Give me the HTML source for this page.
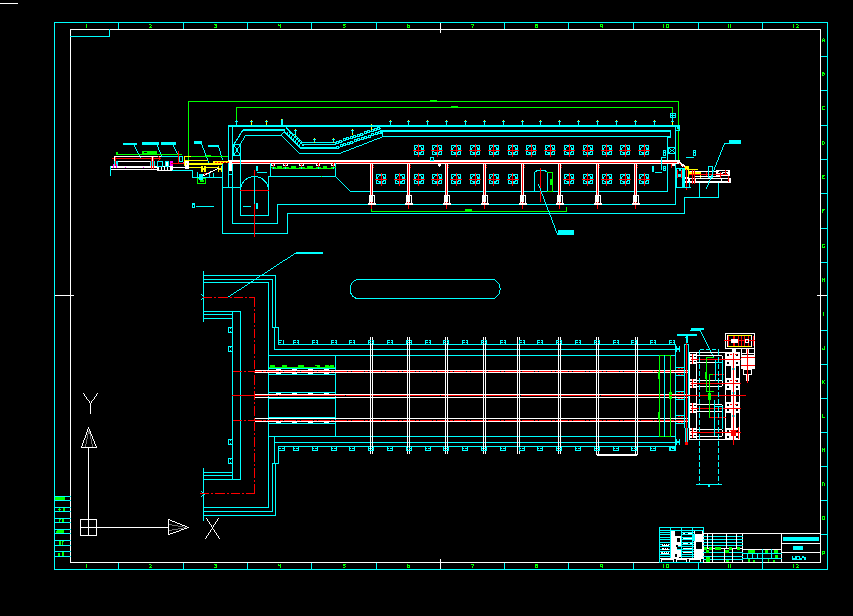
<!DOCTYPE html>
<html><head><meta charset="utf-8"><title>CAD</title>
<style>
html,body{margin:0;padding:0;background:#000;overflow:hidden}
svg{display:block;font-family:"Liberation Sans",sans-serif}
</style></head><body>
<svg width="853" height="616" viewBox="0 0 853 616" shape-rendering="crispEdges">
<rect width="853" height="616" fill="#000"/>
<rect x="0" y="3" width="18" height="1" fill="#ffffff"/>
<rect x="54" y="22" width="774" height="1" fill="#00ffff"/>
<rect x="54" y="569" width="774" height="1" fill="#00ffff"/>
<rect x="54" y="22" width="1" height="548" fill="#00ffff"/>
<rect x="827" y="22" width="1" height="548" fill="#00ffff"/>
<rect x="70" y="29" width="751" height="1" fill="#ffffff"/>
<rect x="70" y="562" width="751" height="1" fill="#ffffff"/>
<rect x="70" y="29" width="1" height="534" fill="#ffffff"/>
<rect x="820" y="29" width="1" height="534" fill="#ffffff"/>
<rect x="118" y="22" width="1" height="7" fill="#00ffff"/>
<rect x="118" y="563" width="1" height="7" fill="#00ffff"/>
<rect x="183" y="22" width="1" height="7" fill="#00ffff"/>
<rect x="183" y="563" width="1" height="7" fill="#00ffff"/>
<rect x="247" y="22" width="1" height="7" fill="#00ffff"/>
<rect x="247" y="563" width="1" height="7" fill="#00ffff"/>
<rect x="311" y="22" width="1" height="7" fill="#00ffff"/>
<rect x="311" y="563" width="1" height="7" fill="#00ffff"/>
<rect x="376" y="22" width="1" height="7" fill="#00ffff"/>
<rect x="376" y="563" width="1" height="7" fill="#00ffff"/>
<rect x="504" y="22" width="1" height="7" fill="#00ffff"/>
<rect x="504" y="563" width="1" height="7" fill="#00ffff"/>
<rect x="568" y="22" width="1" height="7" fill="#00ffff"/>
<rect x="568" y="563" width="1" height="7" fill="#00ffff"/>
<rect x="633" y="22" width="1" height="7" fill="#00ffff"/>
<rect x="633" y="563" width="1" height="7" fill="#00ffff"/>
<rect x="698" y="22" width="1" height="7" fill="#00ffff"/>
<rect x="698" y="563" width="1" height="7" fill="#00ffff"/>
<rect x="762" y="22" width="1" height="7" fill="#00ffff"/>
<rect x="762" y="563" width="1" height="7" fill="#00ffff"/>
<rect x="440" y="23" width="1" height="10" fill="#ffffff"/>
<rect x="440" y="559" width="1" height="10" fill="#ffffff"/>
<rect x="55" y="295" width="19" height="1" fill="#ffffff"/>
<rect x="817" y="295" width="10" height="1" fill="#ffffff"/>
<rect x="821" y="56" width="7" height="1" fill="#00ffff"/>
<rect x="821" y="90" width="7" height="1" fill="#00ffff"/>
<rect x="821" y="125" width="7" height="1" fill="#00ffff"/>
<rect x="821" y="159" width="7" height="1" fill="#00ffff"/>
<rect x="821" y="193" width="7" height="1" fill="#00ffff"/>
<rect x="821" y="228" width="7" height="1" fill="#00ffff"/>
<rect x="821" y="262" width="7" height="1" fill="#00ffff"/>
<rect x="821" y="330" width="7" height="1" fill="#00ffff"/>
<rect x="821" y="364" width="7" height="1" fill="#00ffff"/>
<rect x="821" y="398" width="7" height="1" fill="#00ffff"/>
<rect x="821" y="432" width="7" height="1" fill="#00ffff"/>
<rect x="821" y="466" width="7" height="1" fill="#00ffff"/>
<rect x="821" y="500" width="7" height="1" fill="#00ffff"/>
<rect x="821" y="534" width="7" height="1" fill="#00ffff"/>
<rect x="70" y="36" width="40" height="1" fill="#00ffff"/>
<rect x="109" y="29" width="1" height="8" fill="#00ffff"/>
<rect x="86" y="24" width="1" height="1" fill="#00ff00"/>
<rect x="86" y="25" width="1" height="1" fill="#00ff00"/>
<rect x="86" y="26" width="1" height="1" fill="#00ff00"/>
<rect x="86" y="27" width="1" height="1" fill="#00ff00"/>
<rect x="86" y="564" width="1" height="1" fill="#00ff00"/>
<rect x="86" y="565" width="1" height="1" fill="#00ff00"/>
<rect x="86" y="566" width="1" height="1" fill="#00ff00"/>
<rect x="86" y="567" width="1" height="1" fill="#00ff00"/>
<rect x="149" y="24" width="1" height="1" fill="#00ff00"/>
<rect x="150" y="24" width="1" height="1" fill="#00ff00"/>
<rect x="151" y="25" width="1" height="1" fill="#00ff00"/>
<rect x="150" y="26" width="1" height="1" fill="#00ff00"/>
<rect x="149" y="27" width="1" height="1" fill="#00ff00"/>
<rect x="150" y="27" width="1" height="1" fill="#00ff00"/>
<rect x="151" y="27" width="1" height="1" fill="#00ff00"/>
<rect x="149" y="564" width="1" height="1" fill="#00ff00"/>
<rect x="150" y="564" width="1" height="1" fill="#00ff00"/>
<rect x="151" y="565" width="1" height="1" fill="#00ff00"/>
<rect x="150" y="566" width="1" height="1" fill="#00ff00"/>
<rect x="149" y="567" width="1" height="1" fill="#00ff00"/>
<rect x="150" y="567" width="1" height="1" fill="#00ff00"/>
<rect x="151" y="567" width="1" height="1" fill="#00ff00"/>
<rect x="214" y="24" width="1" height="1" fill="#00ff00"/>
<rect x="215" y="24" width="1" height="1" fill="#00ff00"/>
<rect x="216" y="24" width="1" height="1" fill="#00ff00"/>
<rect x="215" y="25" width="1" height="1" fill="#00ff00"/>
<rect x="216" y="25" width="1" height="1" fill="#00ff00"/>
<rect x="216" y="26" width="1" height="1" fill="#00ff00"/>
<rect x="214" y="27" width="1" height="1" fill="#00ff00"/>
<rect x="215" y="27" width="1" height="1" fill="#00ff00"/>
<rect x="216" y="27" width="1" height="1" fill="#00ff00"/>
<rect x="214" y="564" width="1" height="1" fill="#00ff00"/>
<rect x="215" y="564" width="1" height="1" fill="#00ff00"/>
<rect x="216" y="564" width="1" height="1" fill="#00ff00"/>
<rect x="215" y="565" width="1" height="1" fill="#00ff00"/>
<rect x="216" y="565" width="1" height="1" fill="#00ff00"/>
<rect x="216" y="566" width="1" height="1" fill="#00ff00"/>
<rect x="214" y="567" width="1" height="1" fill="#00ff00"/>
<rect x="215" y="567" width="1" height="1" fill="#00ff00"/>
<rect x="216" y="567" width="1" height="1" fill="#00ff00"/>
<rect x="278" y="24" width="1" height="1" fill="#00ff00"/>
<rect x="280" y="24" width="1" height="1" fill="#00ff00"/>
<rect x="278" y="25" width="1" height="1" fill="#00ff00"/>
<rect x="279" y="25" width="1" height="1" fill="#00ff00"/>
<rect x="280" y="25" width="1" height="1" fill="#00ff00"/>
<rect x="280" y="26" width="1" height="1" fill="#00ff00"/>
<rect x="280" y="27" width="1" height="1" fill="#00ff00"/>
<rect x="278" y="564" width="1" height="1" fill="#00ff00"/>
<rect x="280" y="564" width="1" height="1" fill="#00ff00"/>
<rect x="278" y="565" width="1" height="1" fill="#00ff00"/>
<rect x="279" y="565" width="1" height="1" fill="#00ff00"/>
<rect x="280" y="565" width="1" height="1" fill="#00ff00"/>
<rect x="280" y="566" width="1" height="1" fill="#00ff00"/>
<rect x="280" y="567" width="1" height="1" fill="#00ff00"/>
<rect x="343" y="24" width="1" height="1" fill="#00ff00"/>
<rect x="344" y="24" width="1" height="1" fill="#00ff00"/>
<rect x="345" y="24" width="1" height="1" fill="#00ff00"/>
<rect x="343" y="25" width="1" height="1" fill="#00ff00"/>
<rect x="344" y="25" width="1" height="1" fill="#00ff00"/>
<rect x="345" y="26" width="1" height="1" fill="#00ff00"/>
<rect x="343" y="27" width="1" height="1" fill="#00ff00"/>
<rect x="344" y="27" width="1" height="1" fill="#00ff00"/>
<rect x="343" y="564" width="1" height="1" fill="#00ff00"/>
<rect x="344" y="564" width="1" height="1" fill="#00ff00"/>
<rect x="345" y="564" width="1" height="1" fill="#00ff00"/>
<rect x="343" y="565" width="1" height="1" fill="#00ff00"/>
<rect x="344" y="565" width="1" height="1" fill="#00ff00"/>
<rect x="345" y="566" width="1" height="1" fill="#00ff00"/>
<rect x="343" y="567" width="1" height="1" fill="#00ff00"/>
<rect x="344" y="567" width="1" height="1" fill="#00ff00"/>
<rect x="407" y="24" width="1" height="1" fill="#00ff00"/>
<rect x="407" y="25" width="1" height="1" fill="#00ff00"/>
<rect x="408" y="25" width="1" height="1" fill="#00ff00"/>
<rect x="409" y="25" width="1" height="1" fill="#00ff00"/>
<rect x="407" y="26" width="1" height="1" fill="#00ff00"/>
<rect x="409" y="26" width="1" height="1" fill="#00ff00"/>
<rect x="407" y="27" width="1" height="1" fill="#00ff00"/>
<rect x="408" y="27" width="1" height="1" fill="#00ff00"/>
<rect x="409" y="27" width="1" height="1" fill="#00ff00"/>
<rect x="407" y="564" width="1" height="1" fill="#00ff00"/>
<rect x="407" y="565" width="1" height="1" fill="#00ff00"/>
<rect x="408" y="565" width="1" height="1" fill="#00ff00"/>
<rect x="409" y="565" width="1" height="1" fill="#00ff00"/>
<rect x="407" y="566" width="1" height="1" fill="#00ff00"/>
<rect x="409" y="566" width="1" height="1" fill="#00ff00"/>
<rect x="407" y="567" width="1" height="1" fill="#00ff00"/>
<rect x="408" y="567" width="1" height="1" fill="#00ff00"/>
<rect x="409" y="567" width="1" height="1" fill="#00ff00"/>
<rect x="471" y="24" width="1" height="1" fill="#00ff00"/>
<rect x="472" y="24" width="1" height="1" fill="#00ff00"/>
<rect x="473" y="24" width="1" height="1" fill="#00ff00"/>
<rect x="473" y="25" width="1" height="1" fill="#00ff00"/>
<rect x="472" y="26" width="1" height="1" fill="#00ff00"/>
<rect x="472" y="27" width="1" height="1" fill="#00ff00"/>
<rect x="471" y="564" width="1" height="1" fill="#00ff00"/>
<rect x="472" y="564" width="1" height="1" fill="#00ff00"/>
<rect x="473" y="564" width="1" height="1" fill="#00ff00"/>
<rect x="473" y="565" width="1" height="1" fill="#00ff00"/>
<rect x="472" y="566" width="1" height="1" fill="#00ff00"/>
<rect x="472" y="567" width="1" height="1" fill="#00ff00"/>
<rect x="535" y="24" width="1" height="1" fill="#00ff00"/>
<rect x="536" y="24" width="1" height="1" fill="#00ff00"/>
<rect x="537" y="24" width="1" height="1" fill="#00ff00"/>
<rect x="535" y="25" width="1" height="1" fill="#00ff00"/>
<rect x="536" y="25" width="1" height="1" fill="#00ff00"/>
<rect x="537" y="25" width="1" height="1" fill="#00ff00"/>
<rect x="535" y="26" width="1" height="1" fill="#00ff00"/>
<rect x="537" y="26" width="1" height="1" fill="#00ff00"/>
<rect x="535" y="27" width="1" height="1" fill="#00ff00"/>
<rect x="536" y="27" width="1" height="1" fill="#00ff00"/>
<rect x="537" y="27" width="1" height="1" fill="#00ff00"/>
<rect x="535" y="564" width="1" height="1" fill="#00ff00"/>
<rect x="536" y="564" width="1" height="1" fill="#00ff00"/>
<rect x="537" y="564" width="1" height="1" fill="#00ff00"/>
<rect x="535" y="565" width="1" height="1" fill="#00ff00"/>
<rect x="536" y="565" width="1" height="1" fill="#00ff00"/>
<rect x="537" y="565" width="1" height="1" fill="#00ff00"/>
<rect x="535" y="566" width="1" height="1" fill="#00ff00"/>
<rect x="537" y="566" width="1" height="1" fill="#00ff00"/>
<rect x="535" y="567" width="1" height="1" fill="#00ff00"/>
<rect x="536" y="567" width="1" height="1" fill="#00ff00"/>
<rect x="537" y="567" width="1" height="1" fill="#00ff00"/>
<rect x="600" y="24" width="1" height="1" fill="#00ff00"/>
<rect x="601" y="24" width="1" height="1" fill="#00ff00"/>
<rect x="602" y="24" width="1" height="1" fill="#00ff00"/>
<rect x="600" y="25" width="1" height="1" fill="#00ff00"/>
<rect x="602" y="25" width="1" height="1" fill="#00ff00"/>
<rect x="600" y="26" width="1" height="1" fill="#00ff00"/>
<rect x="601" y="26" width="1" height="1" fill="#00ff00"/>
<rect x="602" y="26" width="1" height="1" fill="#00ff00"/>
<rect x="602" y="27" width="1" height="1" fill="#00ff00"/>
<rect x="600" y="564" width="1" height="1" fill="#00ff00"/>
<rect x="601" y="564" width="1" height="1" fill="#00ff00"/>
<rect x="602" y="564" width="1" height="1" fill="#00ff00"/>
<rect x="600" y="565" width="1" height="1" fill="#00ff00"/>
<rect x="602" y="565" width="1" height="1" fill="#00ff00"/>
<rect x="600" y="566" width="1" height="1" fill="#00ff00"/>
<rect x="601" y="566" width="1" height="1" fill="#00ff00"/>
<rect x="602" y="566" width="1" height="1" fill="#00ff00"/>
<rect x="602" y="567" width="1" height="1" fill="#00ff00"/>
<rect x="663" y="24" width="1" height="4" fill="#00ff00"/>
<rect x="666" y="24" width="1" height="1" fill="#00ff00"/>
<rect x="667" y="24" width="1" height="1" fill="#00ff00"/>
<rect x="668" y="24" width="1" height="1" fill="#00ff00"/>
<rect x="666" y="25" width="1" height="1" fill="#00ff00"/>
<rect x="668" y="25" width="1" height="1" fill="#00ff00"/>
<rect x="666" y="26" width="1" height="1" fill="#00ff00"/>
<rect x="668" y="26" width="1" height="1" fill="#00ff00"/>
<rect x="666" y="27" width="1" height="1" fill="#00ff00"/>
<rect x="667" y="27" width="1" height="1" fill="#00ff00"/>
<rect x="668" y="27" width="1" height="1" fill="#00ff00"/>
<rect x="663" y="564" width="1" height="4" fill="#00ff00"/>
<rect x="666" y="564" width="1" height="1" fill="#00ff00"/>
<rect x="667" y="564" width="1" height="1" fill="#00ff00"/>
<rect x="668" y="564" width="1" height="1" fill="#00ff00"/>
<rect x="666" y="565" width="1" height="1" fill="#00ff00"/>
<rect x="668" y="565" width="1" height="1" fill="#00ff00"/>
<rect x="666" y="566" width="1" height="1" fill="#00ff00"/>
<rect x="668" y="566" width="1" height="1" fill="#00ff00"/>
<rect x="666" y="567" width="1" height="1" fill="#00ff00"/>
<rect x="667" y="567" width="1" height="1" fill="#00ff00"/>
<rect x="668" y="567" width="1" height="1" fill="#00ff00"/>
<rect x="728" y="24" width="1" height="4" fill="#00ff00"/>
<rect x="730" y="24" width="1" height="4" fill="#00ff00"/>
<rect x="728" y="564" width="1" height="4" fill="#00ff00"/>
<rect x="730" y="564" width="1" height="4" fill="#00ff00"/>
<rect x="793" y="24" width="1" height="4" fill="#00ff00"/>
<rect x="796" y="24" width="1" height="1" fill="#00ff00"/>
<rect x="797" y="24" width="1" height="1" fill="#00ff00"/>
<rect x="798" y="25" width="1" height="1" fill="#00ff00"/>
<rect x="797" y="26" width="1" height="1" fill="#00ff00"/>
<rect x="796" y="27" width="1" height="1" fill="#00ff00"/>
<rect x="797" y="27" width="1" height="1" fill="#00ff00"/>
<rect x="798" y="27" width="1" height="1" fill="#00ff00"/>
<rect x="793" y="564" width="1" height="4" fill="#00ff00"/>
<rect x="796" y="564" width="1" height="1" fill="#00ff00"/>
<rect x="797" y="564" width="1" height="1" fill="#00ff00"/>
<rect x="798" y="565" width="1" height="1" fill="#00ff00"/>
<rect x="797" y="566" width="1" height="1" fill="#00ff00"/>
<rect x="796" y="567" width="1" height="1" fill="#00ff00"/>
<rect x="797" y="567" width="1" height="1" fill="#00ff00"/>
<rect x="798" y="567" width="1" height="1" fill="#00ff00"/>
<rect x="823" y="38" width="1" height="1" fill="#00ff00"/>
<rect x="822" y="39" width="1" height="1" fill="#00ff00"/>
<rect x="824" y="39" width="1" height="1" fill="#00ff00"/>
<rect x="822" y="40" width="1" height="1" fill="#00ff00"/>
<rect x="823" y="40" width="1" height="1" fill="#00ff00"/>
<rect x="824" y="40" width="1" height="1" fill="#00ff00"/>
<rect x="822" y="41" width="1" height="1" fill="#00ff00"/>
<rect x="824" y="41" width="1" height="1" fill="#00ff00"/>
<rect x="822" y="72" width="1" height="1" fill="#00ff00"/>
<rect x="823" y="72" width="1" height="1" fill="#00ff00"/>
<rect x="822" y="73" width="1" height="1" fill="#00ff00"/>
<rect x="823" y="73" width="1" height="1" fill="#00ff00"/>
<rect x="824" y="73" width="1" height="1" fill="#00ff00"/>
<rect x="822" y="74" width="1" height="1" fill="#00ff00"/>
<rect x="824" y="74" width="1" height="1" fill="#00ff00"/>
<rect x="822" y="75" width="1" height="1" fill="#00ff00"/>
<rect x="823" y="75" width="1" height="1" fill="#00ff00"/>
<rect x="822" y="106" width="1" height="1" fill="#00ff00"/>
<rect x="823" y="106" width="1" height="1" fill="#00ff00"/>
<rect x="824" y="106" width="1" height="1" fill="#00ff00"/>
<rect x="822" y="107" width="1" height="1" fill="#00ff00"/>
<rect x="822" y="108" width="1" height="1" fill="#00ff00"/>
<rect x="822" y="109" width="1" height="1" fill="#00ff00"/>
<rect x="823" y="109" width="1" height="1" fill="#00ff00"/>
<rect x="824" y="109" width="1" height="1" fill="#00ff00"/>
<rect x="822" y="141" width="1" height="1" fill="#00ff00"/>
<rect x="823" y="141" width="1" height="1" fill="#00ff00"/>
<rect x="822" y="142" width="1" height="1" fill="#00ff00"/>
<rect x="824" y="142" width="1" height="1" fill="#00ff00"/>
<rect x="822" y="143" width="1" height="1" fill="#00ff00"/>
<rect x="824" y="143" width="1" height="1" fill="#00ff00"/>
<rect x="822" y="144" width="1" height="1" fill="#00ff00"/>
<rect x="823" y="144" width="1" height="1" fill="#00ff00"/>
<rect x="822" y="175" width="1" height="1" fill="#00ff00"/>
<rect x="823" y="175" width="1" height="1" fill="#00ff00"/>
<rect x="824" y="175" width="1" height="1" fill="#00ff00"/>
<rect x="822" y="176" width="1" height="1" fill="#00ff00"/>
<rect x="823" y="176" width="1" height="1" fill="#00ff00"/>
<rect x="822" y="177" width="1" height="1" fill="#00ff00"/>
<rect x="822" y="178" width="1" height="1" fill="#00ff00"/>
<rect x="823" y="178" width="1" height="1" fill="#00ff00"/>
<rect x="824" y="178" width="1" height="1" fill="#00ff00"/>
<rect x="822" y="209" width="1" height="1" fill="#00ff00"/>
<rect x="823" y="209" width="1" height="1" fill="#00ff00"/>
<rect x="824" y="209" width="1" height="1" fill="#00ff00"/>
<rect x="822" y="210" width="1" height="1" fill="#00ff00"/>
<rect x="823" y="210" width="1" height="1" fill="#00ff00"/>
<rect x="822" y="211" width="1" height="1" fill="#00ff00"/>
<rect x="822" y="212" width="1" height="1" fill="#00ff00"/>
<rect x="822" y="244" width="1" height="1" fill="#00ff00"/>
<rect x="823" y="244" width="1" height="1" fill="#00ff00"/>
<rect x="824" y="244" width="1" height="1" fill="#00ff00"/>
<rect x="822" y="245" width="1" height="1" fill="#00ff00"/>
<rect x="822" y="246" width="1" height="1" fill="#00ff00"/>
<rect x="824" y="246" width="1" height="1" fill="#00ff00"/>
<rect x="822" y="247" width="1" height="1" fill="#00ff00"/>
<rect x="823" y="247" width="1" height="1" fill="#00ff00"/>
<rect x="824" y="247" width="1" height="1" fill="#00ff00"/>
<rect x="822" y="278" width="1" height="1" fill="#00ff00"/>
<rect x="824" y="278" width="1" height="1" fill="#00ff00"/>
<rect x="822" y="279" width="1" height="1" fill="#00ff00"/>
<rect x="823" y="279" width="1" height="1" fill="#00ff00"/>
<rect x="824" y="279" width="1" height="1" fill="#00ff00"/>
<rect x="822" y="280" width="1" height="1" fill="#00ff00"/>
<rect x="824" y="280" width="1" height="1" fill="#00ff00"/>
<rect x="822" y="281" width="1" height="1" fill="#00ff00"/>
<rect x="824" y="281" width="1" height="1" fill="#00ff00"/>
<rect x="823" y="312" width="1" height="1" fill="#00ff00"/>
<rect x="823" y="313" width="1" height="1" fill="#00ff00"/>
<rect x="823" y="314" width="1" height="1" fill="#00ff00"/>
<rect x="823" y="315" width="1" height="1" fill="#00ff00"/>
<rect x="824" y="346" width="1" height="1" fill="#00ff00"/>
<rect x="824" y="347" width="1" height="1" fill="#00ff00"/>
<rect x="822" y="348" width="1" height="1" fill="#00ff00"/>
<rect x="824" y="348" width="1" height="1" fill="#00ff00"/>
<rect x="822" y="349" width="1" height="1" fill="#00ff00"/>
<rect x="823" y="349" width="1" height="1" fill="#00ff00"/>
<rect x="824" y="349" width="1" height="1" fill="#00ff00"/>
<rect x="822" y="380" width="1" height="1" fill="#00ff00"/>
<rect x="824" y="380" width="1" height="1" fill="#00ff00"/>
<rect x="822" y="381" width="1" height="1" fill="#00ff00"/>
<rect x="823" y="381" width="1" height="1" fill="#00ff00"/>
<rect x="822" y="382" width="1" height="1" fill="#00ff00"/>
<rect x="823" y="382" width="1" height="1" fill="#00ff00"/>
<rect x="822" y="383" width="1" height="1" fill="#00ff00"/>
<rect x="824" y="383" width="1" height="1" fill="#00ff00"/>
<rect x="822" y="414" width="1" height="1" fill="#00ff00"/>
<rect x="822" y="415" width="1" height="1" fill="#00ff00"/>
<rect x="822" y="416" width="1" height="1" fill="#00ff00"/>
<rect x="822" y="417" width="1" height="1" fill="#00ff00"/>
<rect x="823" y="417" width="1" height="1" fill="#00ff00"/>
<rect x="824" y="417" width="1" height="1" fill="#00ff00"/>
<rect x="822" y="448" width="1" height="1" fill="#00ff00"/>
<rect x="824" y="448" width="1" height="1" fill="#00ff00"/>
<rect x="822" y="449" width="1" height="1" fill="#00ff00"/>
<rect x="823" y="449" width="1" height="1" fill="#00ff00"/>
<rect x="824" y="449" width="1" height="1" fill="#00ff00"/>
<rect x="822" y="450" width="1" height="1" fill="#00ff00"/>
<rect x="824" y="450" width="1" height="1" fill="#00ff00"/>
<rect x="822" y="451" width="1" height="1" fill="#00ff00"/>
<rect x="824" y="451" width="1" height="1" fill="#00ff00"/>
<rect x="822" y="482" width="1" height="1" fill="#00ff00"/>
<rect x="823" y="482" width="1" height="1" fill="#00ff00"/>
<rect x="822" y="483" width="1" height="1" fill="#00ff00"/>
<rect x="824" y="483" width="1" height="1" fill="#00ff00"/>
<rect x="822" y="484" width="1" height="1" fill="#00ff00"/>
<rect x="824" y="484" width="1" height="1" fill="#00ff00"/>
<rect x="822" y="485" width="1" height="1" fill="#00ff00"/>
<rect x="824" y="485" width="1" height="1" fill="#00ff00"/>
<rect x="822" y="516" width="1" height="1" fill="#00ff00"/>
<rect x="823" y="516" width="1" height="1" fill="#00ff00"/>
<rect x="824" y="516" width="1" height="1" fill="#00ff00"/>
<rect x="822" y="517" width="1" height="1" fill="#00ff00"/>
<rect x="824" y="517" width="1" height="1" fill="#00ff00"/>
<rect x="822" y="518" width="1" height="1" fill="#00ff00"/>
<rect x="824" y="518" width="1" height="1" fill="#00ff00"/>
<rect x="822" y="519" width="1" height="1" fill="#00ff00"/>
<rect x="823" y="519" width="1" height="1" fill="#00ff00"/>
<rect x="824" y="519" width="1" height="1" fill="#00ff00"/>
<rect x="822" y="551" width="1" height="1" fill="#00ff00"/>
<rect x="823" y="551" width="1" height="1" fill="#00ff00"/>
<rect x="824" y="551" width="1" height="1" fill="#00ff00"/>
<rect x="822" y="552" width="1" height="1" fill="#00ff00"/>
<rect x="824" y="552" width="1" height="1" fill="#00ff00"/>
<rect x="822" y="553" width="1" height="1" fill="#00ff00"/>
<rect x="823" y="553" width="1" height="1" fill="#00ff00"/>
<rect x="824" y="553" width="1" height="1" fill="#00ff00"/>
<rect x="822" y="554" width="1" height="1" fill="#00ff00"/>
<rect x="54" y="496" width="17" height="1" fill="#00ffff"/>
<rect x="54" y="500" width="17" height="1" fill="#00ffff"/>
<rect x="54" y="507" width="17" height="1" fill="#00ffff"/>
<rect x="54" y="511" width="17" height="1" fill="#00ffff"/>
<rect x="54" y="518" width="17" height="1" fill="#00ffff"/>
<rect x="54" y="522" width="17" height="1" fill="#00ffff"/>
<rect x="54" y="529" width="17" height="1" fill="#00ffff"/>
<rect x="54" y="533" width="17" height="1" fill="#00ffff"/>
<rect x="54" y="540" width="17" height="1" fill="#00ffff"/>
<rect x="54" y="545" width="17" height="1" fill="#00ffff"/>
<rect x="54" y="551" width="17" height="1" fill="#00ffff"/>
<rect x="54" y="556" width="17" height="1" fill="#00ffff"/>
<rect x="55" y="497" width="10" height="3" fill="#00ff00"/>
<rect x="56" y="530" width="8" height="3" fill="#00ff00"/>
<rect x="56" y="530" width="1" height="1" fill="#000"/>
<rect x="58" y="509" width="3" height="1" fill="#00ff00"/>
<rect x="59" y="508" width="1" height="3" fill="#00ff00"/>
<rect x="63" y="508" width="2" height="3" fill="#00ff00"/>
<rect x="59" y="519" width="2" height="3" fill="#00ff00"/>
<rect x="62" y="519" width="2" height="3" fill="#00ff00"/>
<rect x="60" y="520" width="1" height="2" fill="#000"/>
<rect x="59" y="541" width="2" height="4" fill="#00ff00"/>
<rect x="62" y="541" width="2" height="4" fill="#00ff00"/>
<rect x="63" y="542" width="1" height="3" fill="#000"/>
<rect x="58" y="553" width="2" height="3" fill="#00ff00"/>
<rect x="62" y="552" width="2" height="4" fill="#00ff00"/>
<rect x="80" y="519" width="17" height="1" fill="#ffffff"/>
<rect x="80" y="535" width="17" height="1" fill="#ffffff"/>
<rect x="80" y="519" width="1" height="17" fill="#ffffff"/>
<rect x="96" y="519" width="1" height="17" fill="#ffffff"/>
<rect x="80" y="527" width="17" height="1" fill="#ffffff"/>
<rect x="88" y="519" width="1" height="17" fill="#ffffff"/>
<rect x="88" y="447" width="1" height="73" fill="#ffffff"/>
<rect x="96" y="527" width="73" height="1" fill="#ffffff"/>
<rect x="81" y="447" width="16" height="1" fill="#ffffff"/>
<rect x="96" y="446" width="1" height="2" fill="#ffffff"/>
<rect x="95" y="444" width="1" height="2" fill="#ffffff"/>
<rect x="94" y="441" width="1" height="3" fill="#ffffff"/>
<rect x="93" y="439" width="1" height="2" fill="#ffffff"/>
<rect x="92" y="436" width="1" height="3" fill="#ffffff"/>
<rect x="91" y="434" width="1" height="2" fill="#ffffff"/>
<rect x="90" y="431" width="1" height="3" fill="#ffffff"/>
<rect x="89" y="429" width="1" height="2" fill="#ffffff"/>
<rect x="88" y="427" width="1" height="2" fill="#ffffff"/>
<rect x="88" y="427" width="1" height="2" fill="#ffffff"/>
<rect x="87" y="429" width="1" height="3" fill="#ffffff"/>
<rect x="86" y="432" width="1" height="3" fill="#ffffff"/>
<rect x="85" y="435" width="1" height="3" fill="#ffffff"/>
<rect x="84" y="438" width="1" height="2" fill="#ffffff"/>
<rect x="83" y="440" width="1" height="3" fill="#ffffff"/>
<rect x="82" y="443" width="1" height="3" fill="#ffffff"/>
<rect x="81" y="446" width="1" height="2" fill="#ffffff"/>
<rect x="85" y="444" width="1" height="3" fill="#707070"/>
<rect x="86" y="439" width="1" height="5" fill="#707070"/>
<rect x="87" y="434" width="1" height="5" fill="#707070"/>
<rect x="88" y="431" width="1" height="3" fill="#707070"/>
<rect x="92" y="444" width="1" height="3" fill="#707070"/>
<rect x="91" y="439" width="1" height="5" fill="#707070"/>
<rect x="90" y="434" width="1" height="5" fill="#707070"/>
<rect x="89" y="431" width="1" height="3" fill="#707070"/>
<rect x="168" y="519" width="1" height="16" fill="#ffffff"/>
<rect x="168" y="534" width="2" height="1" fill="#ffffff"/>
<rect x="170" y="533" width="3" height="1" fill="#ffffff"/>
<rect x="173" y="532" width="3" height="1" fill="#ffffff"/>
<rect x="176" y="531" width="3" height="1" fill="#ffffff"/>
<rect x="179" y="530" width="2" height="1" fill="#ffffff"/>
<rect x="181" y="529" width="3" height="1" fill="#ffffff"/>
<rect x="184" y="528" width="3" height="1" fill="#ffffff"/>
<rect x="187" y="527" width="2" height="1" fill="#ffffff"/>
<rect x="187" y="527" width="2" height="1" fill="#ffffff"/>
<rect x="185" y="526" width="2" height="1" fill="#ffffff"/>
<rect x="182" y="525" width="3" height="1" fill="#ffffff"/>
<rect x="180" y="524" width="2" height="1" fill="#ffffff"/>
<rect x="177" y="523" width="3" height="1" fill="#ffffff"/>
<rect x="175" y="522" width="2" height="1" fill="#ffffff"/>
<rect x="172" y="521" width="3" height="1" fill="#ffffff"/>
<rect x="170" y="520" width="2" height="1" fill="#ffffff"/>
<rect x="168" y="519" width="2" height="1" fill="#ffffff"/>
<rect x="169" y="524" width="3" height="1" fill="#707070"/>
<rect x="172" y="525" width="6" height="1" fill="#707070"/>
<rect x="178" y="526" width="5" height="1" fill="#707070"/>
<rect x="183" y="527" width="3" height="1" fill="#707070"/>
<rect x="169" y="530" width="3" height="1" fill="#707070"/>
<rect x="172" y="529" width="6" height="1" fill="#707070"/>
<rect x="178" y="528" width="5" height="1" fill="#707070"/>
<rect x="183" y="527" width="3" height="1" fill="#707070"/>
<rect x="83" y="393" width="1" height="1" fill="#ffffff"/>
<rect x="84" y="394" width="1" height="2" fill="#ffffff"/>
<rect x="85" y="396" width="1" height="1" fill="#ffffff"/>
<rect x="86" y="397" width="1" height="2" fill="#ffffff"/>
<rect x="87" y="399" width="1" height="1" fill="#ffffff"/>
<rect x="88" y="400" width="1" height="1" fill="#ffffff"/>
<rect x="89" y="401" width="1" height="2" fill="#ffffff"/>
<rect x="90" y="403" width="1" height="1" fill="#ffffff"/>
<rect x="97" y="393" width="1" height="1" fill="#ffffff"/>
<rect x="96" y="394" width="1" height="2" fill="#ffffff"/>
<rect x="95" y="396" width="1" height="1" fill="#ffffff"/>
<rect x="94" y="397" width="1" height="2" fill="#ffffff"/>
<rect x="93" y="399" width="1" height="1" fill="#ffffff"/>
<rect x="92" y="400" width="1" height="1" fill="#ffffff"/>
<rect x="91" y="401" width="1" height="2" fill="#ffffff"/>
<rect x="90" y="403" width="1" height="1" fill="#ffffff"/>
<rect x="90" y="403" width="1" height="11" fill="#ffffff"/>
<rect x="206" y="518" width="1" height="1" fill="#ffffff"/>
<rect x="207" y="519" width="1" height="2" fill="#ffffff"/>
<rect x="208" y="521" width="1" height="1" fill="#ffffff"/>
<rect x="209" y="522" width="1" height="2" fill="#ffffff"/>
<rect x="210" y="524" width="1" height="1" fill="#ffffff"/>
<rect x="211" y="525" width="1" height="2" fill="#ffffff"/>
<rect x="212" y="527" width="1" height="2" fill="#ffffff"/>
<rect x="213" y="529" width="1" height="1" fill="#ffffff"/>
<rect x="214" y="530" width="1" height="2" fill="#ffffff"/>
<rect x="215" y="532" width="1" height="1" fill="#ffffff"/>
<rect x="216" y="533" width="1" height="2" fill="#ffffff"/>
<rect x="217" y="535" width="1" height="1" fill="#ffffff"/>
<rect x="218" y="536" width="1" height="2" fill="#ffffff"/>
<rect x="219" y="538" width="1" height="1" fill="#ffffff"/>
<rect x="218" y="518" width="1" height="1" fill="#ffffff"/>
<rect x="217" y="519" width="1" height="2" fill="#ffffff"/>
<rect x="216" y="521" width="1" height="1" fill="#ffffff"/>
<rect x="215" y="522" width="1" height="2" fill="#ffffff"/>
<rect x="214" y="524" width="1" height="1" fill="#ffffff"/>
<rect x="213" y="525" width="1" height="2" fill="#ffffff"/>
<rect x="212" y="527" width="1" height="2" fill="#ffffff"/>
<rect x="211" y="529" width="1" height="1" fill="#ffffff"/>
<rect x="210" y="530" width="1" height="2" fill="#ffffff"/>
<rect x="209" y="532" width="1" height="1" fill="#ffffff"/>
<rect x="208" y="533" width="1" height="2" fill="#ffffff"/>
<rect x="207" y="535" width="1" height="1" fill="#ffffff"/>
<rect x="206" y="536" width="1" height="2" fill="#ffffff"/>
<rect x="205" y="538" width="1" height="1" fill="#ffffff"/>
<rect x="659" y="527" width="45" height="1" fill="#00ffff"/>
<rect x="659" y="562" width="45" height="1" fill="#00ffff"/>
<rect x="659" y="527" width="1" height="36" fill="#00ffff"/>
<rect x="703" y="527" width="1" height="36" fill="#00ffff"/>
<rect x="659" y="530" width="45" height="1" fill="#00ffff"/>
<rect x="659" y="532" width="45" height="1" fill="#00ffff"/>
<rect x="659" y="534" width="45" height="1" fill="#00ffff"/>
<rect x="659" y="537" width="45" height="1" fill="#00ffff"/>
<rect x="659" y="539" width="45" height="1" fill="#00ffff"/>
<rect x="659" y="542" width="45" height="1" fill="#00ffff"/>
<rect x="659" y="544" width="45" height="1" fill="#00ffff"/>
<rect x="659" y="546" width="45" height="1" fill="#00ffff"/>
<rect x="659" y="549" width="45" height="1" fill="#00ffff"/>
<rect x="659" y="551" width="45" height="1" fill="#00ffff"/>
<rect x="659" y="554" width="45" height="1" fill="#00ffff"/>
<rect x="659" y="556" width="45" height="1" fill="#00ffff"/>
<rect x="659" y="558" width="45" height="1" fill="#00ffff"/>
<rect x="670" y="527" width="1" height="36" fill="#00ffff"/>
<rect x="681" y="527" width="1" height="36" fill="#00ffff"/>
<rect x="692" y="527" width="1" height="36" fill="#00ffff"/>
<rect x="671" y="531" width="6" height="27" fill="#ffffff"/>
<rect x="677" y="536" width="4" height="10" fill="#ffffff"/>
<rect x="677" y="550" width="4" height="7" fill="#ffffff"/>
<rect x="675" y="531" width="6" height="5" fill="#000"/>
<rect x="677" y="538" width="3" height="4" fill="#000"/>
<rect x="676" y="545" width="2" height="2" fill="#000"/>
<rect x="694" y="531" width="9" height="27" fill="#ffffff"/>
<rect x="695" y="531" width="7" height="3" fill="#000"/>
<rect x="696" y="542" width="6" height="7" fill="#000"/>
<rect x="693" y="534" width="2" height="7" fill="#00ffff"/>
<rect x="683" y="533" width="9" height="1" fill="#ffffff"/>
<rect x="683" y="538" width="9" height="1" fill="#ffffff"/>
<rect x="683" y="543" width="9" height="1" fill="#ffffff"/>
<rect x="683" y="548" width="9" height="1" fill="#ffffff"/>
<rect x="683" y="552" width="9" height="1" fill="#ffffff"/>
<rect x="685" y="533" width="3" height="1" fill="#000"/>
<rect x="688" y="543" width="2" height="1" fill="#000"/>
<rect x="662" y="544" width="7" height="2" fill="#ffffff"/>
<rect x="662" y="548" width="7" height="2" fill="#ffffff"/>
<rect x="661" y="552" width="8" height="2" fill="#ffffff"/>
<rect x="663" y="544" width="1" height="1" fill="#000"/>
<rect x="664" y="548" width="1" height="1" fill="#000"/>
<rect x="663" y="552" width="1" height="1" fill="#000"/>
<rect x="665" y="544" width="1" height="1" fill="#000"/>
<rect x="666" y="548" width="1" height="1" fill="#000"/>
<rect x="665" y="552" width="1" height="1" fill="#000"/>
<rect x="667" y="544" width="1" height="1" fill="#000"/>
<rect x="668" y="548" width="1" height="1" fill="#000"/>
<rect x="667" y="552" width="1" height="1" fill="#000"/>
<rect x="660" y="558" width="43" height="4" fill="#000"/>
<rect x="660" y="558" width="43" height="1" fill="#ffffff"/>
<rect x="661" y="559" width="13" height="1" fill="#ffffff"/>
<rect x="661" y="559" width="1" height="3" fill="#ffffff"/>
<rect x="673" y="559" width="1" height="3" fill="#ffffff"/>
<rect x="676" y="559" width="11" height="1" fill="#ffffff"/>
<rect x="676" y="559" width="1" height="3" fill="#ffffff"/>
<rect x="686" y="559" width="1" height="3" fill="#ffffff"/>
<rect x="689" y="559" width="12" height="1" fill="#ffffff"/>
<rect x="689" y="559" width="1" height="3" fill="#ffffff"/>
<rect x="700" y="559" width="1" height="3" fill="#ffffff"/>
<rect x="673" y="553" width="6" height="5" fill="#ffffff"/>
<rect x="675" y="554" width="2" height="3" fill="#000"/>
<rect x="703" y="533" width="118" height="1" fill="#ffffff"/>
<rect x="703" y="533" width="1" height="30" fill="#ffffff"/>
<rect x="742" y="533" width="1" height="30" fill="#ffffff"/>
<rect x="781" y="533" width="1" height="30" fill="#ffffff"/>
<rect x="781" y="543" width="40" height="1" fill="#ffffff"/>
<rect x="781" y="552" width="40" height="1" fill="#ffffff"/>
<rect x="783" y="537" width="36" height="4" fill="#00ffff"/>
<rect x="793" y="546" width="10" height="4" fill="#00ffff"/>
<rect x="792" y="556" width="14" height="4" fill="#00ffff"/>
<rect x="793" y="556" width="2" height="2" fill="#000"/>
<rect x="797" y="557" width="2" height="2" fill="#000"/>
<rect x="800" y="556" width="2" height="2" fill="#000"/>
<rect x="802" y="558" width="2" height="2" fill="#000"/>
<rect x="804" y="556" width="2" height="1" fill="#000"/>
<rect x="742" y="549" width="40" height="1" fill="#ffffff"/>
<rect x="742" y="553" width="40" height="1" fill="#00ffff"/>
<rect x="742" y="558" width="40" height="1" fill="#00ffff"/>
<rect x="747" y="553" width="1" height="6" fill="#00ffff"/>
<rect x="752" y="553" width="1" height="6" fill="#00ffff"/>
<rect x="757" y="553" width="1" height="6" fill="#00ffff"/>
<rect x="762" y="553" width="1" height="6" fill="#00ffff"/>
<rect x="762" y="549" width="1" height="14" fill="#00ffff"/>
<rect x="771" y="549" width="1" height="10" fill="#00ffff"/>
<rect x="703" y="536" width="40" height="1" fill="#00ffff"/>
<rect x="703" y="539" width="40" height="1" fill="#00ffff"/>
<rect x="703" y="542" width="40" height="1" fill="#00ffff"/>
<rect x="703" y="545" width="40" height="1" fill="#00ffff"/>
<rect x="703" y="548" width="40" height="1" fill="#ffffff"/>
<rect x="703" y="552" width="40" height="1" fill="#00ffff"/>
<rect x="703" y="556" width="40" height="1" fill="#00ffff"/>
<rect x="703" y="559" width="40" height="1" fill="#00ffff"/>
<rect x="707" y="533" width="1" height="16" fill="#ffffff"/>
<rect x="712" y="533" width="1" height="16" fill="#ffffff"/>
<rect x="726" y="533" width="1" height="16" fill="#ffffff"/>
<rect x="736" y="533" width="1" height="16" fill="#ffffff"/>
<rect x="712" y="548" width="1" height="15" fill="#ffffff"/>
<rect x="724" y="548" width="1" height="15" fill="#ffffff"/>
<rect x="732" y="548" width="1" height="15" fill="#ffffff"/>
<rect x="704" y="547" width="3" height="3" fill="#00ff00"/>
<rect x="709" y="547" width="3" height="3" fill="#00ff00"/>
<rect x="715" y="547" width="6" height="3" fill="#00ff00"/>
<rect x="729" y="547" width="3" height="3" fill="#00ff00"/>
<rect x="737" y="547" width="3" height="3" fill="#00ff00"/>
<rect x="706" y="550" width="3" height="3" fill="#00ff00"/>
<rect x="725" y="550" width="4" height="3" fill="#00ff00"/>
<rect x="706" y="557" width="4" height="5" fill="#00ff00"/>
<rect x="726" y="560" width="3" height="2" fill="#00ff00"/>
<rect x="748" y="550" width="7" height="3" fill="#00ff00"/>
<rect x="765" y="550" width="3" height="3" fill="#00ff00"/>
<rect x="774" y="550" width="4" height="3" fill="#00ff00"/>
<rect x="775" y="555" width="3" height="3" fill="#00ff00"/>
<rect x="748" y="559" width="2" height="3" fill="#00ff00"/>
<rect x="753" y="560" width="2" height="2" fill="#00ff00"/>
<rect x="768" y="559" width="1" height="3" fill="#00ff00"/>
<rect x="773" y="560" width="2" height="2" fill="#00ff00"/>
<rect x="188" y="101" width="1" height="60" fill="#00ff00"/>
<rect x="188" y="101" width="491" height="1" fill="#00ff00"/>
<rect x="678" y="101" width="1" height="59" fill="#00ff00"/>
<rect x="236" y="107" width="1" height="18" fill="#00ff00"/>
<rect x="236" y="107" width="437" height="1" fill="#00ff00"/>
<rect x="672" y="107" width="1" height="17" fill="#00ff00"/>
<rect x="430" y="100" width="7" height="2" fill="#00ff00"/>
<rect x="451" y="106" width="7" height="2" fill="#00ff00"/>
<rect x="371" y="211" width="196" height="1" fill="#00ff00"/>
<rect x="371" y="207" width="1" height="5" fill="#00ff00"/>
<rect x="566" y="207" width="1" height="5" fill="#00ff00"/>
<rect x="465" y="209" width="7" height="3" fill="#00ff00"/>
<rect x="228" y="125" width="452" height="2" fill="#00ffff"/>
<rect x="228" y="125" width="1" height="63" fill="#00ffff"/>
<rect x="232" y="125" width="1" height="99" fill="#00ffff"/>
<rect x="222" y="187" width="19" height="1" fill="#00ffff"/>
<rect x="222" y="233" width="66" height="1" fill="#00ffff"/>
<rect x="287" y="213" width="1" height="21" fill="#00ffff"/>
<rect x="287" y="213" width="398" height="1" fill="#00ffff"/>
<rect x="684" y="197" width="1" height="17" fill="#00ffff"/>
<rect x="684" y="197" width="35" height="1" fill="#00ffff"/>
<rect x="718" y="182" width="1" height="16" fill="#00ffff"/>
<rect x="699" y="182" width="1" height="16" fill="#00ffff"/>
<rect x="232" y="223" width="46" height="1" fill="#00ffff"/>
<rect x="277" y="204" width="1" height="20" fill="#00ffff"/>
<rect x="277" y="204" width="399" height="1" fill="#00ffff"/>
<rect x="675" y="125" width="1" height="80" fill="#00ffff"/>
<rect x="233" y="144" width="8" height="1" fill="#00ffff"/>
<rect x="233" y="155" width="8" height="1" fill="#00ffff"/>
<rect x="233" y="144" width="1" height="12" fill="#00ffff"/>
<rect x="240" y="144" width="1" height="12" fill="#00ffff"/>
<rect x="233" y="144" width="1" height="1" fill="#00ffff"/>
<rect x="234" y="145" width="1" height="2" fill="#00ffff"/>
<rect x="235" y="147" width="1" height="1" fill="#00ffff"/>
<rect x="236" y="148" width="1" height="2" fill="#00ffff"/>
<rect x="237" y="150" width="1" height="2" fill="#00ffff"/>
<rect x="238" y="152" width="1" height="1" fill="#00ffff"/>
<rect x="239" y="153" width="1" height="2" fill="#00ffff"/>
<rect x="240" y="155" width="1" height="1" fill="#00ffff"/>
<rect x="240" y="144" width="1" height="1" fill="#00ffff"/>
<rect x="239" y="145" width="1" height="2" fill="#00ffff"/>
<rect x="238" y="147" width="1" height="1" fill="#00ffff"/>
<rect x="237" y="148" width="1" height="2" fill="#00ffff"/>
<rect x="236" y="150" width="1" height="2" fill="#00ffff"/>
<rect x="235" y="152" width="1" height="1" fill="#00ffff"/>
<rect x="234" y="153" width="1" height="2" fill="#00ffff"/>
<rect x="233" y="155" width="1" height="1" fill="#00ffff"/>
<rect x="243" y="129" width="42" height="2" fill="#00ffff"/>
<rect x="245" y="135" width="37" height="1" fill="#00ffff"/>
<rect x="243" y="129" width="1" height="1" fill="#00ffff"/>
<rect x="242" y="130" width="1" height="2" fill="#00ffff"/>
<rect x="241" y="132" width="1" height="1" fill="#00ffff"/>
<rect x="240" y="133" width="1" height="2" fill="#00ffff"/>
<rect x="239" y="135" width="1" height="2" fill="#00ffff"/>
<rect x="238" y="137" width="1" height="1" fill="#00ffff"/>
<rect x="237" y="138" width="1" height="2" fill="#00ffff"/>
<rect x="236" y="140" width="1" height="1" fill="#00ffff"/>
<rect x="235" y="141" width="1" height="2" fill="#00ffff"/>
<rect x="234" y="143" width="1" height="1" fill="#00ffff"/>
<rect x="242" y="130" width="1" height="1" fill="#00ffff"/>
<rect x="241" y="131" width="1" height="2" fill="#00ffff"/>
<rect x="240" y="133" width="1" height="1" fill="#00ffff"/>
<rect x="239" y="134" width="1" height="2" fill="#00ffff"/>
<rect x="238" y="136" width="1" height="2" fill="#00ffff"/>
<rect x="237" y="138" width="1" height="1" fill="#00ffff"/>
<rect x="236" y="139" width="1" height="2" fill="#00ffff"/>
<rect x="235" y="141" width="1" height="1" fill="#00ffff"/>
<rect x="234" y="142" width="1" height="2" fill="#00ffff"/>
<rect x="233" y="144" width="1" height="1" fill="#00ffff"/>
<rect x="245" y="135" width="1" height="1" fill="#00ffff"/>
<rect x="244" y="136" width="1" height="2" fill="#00ffff"/>
<rect x="243" y="138" width="1" height="2" fill="#00ffff"/>
<rect x="242" y="140" width="1" height="1" fill="#00ffff"/>
<rect x="241" y="141" width="1" height="2" fill="#00ffff"/>
<rect x="240" y="143" width="1" height="1" fill="#00ffff"/>
<rect x="281" y="134" width="1" height="2" fill="#00ffff"/>
<rect x="282" y="133" width="1" height="1" fill="#00ffff"/>
<rect x="282" y="133" width="1" height="1" fill="#00ffff"/>
<rect x="283" y="132" width="1" height="1" fill="#00ffff"/>
<rect x="284" y="131" width="1" height="1" fill="#00ffff"/>
<rect x="286" y="127" width="1" height="1" fill="#00ffff"/>
<rect x="287" y="128" width="1" height="1" fill="#00ffff"/>
<rect x="288" y="129" width="1" height="1" fill="#00ffff"/>
<rect x="289" y="130" width="1" height="1" fill="#00ffff"/>
<rect x="290" y="131" width="1" height="1" fill="#00ffff"/>
<rect x="291" y="132" width="1" height="1" fill="#00ffff"/>
<rect x="292" y="133" width="1" height="1" fill="#00ffff"/>
<rect x="293" y="134" width="2" height="1" fill="#00ffff"/>
<rect x="295" y="135" width="1" height="1" fill="#00ffff"/>
<rect x="296" y="136" width="1" height="1" fill="#00ffff"/>
<rect x="297" y="137" width="1" height="1" fill="#00ffff"/>
<rect x="298" y="138" width="1" height="1" fill="#00ffff"/>
<rect x="299" y="139" width="1" height="1" fill="#00ffff"/>
<rect x="300" y="140" width="1" height="1" fill="#00ffff"/>
<rect x="301" y="141" width="1" height="1" fill="#00ffff"/>
<rect x="302" y="142" width="1" height="1" fill="#00ffff"/>
<rect x="286" y="128" width="1" height="1" fill="#00ffff"/>
<rect x="287" y="129" width="1" height="1" fill="#00ffff"/>
<rect x="288" y="130" width="1" height="1" fill="#00ffff"/>
<rect x="289" y="131" width="1" height="1" fill="#00ffff"/>
<rect x="290" y="132" width="1" height="1" fill="#00ffff"/>
<rect x="291" y="133" width="1" height="1" fill="#00ffff"/>
<rect x="292" y="134" width="1" height="1" fill="#00ffff"/>
<rect x="293" y="135" width="1" height="1" fill="#00ffff"/>
<rect x="294" y="136" width="1" height="1" fill="#00ffff"/>
<rect x="295" y="137" width="1" height="1" fill="#00ffff"/>
<rect x="296" y="138" width="1" height="1" fill="#00ffff"/>
<rect x="297" y="139" width="1" height="1" fill="#00ffff"/>
<rect x="298" y="140" width="1" height="1" fill="#00ffff"/>
<rect x="299" y="141" width="1" height="1" fill="#00ffff"/>
<rect x="300" y="142" width="1" height="1" fill="#00ffff"/>
<rect x="301" y="143" width="1" height="1" fill="#00ffff"/>
<rect x="302" y="144" width="1" height="1" fill="#00ffff"/>
<rect x="284" y="131" width="1" height="2" fill="#00ffff"/>
<rect x="285" y="132" width="1" height="2" fill="#00ffff"/>
<rect x="286" y="133" width="1" height="2" fill="#00ffff"/>
<rect x="287" y="134" width="1" height="2" fill="#00ffff"/>
<rect x="288" y="135" width="1" height="2" fill="#00ffff"/>
<rect x="289" y="136" width="1" height="2" fill="#00ffff"/>
<rect x="290" y="137" width="1" height="2" fill="#00ffff"/>
<rect x="291" y="138" width="1" height="2" fill="#00ffff"/>
<rect x="292" y="139" width="1" height="2" fill="#00ffff"/>
<rect x="293" y="140" width="1" height="2" fill="#00ffff"/>
<rect x="294" y="141" width="1" height="2" fill="#00ffff"/>
<rect x="295" y="142" width="1" height="2" fill="#00ffff"/>
<rect x="296" y="143" width="1" height="2" fill="#00ffff"/>
<rect x="297" y="144" width="1" height="2" fill="#00ffff"/>
<rect x="298" y="145" width="1" height="2" fill="#00ffff"/>
<rect x="299" y="146" width="1" height="2" fill="#00ffff"/>
<rect x="300" y="147" width="1" height="2" fill="#00ffff"/>
<rect x="281" y="135" width="1" height="1" fill="#00ffff"/>
<rect x="282" y="136" width="1" height="1" fill="#00ffff"/>
<rect x="283" y="137" width="1" height="1" fill="#00ffff"/>
<rect x="284" y="138" width="1" height="1" fill="#00ffff"/>
<rect x="285" y="139" width="1" height="1" fill="#00ffff"/>
<rect x="286" y="140" width="1" height="1" fill="#00ffff"/>
<rect x="287" y="141" width="1" height="1" fill="#00ffff"/>
<rect x="288" y="142" width="1" height="1" fill="#00ffff"/>
<rect x="289" y="143" width="1" height="1" fill="#00ffff"/>
<rect x="290" y="144" width="1" height="1" fill="#00ffff"/>
<rect x="291" y="145" width="1" height="1" fill="#00ffff"/>
<rect x="292" y="146" width="1" height="1" fill="#00ffff"/>
<rect x="293" y="147" width="1" height="1" fill="#00ffff"/>
<rect x="294" y="148" width="1" height="1" fill="#00ffff"/>
<rect x="295" y="149" width="1" height="1" fill="#00ffff"/>
<rect x="296" y="150" width="1" height="1" fill="#00ffff"/>
<rect x="297" y="151" width="1" height="1" fill="#00ffff"/>
<rect x="298" y="152" width="1" height="1" fill="#00ffff"/>
<rect x="299" y="153" width="1" height="1" fill="#00ffff"/>
<rect x="289" y="131" width="2" height="2" fill="#00ffff"/>
<rect x="290" y="132" width="2" height="2" fill="#00ffff"/>
<rect x="292" y="134" width="2" height="2" fill="#00ffff"/>
<rect x="294" y="136" width="2" height="2" fill="#00ffff"/>
<rect x="296" y="138" width="2" height="2" fill="#00ffff"/>
<rect x="298" y="140" width="2" height="2" fill="#00ffff"/>
<rect x="300" y="142" width="2" height="2" fill="#00ffff"/>
<rect x="302" y="144" width="2" height="2" fill="#00ffff"/>
<rect x="287" y="132" width="1" height="2" fill="#00ffff"/>
<rect x="289" y="134" width="1" height="2" fill="#00ffff"/>
<rect x="291" y="136" width="1" height="2" fill="#00ffff"/>
<rect x="293" y="138" width="1" height="2" fill="#00ffff"/>
<rect x="295" y="140" width="1" height="2" fill="#00ffff"/>
<rect x="297" y="142" width="1" height="2" fill="#00ffff"/>
<rect x="299" y="144" width="1" height="2" fill="#00ffff"/>
<rect x="302" y="142" width="34" height="1" fill="#00ffff"/>
<rect x="302" y="144" width="34" height="1" fill="#00ffff"/>
<rect x="300" y="147" width="38" height="2" fill="#00ffff"/>
<rect x="299" y="153" width="41" height="1" fill="#00ffff"/>
<rect x="339" y="153" width="2" height="1" fill="#00ffff"/>
<rect x="341" y="152" width="2" height="1" fill="#00ffff"/>
<rect x="343" y="151" width="3" height="1" fill="#00ffff"/>
<rect x="346" y="150" width="3" height="1" fill="#00ffff"/>
<rect x="349" y="149" width="2" height="1" fill="#00ffff"/>
<rect x="351" y="148" width="3" height="1" fill="#00ffff"/>
<rect x="354" y="147" width="2" height="1" fill="#00ffff"/>
<rect x="356" y="146" width="3" height="1" fill="#00ffff"/>
<rect x="359" y="145" width="3" height="1" fill="#00ffff"/>
<rect x="362" y="144" width="2" height="1" fill="#00ffff"/>
<rect x="364" y="143" width="3" height="1" fill="#00ffff"/>
<rect x="367" y="142" width="2" height="1" fill="#00ffff"/>
<rect x="369" y="141" width="3" height="1" fill="#00ffff"/>
<rect x="372" y="140" width="2" height="1" fill="#00ffff"/>
<rect x="374" y="139" width="3" height="1" fill="#00ffff"/>
<rect x="377" y="138" width="3" height="1" fill="#00ffff"/>
<rect x="380" y="137" width="2" height="1" fill="#00ffff"/>
<rect x="382" y="136" width="2" height="1" fill="#00ffff"/>
<rect x="335" y="143" width="2" height="1" fill="#00ffff"/>
<rect x="337" y="142" width="3" height="1" fill="#00ffff"/>
<rect x="340" y="141" width="3" height="1" fill="#00ffff"/>
<rect x="343" y="140" width="3" height="1" fill="#00ffff"/>
<rect x="346" y="139" width="3" height="1" fill="#00ffff"/>
<rect x="349" y="138" width="3" height="1" fill="#00ffff"/>
<rect x="352" y="137" width="3" height="1" fill="#00ffff"/>
<rect x="355" y="136" width="3" height="1" fill="#00ffff"/>
<rect x="358" y="135" width="3" height="1" fill="#00ffff"/>
<rect x="361" y="134" width="3" height="1" fill="#00ffff"/>
<rect x="364" y="133" width="3" height="1" fill="#00ffff"/>
<rect x="367" y="132" width="3" height="1" fill="#00ffff"/>
<rect x="370" y="131" width="3" height="1" fill="#00ffff"/>
<rect x="373" y="130" width="3" height="1" fill="#00ffff"/>
<rect x="376" y="129" width="3" height="1" fill="#00ffff"/>
<rect x="379" y="128" width="2" height="1" fill="#00ffff"/>
<rect x="336" y="141" width="3" height="1" fill="#00ffff"/>
<rect x="336" y="143" width="3" height="1" fill="#00ffff"/>
<rect x="336" y="141" width="1" height="3" fill="#00ffff"/>
<rect x="338" y="141" width="1" height="3" fill="#00ffff"/>
<rect x="337" y="142" width="1" height="1" fill="#000"/>
<rect x="339" y="140" width="3" height="1" fill="#00ffff"/>
<rect x="339" y="142" width="3" height="1" fill="#00ffff"/>
<rect x="339" y="140" width="1" height="3" fill="#00ffff"/>
<rect x="341" y="140" width="1" height="3" fill="#00ffff"/>
<rect x="340" y="141" width="1" height="1" fill="#000"/>
<rect x="343" y="138" width="3" height="1" fill="#00ffff"/>
<rect x="343" y="140" width="3" height="1" fill="#00ffff"/>
<rect x="343" y="138" width="1" height="3" fill="#00ffff"/>
<rect x="345" y="138" width="1" height="3" fill="#00ffff"/>
<rect x="344" y="139" width="1" height="1" fill="#000"/>
<rect x="346" y="137" width="3" height="1" fill="#00ffff"/>
<rect x="346" y="139" width="3" height="1" fill="#00ffff"/>
<rect x="346" y="137" width="1" height="3" fill="#00ffff"/>
<rect x="348" y="137" width="1" height="3" fill="#00ffff"/>
<rect x="347" y="138" width="1" height="1" fill="#000"/>
<rect x="350" y="136" width="3" height="1" fill="#00ffff"/>
<rect x="350" y="138" width="3" height="1" fill="#00ffff"/>
<rect x="350" y="136" width="1" height="3" fill="#00ffff"/>
<rect x="352" y="136" width="1" height="3" fill="#00ffff"/>
<rect x="351" y="137" width="1" height="1" fill="#000"/>
<rect x="353" y="135" width="3" height="1" fill="#00ffff"/>
<rect x="353" y="137" width="3" height="1" fill="#00ffff"/>
<rect x="353" y="135" width="1" height="3" fill="#00ffff"/>
<rect x="355" y="135" width="1" height="3" fill="#00ffff"/>
<rect x="354" y="136" width="1" height="1" fill="#000"/>
<rect x="357" y="134" width="3" height="1" fill="#00ffff"/>
<rect x="357" y="136" width="3" height="1" fill="#00ffff"/>
<rect x="357" y="134" width="1" height="3" fill="#00ffff"/>
<rect x="359" y="134" width="1" height="3" fill="#00ffff"/>
<rect x="358" y="135" width="1" height="1" fill="#000"/>
<rect x="360" y="133" width="3" height="1" fill="#00ffff"/>
<rect x="360" y="135" width="3" height="1" fill="#00ffff"/>
<rect x="360" y="133" width="1" height="3" fill="#00ffff"/>
<rect x="362" y="133" width="1" height="3" fill="#00ffff"/>
<rect x="361" y="134" width="1" height="1" fill="#000"/>
<rect x="364" y="131" width="3" height="1" fill="#00ffff"/>
<rect x="364" y="133" width="3" height="1" fill="#00ffff"/>
<rect x="364" y="131" width="1" height="3" fill="#00ffff"/>
<rect x="366" y="131" width="1" height="3" fill="#00ffff"/>
<rect x="365" y="132" width="1" height="1" fill="#000"/>
<rect x="367" y="130" width="3" height="1" fill="#00ffff"/>
<rect x="367" y="132" width="3" height="1" fill="#00ffff"/>
<rect x="367" y="130" width="1" height="3" fill="#00ffff"/>
<rect x="369" y="130" width="1" height="3" fill="#00ffff"/>
<rect x="368" y="131" width="1" height="1" fill="#000"/>
<rect x="371" y="129" width="3" height="1" fill="#00ffff"/>
<rect x="371" y="131" width="3" height="1" fill="#00ffff"/>
<rect x="371" y="129" width="1" height="3" fill="#00ffff"/>
<rect x="373" y="129" width="1" height="3" fill="#00ffff"/>
<rect x="372" y="130" width="1" height="1" fill="#000"/>
<rect x="374" y="128" width="3" height="1" fill="#00ffff"/>
<rect x="374" y="130" width="3" height="1" fill="#00ffff"/>
<rect x="374" y="128" width="1" height="3" fill="#00ffff"/>
<rect x="376" y="128" width="1" height="3" fill="#00ffff"/>
<rect x="375" y="129" width="1" height="1" fill="#000"/>
<rect x="377" y="127" width="3" height="1" fill="#00ffff"/>
<rect x="377" y="129" width="3" height="1" fill="#00ffff"/>
<rect x="377" y="127" width="1" height="3" fill="#00ffff"/>
<rect x="379" y="127" width="1" height="3" fill="#00ffff"/>
<rect x="378" y="128" width="1" height="1" fill="#000"/>
<rect x="335" y="148" width="2" height="1" fill="#00ffff"/>
<rect x="337" y="147" width="3" height="1" fill="#00ffff"/>
<rect x="340" y="146" width="3" height="1" fill="#00ffff"/>
<rect x="343" y="145" width="3" height="1" fill="#00ffff"/>
<rect x="346" y="144" width="2" height="1" fill="#00ffff"/>
<rect x="348" y="143" width="3" height="1" fill="#00ffff"/>
<rect x="351" y="142" width="3" height="1" fill="#00ffff"/>
<rect x="354" y="141" width="3" height="1" fill="#00ffff"/>
<rect x="357" y="140" width="3" height="1" fill="#00ffff"/>
<rect x="360" y="139" width="3" height="1" fill="#00ffff"/>
<rect x="363" y="138" width="3" height="1" fill="#00ffff"/>
<rect x="366" y="137" width="3" height="1" fill="#00ffff"/>
<rect x="369" y="136" width="2" height="1" fill="#00ffff"/>
<rect x="371" y="135" width="3" height="1" fill="#00ffff"/>
<rect x="374" y="134" width="3" height="1" fill="#00ffff"/>
<rect x="377" y="133" width="3" height="1" fill="#00ffff"/>
<rect x="380" y="132" width="2" height="1" fill="#00ffff"/>
<rect x="336" y="146" width="3" height="1" fill="#00ffff"/>
<rect x="336" y="148" width="3" height="1" fill="#00ffff"/>
<rect x="336" y="146" width="1" height="3" fill="#00ffff"/>
<rect x="338" y="146" width="1" height="3" fill="#00ffff"/>
<rect x="337" y="147" width="1" height="1" fill="#000"/>
<rect x="340" y="144" width="3" height="1" fill="#00ffff"/>
<rect x="340" y="146" width="3" height="1" fill="#00ffff"/>
<rect x="340" y="144" width="1" height="3" fill="#00ffff"/>
<rect x="342" y="144" width="1" height="3" fill="#00ffff"/>
<rect x="341" y="145" width="1" height="1" fill="#000"/>
<rect x="343" y="143" width="3" height="1" fill="#00ffff"/>
<rect x="343" y="145" width="3" height="1" fill="#00ffff"/>
<rect x="343" y="143" width="1" height="3" fill="#00ffff"/>
<rect x="345" y="143" width="1" height="3" fill="#00ffff"/>
<rect x="344" y="144" width="1" height="1" fill="#000"/>
<rect x="347" y="142" width="3" height="1" fill="#00ffff"/>
<rect x="347" y="144" width="3" height="1" fill="#00ffff"/>
<rect x="347" y="142" width="1" height="3" fill="#00ffff"/>
<rect x="349" y="142" width="1" height="3" fill="#00ffff"/>
<rect x="348" y="143" width="1" height="1" fill="#000"/>
<rect x="350" y="141" width="3" height="1" fill="#00ffff"/>
<rect x="350" y="143" width="3" height="1" fill="#00ffff"/>
<rect x="350" y="141" width="1" height="3" fill="#00ffff"/>
<rect x="352" y="141" width="1" height="3" fill="#00ffff"/>
<rect x="351" y="142" width="1" height="1" fill="#000"/>
<rect x="354" y="139" width="3" height="1" fill="#00ffff"/>
<rect x="354" y="141" width="3" height="1" fill="#00ffff"/>
<rect x="354" y="139" width="1" height="3" fill="#00ffff"/>
<rect x="356" y="139" width="1" height="3" fill="#00ffff"/>
<rect x="355" y="140" width="1" height="1" fill="#000"/>
<rect x="357" y="138" width="3" height="1" fill="#00ffff"/>
<rect x="357" y="140" width="3" height="1" fill="#00ffff"/>
<rect x="357" y="138" width="1" height="3" fill="#00ffff"/>
<rect x="359" y="138" width="1" height="3" fill="#00ffff"/>
<rect x="358" y="139" width="1" height="1" fill="#000"/>
<rect x="361" y="137" width="3" height="1" fill="#00ffff"/>
<rect x="361" y="139" width="3" height="1" fill="#00ffff"/>
<rect x="361" y="137" width="1" height="3" fill="#00ffff"/>
<rect x="363" y="137" width="1" height="3" fill="#00ffff"/>
<rect x="362" y="138" width="1" height="1" fill="#000"/>
<rect x="364" y="136" width="3" height="1" fill="#00ffff"/>
<rect x="364" y="138" width="3" height="1" fill="#00ffff"/>
<rect x="364" y="136" width="1" height="3" fill="#00ffff"/>
<rect x="366" y="136" width="1" height="3" fill="#00ffff"/>
<rect x="365" y="137" width="1" height="1" fill="#000"/>
<rect x="368" y="135" width="3" height="1" fill="#00ffff"/>
<rect x="368" y="137" width="3" height="1" fill="#00ffff"/>
<rect x="368" y="135" width="1" height="3" fill="#00ffff"/>
<rect x="370" y="135" width="1" height="3" fill="#00ffff"/>
<rect x="369" y="136" width="1" height="1" fill="#000"/>
<rect x="371" y="133" width="3" height="1" fill="#00ffff"/>
<rect x="371" y="135" width="3" height="1" fill="#00ffff"/>
<rect x="371" y="133" width="1" height="3" fill="#00ffff"/>
<rect x="373" y="133" width="1" height="3" fill="#00ffff"/>
<rect x="372" y="134" width="1" height="1" fill="#000"/>
<rect x="375" y="132" width="3" height="1" fill="#00ffff"/>
<rect x="375" y="134" width="3" height="1" fill="#00ffff"/>
<rect x="375" y="132" width="1" height="3" fill="#00ffff"/>
<rect x="377" y="132" width="1" height="3" fill="#00ffff"/>
<rect x="376" y="133" width="1" height="1" fill="#000"/>
<rect x="378" y="131" width="3" height="1" fill="#00ffff"/>
<rect x="378" y="133" width="3" height="1" fill="#00ffff"/>
<rect x="378" y="131" width="1" height="3" fill="#00ffff"/>
<rect x="380" y="131" width="1" height="3" fill="#00ffff"/>
<rect x="379" y="132" width="1" height="1" fill="#000"/>
<rect x="380" y="130" width="291" height="2" fill="#00ffff"/>
<rect x="383" y="136" width="288" height="1" fill="#00ffff"/>
<rect x="382" y="132" width="1" height="5" fill="#00ffff"/>
<rect x="381" y="131" width="1" height="3" fill="#00ffff"/>
<rect x="670" y="130" width="1" height="8" fill="#00ffff"/>
<rect x="667" y="137" width="4" height="1" fill="#00ffff"/>
<rect x="667" y="137" width="1" height="55" fill="#00ffff"/>
<rect x="251" y="120" width="1" height="5" fill="#ffff00"/>
<rect x="250" y="121" width="3" height="1" fill="#00ffff"/>
<rect x="251" y="120" width="1" height="1" fill="#ffff00"/>
<rect x="266" y="120" width="1" height="5" fill="#ffff00"/>
<rect x="265" y="121" width="3" height="1" fill="#00ffff"/>
<rect x="266" y="120" width="1" height="1" fill="#ffff00"/>
<rect x="236" y="120" width="1" height="6" fill="#00ffff"/>
<rect x="235" y="121" width="3" height="1" fill="#00ffff"/>
<rect x="281" y="119" width="2" height="7" fill="#00ffff"/>
<rect x="281" y="119" width="1" height="1" fill="#ffff00"/>
<rect x="295" y="129" width="1" height="7" fill="#00ffff"/>
<rect x="294" y="130" width="3" height="1" fill="#00ffff"/>
<rect x="295" y="129" width="1" height="1" fill="#ffff00"/>
<rect x="295" y="135" width="1" height="1" fill="#ffff00"/>
<rect x="314" y="138" width="1" height="5" fill="#00ffff"/>
<rect x="313" y="139" width="3" height="1" fill="#00ffff"/>
<rect x="314" y="138" width="1" height="1" fill="#ffff00"/>
<rect x="314" y="142" width="1" height="1" fill="#ffff00"/>
<rect x="333" y="138" width="1" height="5" fill="#00ffff"/>
<rect x="332" y="139" width="3" height="1" fill="#00ffff"/>
<rect x="333" y="138" width="1" height="1" fill="#ffff00"/>
<rect x="333" y="142" width="1" height="1" fill="#ffff00"/>
<rect x="352" y="129" width="1" height="5" fill="#00ffff"/>
<rect x="351" y="130" width="3" height="1" fill="#00ffff"/>
<rect x="352" y="129" width="1" height="1" fill="#ffff00"/>
<rect x="352" y="133" width="1" height="2" fill="#ffff00"/>
<rect x="371" y="124" width="1" height="5" fill="#00ffff"/>
<rect x="370" y="125" width="3" height="1" fill="#00ffff"/>
<rect x="371" y="124" width="1" height="1" fill="#ffff00"/>
<rect x="371" y="127" width="1" height="3" fill="#ffff00"/>
<rect x="390" y="120" width="1" height="5" fill="#00ffff"/>
<rect x="389" y="121" width="3" height="1" fill="#00ffff"/>
<rect x="390" y="120" width="1" height="1" fill="#ffff00"/>
<rect x="408" y="120" width="1" height="5" fill="#00ffff"/>
<rect x="407" y="121" width="3" height="1" fill="#00ffff"/>
<rect x="408" y="120" width="1" height="1" fill="#ffff00"/>
<rect x="427" y="120" width="1" height="5" fill="#00ffff"/>
<rect x="426" y="121" width="3" height="1" fill="#00ffff"/>
<rect x="427" y="120" width="1" height="1" fill="#ffff00"/>
<rect x="446" y="120" width="1" height="5" fill="#00ffff"/>
<rect x="445" y="121" width="3" height="1" fill="#00ffff"/>
<rect x="446" y="120" width="1" height="1" fill="#ffff00"/>
<rect x="465" y="120" width="1" height="5" fill="#00ffff"/>
<rect x="464" y="121" width="3" height="1" fill="#00ffff"/>
<rect x="465" y="120" width="1" height="1" fill="#ffff00"/>
<rect x="484" y="120" width="1" height="5" fill="#00ffff"/>
<rect x="483" y="121" width="3" height="1" fill="#00ffff"/>
<rect x="484" y="120" width="1" height="1" fill="#ffff00"/>
<rect x="503" y="120" width="1" height="5" fill="#00ffff"/>
<rect x="502" y="121" width="3" height="1" fill="#00ffff"/>
<rect x="503" y="120" width="1" height="1" fill="#ffff00"/>
<rect x="522" y="120" width="1" height="5" fill="#00ffff"/>
<rect x="521" y="121" width="3" height="1" fill="#00ffff"/>
<rect x="522" y="120" width="1" height="1" fill="#ffff00"/>
<rect x="540" y="120" width="1" height="5" fill="#00ffff"/>
<rect x="539" y="121" width="3" height="1" fill="#00ffff"/>
<rect x="540" y="120" width="1" height="1" fill="#ffff00"/>
<rect x="559" y="120" width="1" height="5" fill="#00ffff"/>
<rect x="558" y="121" width="3" height="1" fill="#00ffff"/>
<rect x="559" y="120" width="1" height="1" fill="#ffff00"/>
<rect x="578" y="120" width="1" height="5" fill="#00ffff"/>
<rect x="577" y="121" width="3" height="1" fill="#00ffff"/>
<rect x="578" y="120" width="1" height="1" fill="#ffff00"/>
<rect x="597" y="120" width="1" height="5" fill="#00ffff"/>
<rect x="596" y="121" width="3" height="1" fill="#00ffff"/>
<rect x="597" y="120" width="1" height="1" fill="#ffff00"/>
<rect x="616" y="120" width="1" height="5" fill="#00ffff"/>
<rect x="615" y="121" width="3" height="1" fill="#00ffff"/>
<rect x="616" y="120" width="1" height="1" fill="#ffff00"/>
<rect x="635" y="120" width="1" height="5" fill="#00ffff"/>
<rect x="634" y="121" width="3" height="1" fill="#00ffff"/>
<rect x="635" y="120" width="1" height="1" fill="#ffff00"/>
<rect x="654" y="120" width="1" height="5" fill="#00ffff"/>
<rect x="653" y="121" width="3" height="1" fill="#00ffff"/>
<rect x="654" y="120" width="1" height="1" fill="#ffff00"/>
<rect x="672" y="118" width="1" height="8" fill="#00ffff"/>
<rect x="672" y="122" width="1" height="3" fill="#ffff00"/>
<rect x="671" y="121" width="3" height="1" fill="#00ffff"/>
<rect x="670" y="113" width="6" height="1" fill="#00ffff"/>
<rect x="670" y="117" width="6" height="1" fill="#00ffff"/>
<rect x="670" y="113" width="1" height="5" fill="#00ffff"/>
<rect x="675" y="113" width="1" height="5" fill="#00ffff"/>
<rect x="672" y="113" width="1" height="5" fill="#00ffff"/>
<rect x="670" y="115" width="6" height="1" fill="#00ffff"/>
<rect x="228" y="160" width="452" height="2" fill="#ffffff"/>
<rect x="232" y="162" width="448" height="1" fill="#ff0000"/>
<rect x="232" y="163" width="448" height="1" fill="#ffffff"/>
<rect x="270" y="163" width="1" height="14" fill="#00ffff"/>
<rect x="335" y="163" width="1" height="14" fill="#00ffff"/>
<rect x="268" y="176" width="68" height="1" fill="#00ffff"/>
<rect x="335" y="176" width="1" height="1" fill="#00ffff"/>
<rect x="336" y="177" width="1" height="1" fill="#00ffff"/>
<rect x="337" y="178" width="1" height="1" fill="#00ffff"/>
<rect x="338" y="179" width="1" height="1" fill="#00ffff"/>
<rect x="339" y="180" width="1" height="1" fill="#00ffff"/>
<rect x="340" y="181" width="1" height="1" fill="#00ffff"/>
<rect x="341" y="182" width="1" height="1" fill="#00ffff"/>
<rect x="342" y="183" width="1" height="1" fill="#00ffff"/>
<rect x="343" y="184" width="1" height="1" fill="#00ffff"/>
<rect x="344" y="185" width="1" height="1" fill="#00ffff"/>
<rect x="345" y="186" width="1" height="1" fill="#00ffff"/>
<rect x="346" y="187" width="1" height="1" fill="#00ffff"/>
<rect x="347" y="188" width="1" height="1" fill="#00ffff"/>
<rect x="348" y="189" width="1" height="1" fill="#00ffff"/>
<rect x="349" y="190" width="1" height="1" fill="#00ffff"/>
<rect x="350" y="191" width="1" height="1" fill="#00ffff"/>
<rect x="350" y="191" width="318" height="1" fill="#00ffff"/>
<rect x="272" y="168" width="61" height="1" fill="#00ff00"/>
<rect x="277" y="166" width="5" height="2" fill="#00ff00"/>
<rect x="291" y="166" width="5" height="2" fill="#00ff00"/>
<rect x="307" y="166" width="6" height="2" fill="#00ff00"/>
<rect x="323" y="166" width="4" height="2" fill="#00ff00"/>
<rect x="271" y="164" width="1" height="2" fill="#ffffff"/>
<rect x="274" y="164" width="1" height="2" fill="#ffffff"/>
<rect x="271" y="165" width="4" height="1" fill="#ffffff"/>
<rect x="271" y="167" width="5" height="1" fill="#00ff00"/>
<rect x="273" y="164" width="1" height="3" fill="#ff0000"/>
<rect x="273" y="167" width="1" height="2" fill="#00ffff"/>
<rect x="283" y="164" width="1" height="2" fill="#ffffff"/>
<rect x="287" y="164" width="1" height="2" fill="#ffffff"/>
<rect x="283" y="165" width="5" height="1" fill="#ffffff"/>
<rect x="283" y="167" width="6" height="1" fill="#00ff00"/>
<rect x="285" y="164" width="1" height="3" fill="#ff0000"/>
<rect x="285" y="167" width="1" height="2" fill="#00ffff"/>
<rect x="299" y="164" width="1" height="2" fill="#ffffff"/>
<rect x="303" y="164" width="1" height="2" fill="#ffffff"/>
<rect x="299" y="165" width="5" height="1" fill="#ffffff"/>
<rect x="299" y="167" width="6" height="1" fill="#00ff00"/>
<rect x="301" y="164" width="1" height="3" fill="#ff0000"/>
<rect x="301" y="167" width="1" height="2" fill="#00ffff"/>
<rect x="316" y="164" width="1" height="2" fill="#ffffff"/>
<rect x="319" y="164" width="1" height="2" fill="#ffffff"/>
<rect x="316" y="165" width="4" height="1" fill="#ffffff"/>
<rect x="316" y="167" width="5" height="1" fill="#00ff00"/>
<rect x="318" y="162" width="1" height="5" fill="#ff0000"/>
<rect x="318" y="167" width="1" height="2" fill="#00ffff"/>
<rect x="331" y="164" width="1" height="2" fill="#ffffff"/>
<rect x="334" y="164" width="1" height="2" fill="#ffffff"/>
<rect x="331" y="165" width="4" height="1" fill="#ffffff"/>
<rect x="331" y="167" width="5" height="1" fill="#00ff00"/>
<rect x="333" y="162" width="1" height="5" fill="#ff0000"/>
<rect x="333" y="167" width="1" height="2" fill="#00ffff"/>
<rect x="321" y="176" width="1" height="1" fill="#00ff00"/>
<rect x="240" y="155" width="1" height="61" fill="#00ffff"/>
<rect x="268" y="176" width="1" height="40" fill="#00ffff"/>
<rect x="240" y="215" width="29" height="1" fill="#00ffff"/>
<rect x="268" y="176" width="3" height="1" fill="#00ffff"/>
<path d="M240.5,190.5 A14,14 0 0 1 268.5,190.5" fill="none" stroke="#00ffff" shape-rendering="crispEdges"/>
<rect x="240" y="190" width="29" height="1" fill="#ff0000"/>
<rect x="254" y="170" width="1" height="67" fill="#ff0000"/>
<rect x="254" y="176" width="1" height="28" fill="#00ffff"/>
<rect x="229" y="174" width="3" height="1" fill="#00ffff"/>
<rect x="256" y="166" width="2" height="5" fill="#00ffff"/>
<rect x="257" y="172" width="10" height="1" fill="#00ffff"/>
<rect x="243" y="206" width="8" height="1" fill="#00ffff"/>
<rect x="256" y="203" width="2" height="6" fill="#00ffff"/>
<rect x="192" y="203" width="3" height="5" fill="#00ffff"/>
<rect x="193" y="205" width="1" height="2" fill="#000"/>
<rect x="196" y="206" width="18" height="1" fill="#00ffff"/>
<rect x="414" y="145" width="10" height="1" fill="#00ffff"/>
<rect x="414" y="154" width="10" height="1" fill="#00ffff"/>
<rect x="414" y="145" width="1" height="10" fill="#00ffff"/>
<rect x="423" y="145" width="1" height="10" fill="#00ffff"/>
<rect x="417" y="146" width="1" height="1" fill="#00ffff"/>
<rect x="418" y="146" width="1" height="1" fill="#00ffff"/>
<rect x="419" y="146" width="1" height="1" fill="#00ffff"/>
<rect x="420" y="146" width="1" height="1" fill="#00ffff"/>
<rect x="416" y="147" width="1" height="1" fill="#00ffff"/>
<rect x="421" y="147" width="1" height="1" fill="#00ffff"/>
<rect x="415" y="148" width="1" height="1" fill="#00ffff"/>
<rect x="422" y="148" width="1" height="1" fill="#00ffff"/>
<rect x="415" y="149" width="1" height="1" fill="#00ffff"/>
<rect x="415" y="150" width="1" height="1" fill="#00ffff"/>
<rect x="415" y="151" width="1" height="1" fill="#00ffff"/>
<rect x="422" y="151" width="1" height="1" fill="#00ffff"/>
<rect x="416" y="152" width="1" height="1" fill="#00ffff"/>
<rect x="421" y="152" width="1" height="1" fill="#00ffff"/>
<rect x="417" y="153" width="1" height="1" fill="#00ffff"/>
<rect x="418" y="153" width="1" height="1" fill="#00ffff"/>
<rect x="419" y="153" width="1" height="1" fill="#00ffff"/>
<rect x="420" y="153" width="1" height="1" fill="#00ffff"/>
<rect x="421" y="148" width="2" height="4" fill="#00ffff"/>
<rect x="417" y="152" width="4" height="1" fill="#00ffff"/>
<rect x="413" y="150" width="12" height="1" fill="#ff0000"/>
<rect x="418" y="144" width="1" height="13" fill="#ff0000"/>
<rect x="432" y="145" width="10" height="1" fill="#00ffff"/>
<rect x="432" y="154" width="10" height="1" fill="#00ffff"/>
<rect x="432" y="145" width="1" height="10" fill="#00ffff"/>
<rect x="441" y="145" width="1" height="10" fill="#00ffff"/>
<rect x="435" y="146" width="1" height="1" fill="#00ffff"/>
<rect x="436" y="146" width="1" height="1" fill="#00ffff"/>
<rect x="437" y="146" width="1" height="1" fill="#00ffff"/>
<rect x="438" y="146" width="1" height="1" fill="#00ffff"/>
<rect x="434" y="147" width="1" height="1" fill="#00ffff"/>
<rect x="439" y="147" width="1" height="1" fill="#00ffff"/>
<rect x="433" y="148" width="1" height="1" fill="#00ffff"/>
<rect x="440" y="148" width="1" height="1" fill="#00ffff"/>
<rect x="433" y="149" width="1" height="1" fill="#00ffff"/>
<rect x="433" y="150" width="1" height="1" fill="#00ffff"/>
<rect x="433" y="151" width="1" height="1" fill="#00ffff"/>
<rect x="440" y="151" width="1" height="1" fill="#00ffff"/>
<rect x="434" y="152" width="1" height="1" fill="#00ffff"/>
<rect x="439" y="152" width="1" height="1" fill="#00ffff"/>
<rect x="435" y="153" width="1" height="1" fill="#00ffff"/>
<rect x="436" y="153" width="1" height="1" fill="#00ffff"/>
<rect x="437" y="153" width="1" height="1" fill="#00ffff"/>
<rect x="438" y="153" width="1" height="1" fill="#00ffff"/>
<rect x="439" y="148" width="2" height="4" fill="#00ffff"/>
<rect x="435" y="152" width="4" height="1" fill="#00ffff"/>
<rect x="431" y="150" width="12" height="1" fill="#ff0000"/>
<rect x="437" y="144" width="1" height="13" fill="#ff0000"/>
<rect x="451" y="145" width="10" height="1" fill="#00ffff"/>
<rect x="451" y="154" width="10" height="1" fill="#00ffff"/>
<rect x="451" y="145" width="1" height="10" fill="#00ffff"/>
<rect x="460" y="145" width="1" height="10" fill="#00ffff"/>
<rect x="454" y="146" width="1" height="1" fill="#00ffff"/>
<rect x="455" y="146" width="1" height="1" fill="#00ffff"/>
<rect x="456" y="146" width="1" height="1" fill="#00ffff"/>
<rect x="457" y="146" width="1" height="1" fill="#00ffff"/>
<rect x="453" y="147" width="1" height="1" fill="#00ffff"/>
<rect x="458" y="147" width="1" height="1" fill="#00ffff"/>
<rect x="452" y="148" width="1" height="1" fill="#00ffff"/>
<rect x="459" y="148" width="1" height="1" fill="#00ffff"/>
<rect x="452" y="149" width="1" height="1" fill="#00ffff"/>
<rect x="452" y="150" width="1" height="1" fill="#00ffff"/>
<rect x="452" y="151" width="1" height="1" fill="#00ffff"/>
<rect x="459" y="151" width="1" height="1" fill="#00ffff"/>
<rect x="453" y="152" width="1" height="1" fill="#00ffff"/>
<rect x="458" y="152" width="1" height="1" fill="#00ffff"/>
<rect x="454" y="153" width="1" height="1" fill="#00ffff"/>
<rect x="455" y="153" width="1" height="1" fill="#00ffff"/>
<rect x="456" y="153" width="1" height="1" fill="#00ffff"/>
<rect x="457" y="153" width="1" height="1" fill="#00ffff"/>
<rect x="458" y="148" width="2" height="4" fill="#00ffff"/>
<rect x="454" y="152" width="4" height="1" fill="#00ffff"/>
<rect x="450" y="150" width="12" height="1" fill="#ff0000"/>
<rect x="456" y="144" width="1" height="13" fill="#ff0000"/>
<rect x="470" y="145" width="10" height="1" fill="#00ffff"/>
<rect x="470" y="154" width="10" height="1" fill="#00ffff"/>
<rect x="470" y="145" width="1" height="10" fill="#00ffff"/>
<rect x="479" y="145" width="1" height="10" fill="#00ffff"/>
<rect x="473" y="146" width="1" height="1" fill="#00ffff"/>
<rect x="474" y="146" width="1" height="1" fill="#00ffff"/>
<rect x="475" y="146" width="1" height="1" fill="#00ffff"/>
<rect x="476" y="146" width="1" height="1" fill="#00ffff"/>
<rect x="472" y="147" width="1" height="1" fill="#00ffff"/>
<rect x="477" y="147" width="1" height="1" fill="#00ffff"/>
<rect x="471" y="148" width="1" height="1" fill="#00ffff"/>
<rect x="478" y="148" width="1" height="1" fill="#00ffff"/>
<rect x="471" y="149" width="1" height="1" fill="#00ffff"/>
<rect x="471" y="150" width="1" height="1" fill="#00ffff"/>
<rect x="471" y="151" width="1" height="1" fill="#00ffff"/>
<rect x="478" y="151" width="1" height="1" fill="#00ffff"/>
<rect x="472" y="152" width="1" height="1" fill="#00ffff"/>
<rect x="477" y="152" width="1" height="1" fill="#00ffff"/>
<rect x="473" y="153" width="1" height="1" fill="#00ffff"/>
<rect x="474" y="153" width="1" height="1" fill="#00ffff"/>
<rect x="475" y="153" width="1" height="1" fill="#00ffff"/>
<rect x="476" y="153" width="1" height="1" fill="#00ffff"/>
<rect x="477" y="148" width="2" height="4" fill="#00ffff"/>
<rect x="473" y="152" width="4" height="1" fill="#00ffff"/>
<rect x="469" y="150" width="12" height="1" fill="#ff0000"/>
<rect x="475" y="144" width="1" height="13" fill="#ff0000"/>
<rect x="489" y="145" width="10" height="1" fill="#00ffff"/>
<rect x="489" y="154" width="10" height="1" fill="#00ffff"/>
<rect x="489" y="145" width="1" height="10" fill="#00ffff"/>
<rect x="498" y="145" width="1" height="10" fill="#00ffff"/>
<rect x="492" y="146" width="1" height="1" fill="#00ffff"/>
<rect x="493" y="146" width="1" height="1" fill="#00ffff"/>
<rect x="494" y="146" width="1" height="1" fill="#00ffff"/>
<rect x="495" y="146" width="1" height="1" fill="#00ffff"/>
<rect x="491" y="147" width="1" height="1" fill="#00ffff"/>
<rect x="496" y="147" width="1" height="1" fill="#00ffff"/>
<rect x="490" y="148" width="1" height="1" fill="#00ffff"/>
<rect x="497" y="148" width="1" height="1" fill="#00ffff"/>
<rect x="490" y="149" width="1" height="1" fill="#00ffff"/>
<rect x="490" y="150" width="1" height="1" fill="#00ffff"/>
<rect x="490" y="151" width="1" height="1" fill="#00ffff"/>
<rect x="497" y="151" width="1" height="1" fill="#00ffff"/>
<rect x="491" y="152" width="1" height="1" fill="#00ffff"/>
<rect x="496" y="152" width="1" height="1" fill="#00ffff"/>
<rect x="492" y="153" width="1" height="1" fill="#00ffff"/>
<rect x="493" y="153" width="1" height="1" fill="#00ffff"/>
<rect x="494" y="153" width="1" height="1" fill="#00ffff"/>
<rect x="495" y="153" width="1" height="1" fill="#00ffff"/>
<rect x="496" y="148" width="2" height="4" fill="#00ffff"/>
<rect x="492" y="152" width="4" height="1" fill="#00ffff"/>
<rect x="488" y="150" width="12" height="1" fill="#ff0000"/>
<rect x="493" y="144" width="1" height="13" fill="#ff0000"/>
<rect x="508" y="145" width="10" height="1" fill="#00ffff"/>
<rect x="508" y="154" width="10" height="1" fill="#00ffff"/>
<rect x="508" y="145" width="1" height="10" fill="#00ffff"/>
<rect x="517" y="145" width="1" height="10" fill="#00ffff"/>
<rect x="511" y="146" width="1" height="1" fill="#00ffff"/>
<rect x="512" y="146" width="1" height="1" fill="#00ffff"/>
<rect x="513" y="146" width="1" height="1" fill="#00ffff"/>
<rect x="514" y="146" width="1" height="1" fill="#00ffff"/>
<rect x="510" y="147" width="1" height="1" fill="#00ffff"/>
<rect x="515" y="147" width="1" height="1" fill="#00ffff"/>
<rect x="509" y="148" width="1" height="1" fill="#00ffff"/>
<rect x="516" y="148" width="1" height="1" fill="#00ffff"/>
<rect x="509" y="149" width="1" height="1" fill="#00ffff"/>
<rect x="509" y="150" width="1" height="1" fill="#00ffff"/>
<rect x="509" y="151" width="1" height="1" fill="#00ffff"/>
<rect x="516" y="151" width="1" height="1" fill="#00ffff"/>
<rect x="510" y="152" width="1" height="1" fill="#00ffff"/>
<rect x="515" y="152" width="1" height="1" fill="#00ffff"/>
<rect x="511" y="153" width="1" height="1" fill="#00ffff"/>
<rect x="512" y="153" width="1" height="1" fill="#00ffff"/>
<rect x="513" y="153" width="1" height="1" fill="#00ffff"/>
<rect x="514" y="153" width="1" height="1" fill="#00ffff"/>
<rect x="515" y="148" width="2" height="4" fill="#00ffff"/>
<rect x="511" y="152" width="4" height="1" fill="#00ffff"/>
<rect x="507" y="150" width="12" height="1" fill="#ff0000"/>
<rect x="512" y="144" width="1" height="13" fill="#ff0000"/>
<rect x="526" y="145" width="10" height="1" fill="#00ffff"/>
<rect x="526" y="154" width="10" height="1" fill="#00ffff"/>
<rect x="526" y="145" width="1" height="10" fill="#00ffff"/>
<rect x="535" y="145" width="1" height="10" fill="#00ffff"/>
<rect x="529" y="146" width="1" height="1" fill="#00ffff"/>
<rect x="530" y="146" width="1" height="1" fill="#00ffff"/>
<rect x="531" y="146" width="1" height="1" fill="#00ffff"/>
<rect x="532" y="146" width="1" height="1" fill="#00ffff"/>
<rect x="528" y="147" width="1" height="1" fill="#00ffff"/>
<rect x="533" y="147" width="1" height="1" fill="#00ffff"/>
<rect x="527" y="148" width="1" height="1" fill="#00ffff"/>
<rect x="534" y="148" width="1" height="1" fill="#00ffff"/>
<rect x="527" y="149" width="1" height="1" fill="#00ffff"/>
<rect x="527" y="150" width="1" height="1" fill="#00ffff"/>
<rect x="527" y="151" width="1" height="1" fill="#00ffff"/>
<rect x="534" y="151" width="1" height="1" fill="#00ffff"/>
<rect x="528" y="152" width="1" height="1" fill="#00ffff"/>
<rect x="533" y="152" width="1" height="1" fill="#00ffff"/>
<rect x="529" y="153" width="1" height="1" fill="#00ffff"/>
<rect x="530" y="153" width="1" height="1" fill="#00ffff"/>
<rect x="531" y="153" width="1" height="1" fill="#00ffff"/>
<rect x="532" y="153" width="1" height="1" fill="#00ffff"/>
<rect x="533" y="148" width="2" height="4" fill="#00ffff"/>
<rect x="529" y="152" width="4" height="1" fill="#00ffff"/>
<rect x="525" y="150" width="12" height="1" fill="#ff0000"/>
<rect x="531" y="144" width="1" height="13" fill="#ff0000"/>
<rect x="545" y="145" width="10" height="1" fill="#00ffff"/>
<rect x="545" y="154" width="10" height="1" fill="#00ffff"/>
<rect x="545" y="145" width="1" height="10" fill="#00ffff"/>
<rect x="554" y="145" width="1" height="10" fill="#00ffff"/>
<rect x="548" y="146" width="1" height="1" fill="#00ffff"/>
<rect x="549" y="146" width="1" height="1" fill="#00ffff"/>
<rect x="550" y="146" width="1" height="1" fill="#00ffff"/>
<rect x="551" y="146" width="1" height="1" fill="#00ffff"/>
<rect x="547" y="147" width="1" height="1" fill="#00ffff"/>
<rect x="552" y="147" width="1" height="1" fill="#00ffff"/>
<rect x="546" y="148" width="1" height="1" fill="#00ffff"/>
<rect x="553" y="148" width="1" height="1" fill="#00ffff"/>
<rect x="546" y="149" width="1" height="1" fill="#00ffff"/>
<rect x="546" y="150" width="1" height="1" fill="#00ffff"/>
<rect x="546" y="151" width="1" height="1" fill="#00ffff"/>
<rect x="553" y="151" width="1" height="1" fill="#00ffff"/>
<rect x="547" y="152" width="1" height="1" fill="#00ffff"/>
<rect x="552" y="152" width="1" height="1" fill="#00ffff"/>
<rect x="548" y="153" width="1" height="1" fill="#00ffff"/>
<rect x="549" y="153" width="1" height="1" fill="#00ffff"/>
<rect x="550" y="153" width="1" height="1" fill="#00ffff"/>
<rect x="551" y="153" width="1" height="1" fill="#00ffff"/>
<rect x="552" y="148" width="2" height="4" fill="#00ffff"/>
<rect x="548" y="152" width="4" height="1" fill="#00ffff"/>
<rect x="544" y="150" width="12" height="1" fill="#ff0000"/>
<rect x="550" y="144" width="1" height="13" fill="#ff0000"/>
<rect x="564" y="145" width="10" height="1" fill="#00ffff"/>
<rect x="564" y="154" width="10" height="1" fill="#00ffff"/>
<rect x="564" y="145" width="1" height="10" fill="#00ffff"/>
<rect x="573" y="145" width="1" height="10" fill="#00ffff"/>
<rect x="567" y="146" width="1" height="1" fill="#00ffff"/>
<rect x="568" y="146" width="1" height="1" fill="#00ffff"/>
<rect x="569" y="146" width="1" height="1" fill="#00ffff"/>
<rect x="570" y="146" width="1" height="1" fill="#00ffff"/>
<rect x="566" y="147" width="1" height="1" fill="#00ffff"/>
<rect x="571" y="147" width="1" height="1" fill="#00ffff"/>
<rect x="565" y="148" width="1" height="1" fill="#00ffff"/>
<rect x="572" y="148" width="1" height="1" fill="#00ffff"/>
<rect x="565" y="149" width="1" height="1" fill="#00ffff"/>
<rect x="565" y="150" width="1" height="1" fill="#00ffff"/>
<rect x="565" y="151" width="1" height="1" fill="#00ffff"/>
<rect x="572" y="151" width="1" height="1" fill="#00ffff"/>
<rect x="566" y="152" width="1" height="1" fill="#00ffff"/>
<rect x="571" y="152" width="1" height="1" fill="#00ffff"/>
<rect x="567" y="153" width="1" height="1" fill="#00ffff"/>
<rect x="568" y="153" width="1" height="1" fill="#00ffff"/>
<rect x="569" y="153" width="1" height="1" fill="#00ffff"/>
<rect x="570" y="153" width="1" height="1" fill="#00ffff"/>
<rect x="571" y="148" width="2" height="4" fill="#00ffff"/>
<rect x="567" y="152" width="4" height="1" fill="#00ffff"/>
<rect x="563" y="150" width="12" height="1" fill="#ff0000"/>
<rect x="569" y="144" width="1" height="13" fill="#ff0000"/>
<rect x="583" y="145" width="10" height="1" fill="#00ffff"/>
<rect x="583" y="154" width="10" height="1" fill="#00ffff"/>
<rect x="583" y="145" width="1" height="10" fill="#00ffff"/>
<rect x="592" y="145" width="1" height="10" fill="#00ffff"/>
<rect x="586" y="146" width="1" height="1" fill="#00ffff"/>
<rect x="587" y="146" width="1" height="1" fill="#00ffff"/>
<rect x="588" y="146" width="1" height="1" fill="#00ffff"/>
<rect x="589" y="146" width="1" height="1" fill="#00ffff"/>
<rect x="585" y="147" width="1" height="1" fill="#00ffff"/>
<rect x="590" y="147" width="1" height="1" fill="#00ffff"/>
<rect x="584" y="148" width="1" height="1" fill="#00ffff"/>
<rect x="591" y="148" width="1" height="1" fill="#00ffff"/>
<rect x="584" y="149" width="1" height="1" fill="#00ffff"/>
<rect x="584" y="150" width="1" height="1" fill="#00ffff"/>
<rect x="584" y="151" width="1" height="1" fill="#00ffff"/>
<rect x="591" y="151" width="1" height="1" fill="#00ffff"/>
<rect x="585" y="152" width="1" height="1" fill="#00ffff"/>
<rect x="590" y="152" width="1" height="1" fill="#00ffff"/>
<rect x="586" y="153" width="1" height="1" fill="#00ffff"/>
<rect x="587" y="153" width="1" height="1" fill="#00ffff"/>
<rect x="588" y="153" width="1" height="1" fill="#00ffff"/>
<rect x="589" y="153" width="1" height="1" fill="#00ffff"/>
<rect x="590" y="148" width="2" height="4" fill="#00ffff"/>
<rect x="586" y="152" width="4" height="1" fill="#00ffff"/>
<rect x="582" y="150" width="12" height="1" fill="#ff0000"/>
<rect x="587" y="144" width="1" height="13" fill="#ff0000"/>
<rect x="602" y="145" width="10" height="1" fill="#00ffff"/>
<rect x="602" y="154" width="10" height="1" fill="#00ffff"/>
<rect x="602" y="145" width="1" height="10" fill="#00ffff"/>
<rect x="611" y="145" width="1" height="10" fill="#00ffff"/>
<rect x="605" y="146" width="1" height="1" fill="#00ffff"/>
<rect x="606" y="146" width="1" height="1" fill="#00ffff"/>
<rect x="607" y="146" width="1" height="1" fill="#00ffff"/>
<rect x="608" y="146" width="1" height="1" fill="#00ffff"/>
<rect x="604" y="147" width="1" height="1" fill="#00ffff"/>
<rect x="609" y="147" width="1" height="1" fill="#00ffff"/>
<rect x="603" y="148" width="1" height="1" fill="#00ffff"/>
<rect x="610" y="148" width="1" height="1" fill="#00ffff"/>
<rect x="603" y="149" width="1" height="1" fill="#00ffff"/>
<rect x="603" y="150" width="1" height="1" fill="#00ffff"/>
<rect x="603" y="151" width="1" height="1" fill="#00ffff"/>
<rect x="610" y="151" width="1" height="1" fill="#00ffff"/>
<rect x="604" y="152" width="1" height="1" fill="#00ffff"/>
<rect x="609" y="152" width="1" height="1" fill="#00ffff"/>
<rect x="605" y="153" width="1" height="1" fill="#00ffff"/>
<rect x="606" y="153" width="1" height="1" fill="#00ffff"/>
<rect x="607" y="153" width="1" height="1" fill="#00ffff"/>
<rect x="608" y="153" width="1" height="1" fill="#00ffff"/>
<rect x="609" y="148" width="2" height="4" fill="#00ffff"/>
<rect x="605" y="152" width="4" height="1" fill="#00ffff"/>
<rect x="601" y="150" width="12" height="1" fill="#ff0000"/>
<rect x="606" y="144" width="1" height="13" fill="#ff0000"/>
<rect x="620" y="145" width="10" height="1" fill="#00ffff"/>
<rect x="620" y="154" width="10" height="1" fill="#00ffff"/>
<rect x="620" y="145" width="1" height="10" fill="#00ffff"/>
<rect x="629" y="145" width="1" height="10" fill="#00ffff"/>
<rect x="623" y="146" width="1" height="1" fill="#00ffff"/>
<rect x="624" y="146" width="1" height="1" fill="#00ffff"/>
<rect x="625" y="146" width="1" height="1" fill="#00ffff"/>
<rect x="626" y="146" width="1" height="1" fill="#00ffff"/>
<rect x="622" y="147" width="1" height="1" fill="#00ffff"/>
<rect x="627" y="147" width="1" height="1" fill="#00ffff"/>
<rect x="621" y="148" width="1" height="1" fill="#00ffff"/>
<rect x="628" y="148" width="1" height="1" fill="#00ffff"/>
<rect x="621" y="149" width="1" height="1" fill="#00ffff"/>
<rect x="621" y="150" width="1" height="1" fill="#00ffff"/>
<rect x="621" y="151" width="1" height="1" fill="#00ffff"/>
<rect x="628" y="151" width="1" height="1" fill="#00ffff"/>
<rect x="622" y="152" width="1" height="1" fill="#00ffff"/>
<rect x="627" y="152" width="1" height="1" fill="#00ffff"/>
<rect x="623" y="153" width="1" height="1" fill="#00ffff"/>
<rect x="624" y="153" width="1" height="1" fill="#00ffff"/>
<rect x="625" y="153" width="1" height="1" fill="#00ffff"/>
<rect x="626" y="153" width="1" height="1" fill="#00ffff"/>
<rect x="627" y="148" width="2" height="4" fill="#00ffff"/>
<rect x="623" y="152" width="4" height="1" fill="#00ffff"/>
<rect x="619" y="150" width="12" height="1" fill="#ff0000"/>
<rect x="625" y="144" width="1" height="13" fill="#ff0000"/>
<rect x="639" y="145" width="10" height="1" fill="#00ffff"/>
<rect x="639" y="154" width="10" height="1" fill="#00ffff"/>
<rect x="639" y="145" width="1" height="10" fill="#00ffff"/>
<rect x="648" y="145" width="1" height="10" fill="#00ffff"/>
<rect x="642" y="146" width="1" height="1" fill="#00ffff"/>
<rect x="643" y="146" width="1" height="1" fill="#00ffff"/>
<rect x="644" y="146" width="1" height="1" fill="#00ffff"/>
<rect x="645" y="146" width="1" height="1" fill="#00ffff"/>
<rect x="641" y="147" width="1" height="1" fill="#00ffff"/>
<rect x="646" y="147" width="1" height="1" fill="#00ffff"/>
<rect x="640" y="148" width="1" height="1" fill="#00ffff"/>
<rect x="647" y="148" width="1" height="1" fill="#00ffff"/>
<rect x="640" y="149" width="1" height="1" fill="#00ffff"/>
<rect x="640" y="150" width="1" height="1" fill="#00ffff"/>
<rect x="640" y="151" width="1" height="1" fill="#00ffff"/>
<rect x="647" y="151" width="1" height="1" fill="#00ffff"/>
<rect x="641" y="152" width="1" height="1" fill="#00ffff"/>
<rect x="646" y="152" width="1" height="1" fill="#00ffff"/>
<rect x="642" y="153" width="1" height="1" fill="#00ffff"/>
<rect x="643" y="153" width="1" height="1" fill="#00ffff"/>
<rect x="644" y="153" width="1" height="1" fill="#00ffff"/>
<rect x="645" y="153" width="1" height="1" fill="#00ffff"/>
<rect x="646" y="148" width="2" height="4" fill="#00ffff"/>
<rect x="642" y="152" width="4" height="1" fill="#00ffff"/>
<rect x="638" y="150" width="12" height="1" fill="#ff0000"/>
<rect x="644" y="144" width="1" height="13" fill="#ff0000"/>
<rect x="376" y="174" width="10" height="1" fill="#00ffff"/>
<rect x="376" y="183" width="10" height="1" fill="#00ffff"/>
<rect x="376" y="174" width="1" height="10" fill="#00ffff"/>
<rect x="385" y="174" width="1" height="10" fill="#00ffff"/>
<rect x="379" y="175" width="1" height="1" fill="#00ffff"/>
<rect x="380" y="175" width="1" height="1" fill="#00ffff"/>
<rect x="381" y="175" width="1" height="1" fill="#00ffff"/>
<rect x="382" y="175" width="1" height="1" fill="#00ffff"/>
<rect x="378" y="176" width="1" height="1" fill="#00ffff"/>
<rect x="383" y="176" width="1" height="1" fill="#00ffff"/>
<rect x="377" y="177" width="1" height="1" fill="#00ffff"/>
<rect x="384" y="177" width="1" height="1" fill="#00ffff"/>
<rect x="377" y="178" width="1" height="1" fill="#00ffff"/>
<rect x="377" y="179" width="1" height="1" fill="#00ffff"/>
<rect x="377" y="180" width="1" height="1" fill="#00ffff"/>
<rect x="384" y="180" width="1" height="1" fill="#00ffff"/>
<rect x="378" y="181" width="1" height="1" fill="#00ffff"/>
<rect x="383" y="181" width="1" height="1" fill="#00ffff"/>
<rect x="379" y="182" width="1" height="1" fill="#00ffff"/>
<rect x="380" y="182" width="1" height="1" fill="#00ffff"/>
<rect x="381" y="182" width="1" height="1" fill="#00ffff"/>
<rect x="382" y="182" width="1" height="1" fill="#00ffff"/>
<rect x="383" y="177" width="2" height="4" fill="#00ffff"/>
<rect x="379" y="181" width="4" height="1" fill="#00ffff"/>
<rect x="375" y="179" width="12" height="1" fill="#ff0000"/>
<rect x="381" y="173" width="1" height="13" fill="#ff0000"/>
<rect x="395" y="174" width="10" height="1" fill="#00ffff"/>
<rect x="395" y="183" width="10" height="1" fill="#00ffff"/>
<rect x="395" y="174" width="1" height="10" fill="#00ffff"/>
<rect x="404" y="174" width="1" height="10" fill="#00ffff"/>
<rect x="398" y="175" width="1" height="1" fill="#00ffff"/>
<rect x="399" y="175" width="1" height="1" fill="#00ffff"/>
<rect x="400" y="175" width="1" height="1" fill="#00ffff"/>
<rect x="401" y="175" width="1" height="1" fill="#00ffff"/>
<rect x="397" y="176" width="1" height="1" fill="#00ffff"/>
<rect x="402" y="176" width="1" height="1" fill="#00ffff"/>
<rect x="396" y="177" width="1" height="1" fill="#00ffff"/>
<rect x="403" y="177" width="1" height="1" fill="#00ffff"/>
<rect x="396" y="178" width="1" height="1" fill="#00ffff"/>
<rect x="396" y="179" width="1" height="1" fill="#00ffff"/>
<rect x="396" y="180" width="1" height="1" fill="#00ffff"/>
<rect x="403" y="180" width="1" height="1" fill="#00ffff"/>
<rect x="397" y="181" width="1" height="1" fill="#00ffff"/>
<rect x="402" y="181" width="1" height="1" fill="#00ffff"/>
<rect x="398" y="182" width="1" height="1" fill="#00ffff"/>
<rect x="399" y="182" width="1" height="1" fill="#00ffff"/>
<rect x="400" y="182" width="1" height="1" fill="#00ffff"/>
<rect x="401" y="182" width="1" height="1" fill="#00ffff"/>
<rect x="402" y="177" width="2" height="4" fill="#00ffff"/>
<rect x="398" y="181" width="4" height="1" fill="#00ffff"/>
<rect x="394" y="179" width="12" height="1" fill="#ff0000"/>
<rect x="399" y="173" width="1" height="13" fill="#ff0000"/>
<rect x="414" y="174" width="10" height="1" fill="#00ffff"/>
<rect x="414" y="183" width="10" height="1" fill="#00ffff"/>
<rect x="414" y="174" width="1" height="10" fill="#00ffff"/>
<rect x="423" y="174" width="1" height="10" fill="#00ffff"/>
<rect x="417" y="175" width="1" height="1" fill="#00ffff"/>
<rect x="418" y="175" width="1" height="1" fill="#00ffff"/>
<rect x="419" y="175" width="1" height="1" fill="#00ffff"/>
<rect x="420" y="175" width="1" height="1" fill="#00ffff"/>
<rect x="416" y="176" width="1" height="1" fill="#00ffff"/>
<rect x="421" y="176" width="1" height="1" fill="#00ffff"/>
<rect x="415" y="177" width="1" height="1" fill="#00ffff"/>
<rect x="422" y="177" width="1" height="1" fill="#00ffff"/>
<rect x="415" y="178" width="1" height="1" fill="#00ffff"/>
<rect x="415" y="179" width="1" height="1" fill="#00ffff"/>
<rect x="415" y="180" width="1" height="1" fill="#00ffff"/>
<rect x="422" y="180" width="1" height="1" fill="#00ffff"/>
<rect x="416" y="181" width="1" height="1" fill="#00ffff"/>
<rect x="421" y="181" width="1" height="1" fill="#00ffff"/>
<rect x="417" y="182" width="1" height="1" fill="#00ffff"/>
<rect x="418" y="182" width="1" height="1" fill="#00ffff"/>
<rect x="419" y="182" width="1" height="1" fill="#00ffff"/>
<rect x="420" y="182" width="1" height="1" fill="#00ffff"/>
<rect x="421" y="177" width="2" height="4" fill="#00ffff"/>
<rect x="417" y="181" width="4" height="1" fill="#00ffff"/>
<rect x="413" y="179" width="12" height="1" fill="#ff0000"/>
<rect x="418" y="173" width="1" height="13" fill="#ff0000"/>
<rect x="432" y="174" width="10" height="1" fill="#00ffff"/>
<rect x="432" y="183" width="10" height="1" fill="#00ffff"/>
<rect x="432" y="174" width="1" height="10" fill="#00ffff"/>
<rect x="441" y="174" width="1" height="10" fill="#00ffff"/>
<rect x="435" y="175" width="1" height="1" fill="#00ffff"/>
<rect x="436" y="175" width="1" height="1" fill="#00ffff"/>
<rect x="437" y="175" width="1" height="1" fill="#00ffff"/>
<rect x="438" y="175" width="1" height="1" fill="#00ffff"/>
<rect x="434" y="176" width="1" height="1" fill="#00ffff"/>
<rect x="439" y="176" width="1" height="1" fill="#00ffff"/>
<rect x="433" y="177" width="1" height="1" fill="#00ffff"/>
<rect x="440" y="177" width="1" height="1" fill="#00ffff"/>
<rect x="433" y="178" width="1" height="1" fill="#00ffff"/>
<rect x="433" y="179" width="1" height="1" fill="#00ffff"/>
<rect x="433" y="180" width="1" height="1" fill="#00ffff"/>
<rect x="440" y="180" width="1" height="1" fill="#00ffff"/>
<rect x="434" y="181" width="1" height="1" fill="#00ffff"/>
<rect x="439" y="181" width="1" height="1" fill="#00ffff"/>
<rect x="435" y="182" width="1" height="1" fill="#00ffff"/>
<rect x="436" y="182" width="1" height="1" fill="#00ffff"/>
<rect x="437" y="182" width="1" height="1" fill="#00ffff"/>
<rect x="438" y="182" width="1" height="1" fill="#00ffff"/>
<rect x="439" y="177" width="2" height="4" fill="#00ffff"/>
<rect x="435" y="181" width="4" height="1" fill="#00ffff"/>
<rect x="431" y="179" width="12" height="1" fill="#ff0000"/>
<rect x="437" y="173" width="1" height="13" fill="#ff0000"/>
<rect x="451" y="174" width="10" height="1" fill="#00ffff"/>
<rect x="451" y="183" width="10" height="1" fill="#00ffff"/>
<rect x="451" y="174" width="1" height="10" fill="#00ffff"/>
<rect x="460" y="174" width="1" height="10" fill="#00ffff"/>
<rect x="454" y="175" width="1" height="1" fill="#00ffff"/>
<rect x="455" y="175" width="1" height="1" fill="#00ffff"/>
<rect x="456" y="175" width="1" height="1" fill="#00ffff"/>
<rect x="457" y="175" width="1" height="1" fill="#00ffff"/>
<rect x="453" y="176" width="1" height="1" fill="#00ffff"/>
<rect x="458" y="176" width="1" height="1" fill="#00ffff"/>
<rect x="452" y="177" width="1" height="1" fill="#00ffff"/>
<rect x="459" y="177" width="1" height="1" fill="#00ffff"/>
<rect x="452" y="178" width="1" height="1" fill="#00ffff"/>
<rect x="452" y="179" width="1" height="1" fill="#00ffff"/>
<rect x="452" y="180" width="1" height="1" fill="#00ffff"/>
<rect x="459" y="180" width="1" height="1" fill="#00ffff"/>
<rect x="453" y="181" width="1" height="1" fill="#00ffff"/>
<rect x="458" y="181" width="1" height="1" fill="#00ffff"/>
<rect x="454" y="182" width="1" height="1" fill="#00ffff"/>
<rect x="455" y="182" width="1" height="1" fill="#00ffff"/>
<rect x="456" y="182" width="1" height="1" fill="#00ffff"/>
<rect x="457" y="182" width="1" height="1" fill="#00ffff"/>
<rect x="458" y="177" width="2" height="4" fill="#00ffff"/>
<rect x="454" y="181" width="4" height="1" fill="#00ffff"/>
<rect x="450" y="179" width="12" height="1" fill="#ff0000"/>
<rect x="456" y="173" width="1" height="13" fill="#ff0000"/>
<rect x="470" y="174" width="10" height="1" fill="#00ffff"/>
<rect x="470" y="183" width="10" height="1" fill="#00ffff"/>
<rect x="470" y="174" width="1" height="10" fill="#00ffff"/>
<rect x="479" y="174" width="1" height="10" fill="#00ffff"/>
<rect x="473" y="175" width="1" height="1" fill="#00ffff"/>
<rect x="474" y="175" width="1" height="1" fill="#00ffff"/>
<rect x="475" y="175" width="1" height="1" fill="#00ffff"/>
<rect x="476" y="175" width="1" height="1" fill="#00ffff"/>
<rect x="472" y="176" width="1" height="1" fill="#00ffff"/>
<rect x="477" y="176" width="1" height="1" fill="#00ffff"/>
<rect x="471" y="177" width="1" height="1" fill="#00ffff"/>
<rect x="478" y="177" width="1" height="1" fill="#00ffff"/>
<rect x="471" y="178" width="1" height="1" fill="#00ffff"/>
<rect x="471" y="179" width="1" height="1" fill="#00ffff"/>
<rect x="471" y="180" width="1" height="1" fill="#00ffff"/>
<rect x="478" y="180" width="1" height="1" fill="#00ffff"/>
<rect x="472" y="181" width="1" height="1" fill="#00ffff"/>
<rect x="477" y="181" width="1" height="1" fill="#00ffff"/>
<rect x="473" y="182" width="1" height="1" fill="#00ffff"/>
<rect x="474" y="182" width="1" height="1" fill="#00ffff"/>
<rect x="475" y="182" width="1" height="1" fill="#00ffff"/>
<rect x="476" y="182" width="1" height="1" fill="#00ffff"/>
<rect x="477" y="177" width="2" height="4" fill="#00ffff"/>
<rect x="473" y="181" width="4" height="1" fill="#00ffff"/>
<rect x="469" y="179" width="12" height="1" fill="#ff0000"/>
<rect x="475" y="173" width="1" height="13" fill="#ff0000"/>
<rect x="489" y="174" width="10" height="1" fill="#00ffff"/>
<rect x="489" y="183" width="10" height="1" fill="#00ffff"/>
<rect x="489" y="174" width="1" height="10" fill="#00ffff"/>
<rect x="498" y="174" width="1" height="10" fill="#00ffff"/>
<rect x="492" y="175" width="1" height="1" fill="#00ffff"/>
<rect x="493" y="175" width="1" height="1" fill="#00ffff"/>
<rect x="494" y="175" width="1" height="1" fill="#00ffff"/>
<rect x="495" y="175" width="1" height="1" fill="#00ffff"/>
<rect x="491" y="176" width="1" height="1" fill="#00ffff"/>
<rect x="496" y="176" width="1" height="1" fill="#00ffff"/>
<rect x="490" y="177" width="1" height="1" fill="#00ffff"/>
<rect x="497" y="177" width="1" height="1" fill="#00ffff"/>
<rect x="490" y="178" width="1" height="1" fill="#00ffff"/>
<rect x="490" y="179" width="1" height="1" fill="#00ffff"/>
<rect x="490" y="180" width="1" height="1" fill="#00ffff"/>
<rect x="497" y="180" width="1" height="1" fill="#00ffff"/>
<rect x="491" y="181" width="1" height="1" fill="#00ffff"/>
<rect x="496" y="181" width="1" height="1" fill="#00ffff"/>
<rect x="492" y="182" width="1" height="1" fill="#00ffff"/>
<rect x="493" y="182" width="1" height="1" fill="#00ffff"/>
<rect x="494" y="182" width="1" height="1" fill="#00ffff"/>
<rect x="495" y="182" width="1" height="1" fill="#00ffff"/>
<rect x="496" y="177" width="2" height="4" fill="#00ffff"/>
<rect x="492" y="181" width="4" height="1" fill="#00ffff"/>
<rect x="488" y="179" width="12" height="1" fill="#ff0000"/>
<rect x="493" y="173" width="1" height="13" fill="#ff0000"/>
<rect x="508" y="174" width="10" height="1" fill="#00ffff"/>
<rect x="508" y="183" width="10" height="1" fill="#00ffff"/>
<rect x="508" y="174" width="1" height="10" fill="#00ffff"/>
<rect x="517" y="174" width="1" height="10" fill="#00ffff"/>
<rect x="511" y="175" width="1" height="1" fill="#00ffff"/>
<rect x="512" y="175" width="1" height="1" fill="#00ffff"/>
<rect x="513" y="175" width="1" height="1" fill="#00ffff"/>
<rect x="514" y="175" width="1" height="1" fill="#00ffff"/>
<rect x="510" y="176" width="1" height="1" fill="#00ffff"/>
<rect x="515" y="176" width="1" height="1" fill="#00ffff"/>
<rect x="509" y="177" width="1" height="1" fill="#00ffff"/>
<rect x="516" y="177" width="1" height="1" fill="#00ffff"/>
<rect x="509" y="178" width="1" height="1" fill="#00ffff"/>
<rect x="509" y="179" width="1" height="1" fill="#00ffff"/>
<rect x="509" y="180" width="1" height="1" fill="#00ffff"/>
<rect x="516" y="180" width="1" height="1" fill="#00ffff"/>
<rect x="510" y="181" width="1" height="1" fill="#00ffff"/>
<rect x="515" y="181" width="1" height="1" fill="#00ffff"/>
<rect x="511" y="182" width="1" height="1" fill="#00ffff"/>
<rect x="512" y="182" width="1" height="1" fill="#00ffff"/>
<rect x="513" y="182" width="1" height="1" fill="#00ffff"/>
<rect x="514" y="182" width="1" height="1" fill="#00ffff"/>
<rect x="515" y="177" width="2" height="4" fill="#00ffff"/>
<rect x="511" y="181" width="4" height="1" fill="#00ffff"/>
<rect x="507" y="179" width="12" height="1" fill="#ff0000"/>
<rect x="512" y="173" width="1" height="13" fill="#ff0000"/>
<rect x="564" y="174" width="10" height="1" fill="#00ffff"/>
<rect x="564" y="183" width="10" height="1" fill="#00ffff"/>
<rect x="564" y="174" width="1" height="10" fill="#00ffff"/>
<rect x="573" y="174" width="1" height="10" fill="#00ffff"/>
<rect x="567" y="175" width="1" height="1" fill="#00ffff"/>
<rect x="568" y="175" width="1" height="1" fill="#00ffff"/>
<rect x="569" y="175" width="1" height="1" fill="#00ffff"/>
<rect x="570" y="175" width="1" height="1" fill="#00ffff"/>
<rect x="566" y="176" width="1" height="1" fill="#00ffff"/>
<rect x="571" y="176" width="1" height="1" fill="#00ffff"/>
<rect x="565" y="177" width="1" height="1" fill="#00ffff"/>
<rect x="572" y="177" width="1" height="1" fill="#00ffff"/>
<rect x="565" y="178" width="1" height="1" fill="#00ffff"/>
<rect x="565" y="179" width="1" height="1" fill="#00ffff"/>
<rect x="565" y="180" width="1" height="1" fill="#00ffff"/>
<rect x="572" y="180" width="1" height="1" fill="#00ffff"/>
<rect x="566" y="181" width="1" height="1" fill="#00ffff"/>
<rect x="571" y="181" width="1" height="1" fill="#00ffff"/>
<rect x="567" y="182" width="1" height="1" fill="#00ffff"/>
<rect x="568" y="182" width="1" height="1" fill="#00ffff"/>
<rect x="569" y="182" width="1" height="1" fill="#00ffff"/>
<rect x="570" y="182" width="1" height="1" fill="#00ffff"/>
<rect x="571" y="177" width="2" height="4" fill="#00ffff"/>
<rect x="567" y="181" width="4" height="1" fill="#00ffff"/>
<rect x="563" y="179" width="12" height="1" fill="#ff0000"/>
<rect x="569" y="173" width="1" height="13" fill="#ff0000"/>
<rect x="583" y="174" width="10" height="1" fill="#00ffff"/>
<rect x="583" y="183" width="10" height="1" fill="#00ffff"/>
<rect x="583" y="174" width="1" height="10" fill="#00ffff"/>
<rect x="592" y="174" width="1" height="10" fill="#00ffff"/>
<rect x="586" y="175" width="1" height="1" fill="#00ffff"/>
<rect x="587" y="175" width="1" height="1" fill="#00ffff"/>
<rect x="588" y="175" width="1" height="1" fill="#00ffff"/>
<rect x="589" y="175" width="1" height="1" fill="#00ffff"/>
<rect x="585" y="176" width="1" height="1" fill="#00ffff"/>
<rect x="590" y="176" width="1" height="1" fill="#00ffff"/>
<rect x="584" y="177" width="1" height="1" fill="#00ffff"/>
<rect x="591" y="177" width="1" height="1" fill="#00ffff"/>
<rect x="584" y="178" width="1" height="1" fill="#00ffff"/>
<rect x="584" y="179" width="1" height="1" fill="#00ffff"/>
<rect x="584" y="180" width="1" height="1" fill="#00ffff"/>
<rect x="591" y="180" width="1" height="1" fill="#00ffff"/>
<rect x="585" y="181" width="1" height="1" fill="#00ffff"/>
<rect x="590" y="181" width="1" height="1" fill="#00ffff"/>
<rect x="586" y="182" width="1" height="1" fill="#00ffff"/>
<rect x="587" y="182" width="1" height="1" fill="#00ffff"/>
<rect x="588" y="182" width="1" height="1" fill="#00ffff"/>
<rect x="589" y="182" width="1" height="1" fill="#00ffff"/>
<rect x="590" y="177" width="2" height="4" fill="#00ffff"/>
<rect x="586" y="181" width="4" height="1" fill="#00ffff"/>
<rect x="582" y="179" width="12" height="1" fill="#ff0000"/>
<rect x="587" y="173" width="1" height="13" fill="#ff0000"/>
<rect x="602" y="174" width="10" height="1" fill="#00ffff"/>
<rect x="602" y="183" width="10" height="1" fill="#00ffff"/>
<rect x="602" y="174" width="1" height="10" fill="#00ffff"/>
<rect x="611" y="174" width="1" height="10" fill="#00ffff"/>
<rect x="605" y="175" width="1" height="1" fill="#00ffff"/>
<rect x="606" y="175" width="1" height="1" fill="#00ffff"/>
<rect x="607" y="175" width="1" height="1" fill="#00ffff"/>
<rect x="608" y="175" width="1" height="1" fill="#00ffff"/>
<rect x="604" y="176" width="1" height="1" fill="#00ffff"/>
<rect x="609" y="176" width="1" height="1" fill="#00ffff"/>
<rect x="603" y="177" width="1" height="1" fill="#00ffff"/>
<rect x="610" y="177" width="1" height="1" fill="#00ffff"/>
<rect x="603" y="178" width="1" height="1" fill="#00ffff"/>
<rect x="603" y="179" width="1" height="1" fill="#00ffff"/>
<rect x="603" y="180" width="1" height="1" fill="#00ffff"/>
<rect x="610" y="180" width="1" height="1" fill="#00ffff"/>
<rect x="604" y="181" width="1" height="1" fill="#00ffff"/>
<rect x="609" y="181" width="1" height="1" fill="#00ffff"/>
<rect x="605" y="182" width="1" height="1" fill="#00ffff"/>
<rect x="606" y="182" width="1" height="1" fill="#00ffff"/>
<rect x="607" y="182" width="1" height="1" fill="#00ffff"/>
<rect x="608" y="182" width="1" height="1" fill="#00ffff"/>
<rect x="609" y="177" width="2" height="4" fill="#00ffff"/>
<rect x="605" y="181" width="4" height="1" fill="#00ffff"/>
<rect x="601" y="179" width="12" height="1" fill="#ff0000"/>
<rect x="606" y="173" width="1" height="13" fill="#ff0000"/>
<rect x="620" y="174" width="10" height="1" fill="#00ffff"/>
<rect x="620" y="183" width="10" height="1" fill="#00ffff"/>
<rect x="620" y="174" width="1" height="10" fill="#00ffff"/>
<rect x="629" y="174" width="1" height="10" fill="#00ffff"/>
<rect x="623" y="175" width="1" height="1" fill="#00ffff"/>
<rect x="624" y="175" width="1" height="1" fill="#00ffff"/>
<rect x="625" y="175" width="1" height="1" fill="#00ffff"/>
<rect x="626" y="175" width="1" height="1" fill="#00ffff"/>
<rect x="622" y="176" width="1" height="1" fill="#00ffff"/>
<rect x="627" y="176" width="1" height="1" fill="#00ffff"/>
<rect x="621" y="177" width="1" height="1" fill="#00ffff"/>
<rect x="628" y="177" width="1" height="1" fill="#00ffff"/>
<rect x="621" y="178" width="1" height="1" fill="#00ffff"/>
<rect x="621" y="179" width="1" height="1" fill="#00ffff"/>
<rect x="621" y="180" width="1" height="1" fill="#00ffff"/>
<rect x="628" y="180" width="1" height="1" fill="#00ffff"/>
<rect x="622" y="181" width="1" height="1" fill="#00ffff"/>
<rect x="627" y="181" width="1" height="1" fill="#00ffff"/>
<rect x="623" y="182" width="1" height="1" fill="#00ffff"/>
<rect x="624" y="182" width="1" height="1" fill="#00ffff"/>
<rect x="625" y="182" width="1" height="1" fill="#00ffff"/>
<rect x="626" y="182" width="1" height="1" fill="#00ffff"/>
<rect x="627" y="177" width="2" height="4" fill="#00ffff"/>
<rect x="623" y="181" width="4" height="1" fill="#00ffff"/>
<rect x="619" y="179" width="12" height="1" fill="#ff0000"/>
<rect x="625" y="173" width="1" height="13" fill="#ff0000"/>
<rect x="639" y="174" width="10" height="1" fill="#00ffff"/>
<rect x="639" y="183" width="10" height="1" fill="#00ffff"/>
<rect x="639" y="174" width="1" height="10" fill="#00ffff"/>
<rect x="648" y="174" width="1" height="10" fill="#00ffff"/>
<rect x="642" y="175" width="1" height="1" fill="#00ffff"/>
<rect x="643" y="175" width="1" height="1" fill="#00ffff"/>
<rect x="644" y="175" width="1" height="1" fill="#00ffff"/>
<rect x="645" y="175" width="1" height="1" fill="#00ffff"/>
<rect x="641" y="176" width="1" height="1" fill="#00ffff"/>
<rect x="646" y="176" width="1" height="1" fill="#00ffff"/>
<rect x="640" y="177" width="1" height="1" fill="#00ffff"/>
<rect x="647" y="177" width="1" height="1" fill="#00ffff"/>
<rect x="640" y="178" width="1" height="1" fill="#00ffff"/>
<rect x="640" y="179" width="1" height="1" fill="#00ffff"/>
<rect x="640" y="180" width="1" height="1" fill="#00ffff"/>
<rect x="647" y="180" width="1" height="1" fill="#00ffff"/>
<rect x="641" y="181" width="1" height="1" fill="#00ffff"/>
<rect x="646" y="181" width="1" height="1" fill="#00ffff"/>
<rect x="642" y="182" width="1" height="1" fill="#00ffff"/>
<rect x="643" y="182" width="1" height="1" fill="#00ffff"/>
<rect x="644" y="182" width="1" height="1" fill="#00ffff"/>
<rect x="645" y="182" width="1" height="1" fill="#00ffff"/>
<rect x="646" y="177" width="2" height="4" fill="#00ffff"/>
<rect x="642" y="181" width="4" height="1" fill="#00ffff"/>
<rect x="638" y="179" width="12" height="1" fill="#ff0000"/>
<rect x="644" y="173" width="1" height="13" fill="#ff0000"/>
<rect x="370" y="164" width="1" height="33" fill="#ffffff"/>
<rect x="372" y="164" width="1" height="33" fill="#ffffff"/>
<rect x="371" y="164" width="1" height="33" fill="#ff0000"/>
<rect x="369" y="195" width="6" height="10" fill="#ffffff"/>
<rect x="373" y="196" width="1" height="7" fill="#000"/>
<rect x="368" y="203" width="8" height="2" fill="#ffffff"/>
<rect x="370" y="202" width="1" height="1" fill="#ff0000"/>
<rect x="372" y="202" width="1" height="1" fill="#ff0000"/>
<rect x="371" y="205" width="1" height="4" fill="#ff0000"/>
<rect x="373" y="165" width="1" height="1" fill="#ff0000"/>
<rect x="373" y="167" width="1" height="1" fill="#ff0000"/>
<rect x="407" y="164" width="1" height="33" fill="#ffffff"/>
<rect x="409" y="164" width="1" height="33" fill="#ffffff"/>
<rect x="408" y="164" width="1" height="33" fill="#ff0000"/>
<rect x="406" y="195" width="6" height="10" fill="#ffffff"/>
<rect x="410" y="196" width="1" height="7" fill="#000"/>
<rect x="405" y="203" width="8" height="2" fill="#ffffff"/>
<rect x="407" y="202" width="1" height="1" fill="#ff0000"/>
<rect x="409" y="202" width="1" height="1" fill="#ff0000"/>
<rect x="408" y="205" width="1" height="4" fill="#ff0000"/>
<rect x="410" y="165" width="1" height="1" fill="#ff0000"/>
<rect x="410" y="167" width="1" height="1" fill="#ff0000"/>
<rect x="445" y="164" width="1" height="33" fill="#ffffff"/>
<rect x="447" y="164" width="1" height="33" fill="#ffffff"/>
<rect x="446" y="164" width="1" height="33" fill="#ff0000"/>
<rect x="444" y="195" width="6" height="10" fill="#ffffff"/>
<rect x="448" y="196" width="1" height="7" fill="#000"/>
<rect x="443" y="203" width="8" height="2" fill="#ffffff"/>
<rect x="445" y="202" width="1" height="1" fill="#ff0000"/>
<rect x="447" y="202" width="1" height="1" fill="#ff0000"/>
<rect x="446" y="205" width="1" height="4" fill="#ff0000"/>
<rect x="448" y="165" width="1" height="1" fill="#ff0000"/>
<rect x="448" y="167" width="1" height="1" fill="#ff0000"/>
<rect x="483" y="164" width="1" height="33" fill="#ffffff"/>
<rect x="485" y="164" width="1" height="33" fill="#ffffff"/>
<rect x="484" y="164" width="1" height="33" fill="#ff0000"/>
<rect x="482" y="195" width="6" height="10" fill="#ffffff"/>
<rect x="486" y="196" width="1" height="7" fill="#000"/>
<rect x="481" y="203" width="8" height="2" fill="#ffffff"/>
<rect x="483" y="202" width="1" height="1" fill="#ff0000"/>
<rect x="485" y="202" width="1" height="1" fill="#ff0000"/>
<rect x="484" y="205" width="1" height="4" fill="#ff0000"/>
<rect x="486" y="165" width="1" height="1" fill="#ff0000"/>
<rect x="486" y="167" width="1" height="1" fill="#ff0000"/>
<rect x="521" y="164" width="1" height="33" fill="#ffffff"/>
<rect x="523" y="164" width="1" height="33" fill="#ffffff"/>
<rect x="522" y="164" width="1" height="33" fill="#ff0000"/>
<rect x="520" y="195" width="6" height="10" fill="#ffffff"/>
<rect x="524" y="196" width="1" height="7" fill="#000"/>
<rect x="519" y="203" width="8" height="2" fill="#ffffff"/>
<rect x="521" y="202" width="1" height="1" fill="#ff0000"/>
<rect x="523" y="202" width="1" height="1" fill="#ff0000"/>
<rect x="522" y="205" width="1" height="4" fill="#ff0000"/>
<rect x="524" y="165" width="1" height="1" fill="#ff0000"/>
<rect x="524" y="167" width="1" height="1" fill="#ff0000"/>
<rect x="558" y="164" width="1" height="33" fill="#ffffff"/>
<rect x="560" y="164" width="1" height="33" fill="#ffffff"/>
<rect x="559" y="164" width="1" height="33" fill="#ff0000"/>
<rect x="557" y="195" width="6" height="10" fill="#ffffff"/>
<rect x="561" y="196" width="1" height="7" fill="#000"/>
<rect x="556" y="203" width="8" height="2" fill="#ffffff"/>
<rect x="558" y="202" width="1" height="1" fill="#ff0000"/>
<rect x="560" y="202" width="1" height="1" fill="#ff0000"/>
<rect x="559" y="205" width="1" height="4" fill="#ff0000"/>
<rect x="561" y="165" width="1" height="1" fill="#ff0000"/>
<rect x="561" y="167" width="1" height="1" fill="#ff0000"/>
<rect x="596" y="164" width="1" height="33" fill="#ffffff"/>
<rect x="598" y="164" width="1" height="33" fill="#ffffff"/>
<rect x="597" y="164" width="1" height="33" fill="#ff0000"/>
<rect x="595" y="195" width="6" height="10" fill="#ffffff"/>
<rect x="599" y="196" width="1" height="7" fill="#000"/>
<rect x="594" y="203" width="8" height="2" fill="#ffffff"/>
<rect x="596" y="202" width="1" height="1" fill="#ff0000"/>
<rect x="598" y="202" width="1" height="1" fill="#ff0000"/>
<rect x="597" y="205" width="1" height="4" fill="#ff0000"/>
<rect x="599" y="165" width="1" height="1" fill="#ff0000"/>
<rect x="599" y="167" width="1" height="1" fill="#ff0000"/>
<rect x="634" y="164" width="1" height="33" fill="#ffffff"/>
<rect x="636" y="164" width="1" height="33" fill="#ffffff"/>
<rect x="635" y="164" width="1" height="33" fill="#ff0000"/>
<rect x="633" y="195" width="6" height="10" fill="#ffffff"/>
<rect x="637" y="196" width="1" height="7" fill="#000"/>
<rect x="632" y="203" width="8" height="2" fill="#ffffff"/>
<rect x="634" y="202" width="1" height="1" fill="#ff0000"/>
<rect x="636" y="202" width="1" height="1" fill="#ff0000"/>
<rect x="635" y="205" width="1" height="4" fill="#ff0000"/>
<rect x="637" y="165" width="1" height="1" fill="#ff0000"/>
<rect x="637" y="167" width="1" height="1" fill="#ff0000"/>
<rect x="430" y="157" width="4" height="1" fill="#00ffff"/>
<rect x="430" y="160" width="4" height="1" fill="#00ffff"/>
<rect x="430" y="157" width="1" height="4" fill="#00ffff"/>
<rect x="433" y="157" width="1" height="4" fill="#00ffff"/>
<rect x="438" y="164" width="3" height="2" fill="#ffffff"/>
<rect x="439" y="166" width="1" height="1" fill="#ffffff"/>
<rect x="534" y="173" width="1" height="19" fill="#00ffff"/>
<rect x="547" y="173" width="1" height="19" fill="#00ffff"/>
<path d="M534.5,173.5 A6.5,3.5 0 0 1 547.5,173.5" fill="none" stroke="#00ffff"/>
<rect x="547" y="172" width="6" height="1" fill="#00ff00"/>
<rect x="547" y="191" width="6" height="1" fill="#00ff00"/>
<rect x="552" y="172" width="1" height="20" fill="#00ff00"/>
<rect x="550" y="179" width="3" height="6" fill="#00ff00"/>
<rect x="540" y="168" width="1" height="34" fill="#ff0000"/>
<rect x="538" y="184" width="1" height="2" fill="#00ffff"/>
<rect x="539" y="186" width="1" height="2" fill="#00ffff"/>
<rect x="540" y="188" width="1" height="3" fill="#00ffff"/>
<rect x="541" y="191" width="1" height="3" fill="#00ffff"/>
<rect x="542" y="194" width="1" height="2" fill="#00ffff"/>
<rect x="543" y="196" width="1" height="3" fill="#00ffff"/>
<rect x="544" y="199" width="1" height="3" fill="#00ffff"/>
<rect x="545" y="202" width="1" height="2" fill="#00ffff"/>
<rect x="546" y="204" width="1" height="3" fill="#00ffff"/>
<rect x="547" y="207" width="1" height="3" fill="#00ffff"/>
<rect x="548" y="210" width="1" height="2" fill="#00ffff"/>
<rect x="549" y="212" width="1" height="3" fill="#00ffff"/>
<rect x="550" y="215" width="1" height="2" fill="#00ffff"/>
<rect x="551" y="217" width="1" height="3" fill="#00ffff"/>
<rect x="552" y="220" width="1" height="3" fill="#00ffff"/>
<rect x="553" y="223" width="1" height="2" fill="#00ffff"/>
<rect x="554" y="225" width="1" height="3" fill="#00ffff"/>
<rect x="555" y="228" width="1" height="3" fill="#00ffff"/>
<rect x="556" y="231" width="1" height="2" fill="#00ffff"/>
<rect x="557" y="233" width="1" height="2" fill="#00ffff"/>
<rect x="558" y="230" width="16" height="5" fill="#00ffff"/>
<rect x="668" y="147" width="8" height="1" fill="#00ffff"/>
<rect x="668" y="153" width="8" height="1" fill="#00ffff"/>
<rect x="668" y="147" width="1" height="7" fill="#00ffff"/>
<rect x="675" y="147" width="1" height="7" fill="#00ffff"/>
<rect x="668" y="147" width="1" height="1" fill="#00ffff"/>
<rect x="669" y="148" width="1" height="1" fill="#00ffff"/>
<rect x="670" y="149" width="1" height="1" fill="#00ffff"/>
<rect x="671" y="150" width="2" height="1" fill="#00ffff"/>
<rect x="673" y="151" width="1" height="1" fill="#00ffff"/>
<rect x="674" y="152" width="1" height="1" fill="#00ffff"/>
<rect x="675" y="153" width="1" height="1" fill="#00ffff"/>
<rect x="675" y="147" width="1" height="1" fill="#00ffff"/>
<rect x="674" y="148" width="1" height="1" fill="#00ffff"/>
<rect x="673" y="149" width="1" height="1" fill="#00ffff"/>
<rect x="671" y="150" width="2" height="1" fill="#00ffff"/>
<rect x="670" y="151" width="1" height="1" fill="#00ffff"/>
<rect x="669" y="152" width="1" height="1" fill="#00ffff"/>
<rect x="668" y="153" width="1" height="1" fill="#00ffff"/>
<rect x="661" y="157" width="1" height="13" fill="#00ffff"/>
<rect x="661" y="157" width="5" height="1" fill="#00ffff"/>
<rect x="655" y="172" width="7" height="1" fill="#00ffff"/>
<rect x="652" y="166" width="2" height="6" fill="#00ffff"/>
<rect x="663" y="150" width="3" height="1" fill="#00ffff"/>
<rect x="663" y="155" width="3" height="1" fill="#00ffff"/>
<rect x="663" y="150" width="1" height="6" fill="#00ffff"/>
<rect x="665" y="150" width="1" height="6" fill="#00ffff"/>
<rect x="663" y="152" width="3" height="1" fill="#00ffff"/>
<rect x="663" y="166" width="3" height="1" fill="#00ffff"/>
<rect x="663" y="170" width="3" height="1" fill="#00ffff"/>
<rect x="663" y="166" width="1" height="5" fill="#00ffff"/>
<rect x="665" y="166" width="1" height="5" fill="#00ffff"/>
<rect x="663" y="168" width="3" height="1" fill="#00ffff"/>
<rect x="693" y="150" width="3" height="1" fill="#00ffff"/>
<rect x="693" y="155" width="3" height="1" fill="#00ffff"/>
<rect x="693" y="150" width="1" height="6" fill="#00ffff"/>
<rect x="695" y="150" width="1" height="6" fill="#00ffff"/>
<rect x="693" y="152" width="3" height="1" fill="#00ffff"/>
<rect x="686" y="157" width="8" height="1" fill="#00ffff"/>
<rect x="675" y="125" width="5" height="1" fill="#00ffff"/>
<rect x="675" y="130" width="5" height="1" fill="#00ffff"/>
<rect x="675" y="125" width="1" height="6" fill="#00ffff"/>
<rect x="679" y="125" width="1" height="6" fill="#00ffff"/>
<rect x="677" y="127" width="2" height="2" fill="#00ffff"/>
<rect x="672" y="163" width="3" height="3" fill="#ffffff"/>
<rect x="677" y="160" width="1" height="1" fill="#ffffff"/>
<rect x="678" y="161" width="2" height="1" fill="#ffffff"/>
<rect x="680" y="162" width="1" height="1" fill="#ffffff"/>
<rect x="681" y="163" width="1" height="1" fill="#ffffff"/>
<rect x="682" y="164" width="2" height="1" fill="#ffffff"/>
<rect x="684" y="165" width="1" height="1" fill="#ffffff"/>
<rect x="685" y="166" width="1" height="1" fill="#ffffff"/>
<rect x="686" y="167" width="2" height="1" fill="#ffffff"/>
<rect x="688" y="168" width="1" height="1" fill="#ffffff"/>
<rect x="677" y="161" width="1" height="1" fill="#ffffff"/>
<rect x="678" y="162" width="2" height="1" fill="#ffffff"/>
<rect x="680" y="163" width="1" height="1" fill="#ffffff"/>
<rect x="681" y="164" width="1" height="1" fill="#ffffff"/>
<rect x="682" y="165" width="2" height="1" fill="#ffffff"/>
<rect x="684" y="166" width="1" height="1" fill="#ffffff"/>
<rect x="685" y="167" width="1" height="1" fill="#ffffff"/>
<rect x="686" y="168" width="2" height="1" fill="#ffffff"/>
<rect x="688" y="169" width="1" height="1" fill="#ffffff"/>
<rect x="677" y="162" width="1" height="1" fill="#ffffff"/>
<rect x="678" y="163" width="2" height="1" fill="#ffffff"/>
<rect x="680" y="164" width="1" height="1" fill="#ffffff"/>
<rect x="681" y="165" width="1" height="1" fill="#ffffff"/>
<rect x="682" y="166" width="2" height="1" fill="#ffffff"/>
<rect x="684" y="167" width="1" height="1" fill="#ffffff"/>
<rect x="685" y="168" width="1" height="1" fill="#ffffff"/>
<rect x="686" y="169" width="2" height="1" fill="#ffffff"/>
<rect x="688" y="170" width="1" height="1" fill="#ffffff"/>
<rect x="679" y="163" width="1" height="1" fill="#ff0000"/>
<rect x="680" y="164" width="1" height="1" fill="#ff0000"/>
<rect x="683" y="166" width="1" height="1" fill="#ff0000"/>
<rect x="684" y="167" width="1" height="1" fill="#ff0000"/>
<rect x="685" y="166" width="4" height="4" fill="#ffff00"/>
<rect x="686" y="167" width="1" height="1" fill="#ffff00"/>
<rect x="687" y="168" width="1" height="2" fill="#ffff00"/>
<rect x="688" y="170" width="1" height="1" fill="#ffff00"/>
<rect x="689" y="171" width="1" height="1" fill="#ffff00"/>
<rect x="688" y="169" width="10" height="1" fill="#ffff00"/>
<rect x="688" y="169" width="1" height="9" fill="#ffff00"/>
<rect x="688" y="172" width="13" height="2" fill="#ffff00"/>
<rect x="700" y="172" width="1" height="7" fill="#ffff00"/>
<rect x="690" y="171" width="38" height="1" fill="#ffffff"/>
<rect x="716" y="170" width="14" height="6" fill="#ffffff"/>
<rect x="695" y="176" width="26" height="1" fill="#ffffff"/>
<rect x="718" y="172" width="4" height="1" fill="#000"/>
<rect x="723" y="173" width="4" height="1" fill="#000"/>
<rect x="719" y="171" width="9" height="1" fill="#000"/>
<rect x="684" y="178" width="47" height="5" fill="#ffffff"/>
<rect x="690" y="179" width="5" height="2" fill="#000"/>
<rect x="696" y="179" width="25" height="2" fill="#000"/>
<rect x="722" y="179" width="6" height="2" fill="#000"/>
<rect x="684" y="177" width="5" height="6" fill="#ffffff"/>
<rect x="685" y="179" width="3" height="2" fill="#000"/>
<rect x="689" y="174" width="39" height="1" fill="#ff0000"/>
<rect x="692" y="170" width="1" height="14" fill="#ff0000"/>
<rect x="694" y="170" width="1" height="14" fill="#ff0000"/>
<rect x="706" y="172" width="1" height="4" fill="#ff0000"/>
<rect x="720" y="172" width="1" height="6" fill="#ff0000"/>
<rect x="725" y="170" width="1" height="5" fill="#ff0000"/>
<rect x="728" y="176" width="1" height="6" fill="#ff0000"/>
<rect x="686" y="169" width="1" height="21" fill="#ff0000"/>
<rect x="708" y="166" width="5" height="1" fill="#00ffff"/>
<rect x="708" y="177" width="5" height="1" fill="#00ffff"/>
<rect x="708" y="166" width="1" height="12" fill="#00ffff"/>
<rect x="712" y="166" width="1" height="12" fill="#00ffff"/>
<rect x="729" y="140" width="12" height="4" fill="#00ffff"/>
<rect x="724" y="143" width="6" height="1" fill="#00ffff"/>
<rect x="724" y="143" width="1" height="2" fill="#00ffff"/>
<rect x="723" y="145" width="1" height="2" fill="#00ffff"/>
<rect x="722" y="147" width="1" height="3" fill="#00ffff"/>
<rect x="721" y="150" width="1" height="2" fill="#00ffff"/>
<rect x="720" y="152" width="1" height="3" fill="#00ffff"/>
<rect x="719" y="155" width="1" height="2" fill="#00ffff"/>
<rect x="718" y="157" width="1" height="3" fill="#00ffff"/>
<rect x="717" y="160" width="1" height="2" fill="#00ffff"/>
<rect x="716" y="162" width="1" height="3" fill="#00ffff"/>
<rect x="715" y="165" width="1" height="2" fill="#00ffff"/>
<rect x="714" y="167" width="1" height="3" fill="#00ffff"/>
<rect x="713" y="170" width="1" height="2" fill="#00ffff"/>
<rect x="712" y="172" width="1" height="3" fill="#00ffff"/>
<rect x="711" y="175" width="1" height="2" fill="#00ffff"/>
<rect x="710" y="177" width="1" height="3" fill="#00ffff"/>
<rect x="709" y="180" width="1" height="2" fill="#00ffff"/>
<rect x="708" y="182" width="1" height="3" fill="#00ffff"/>
<rect x="707" y="185" width="1" height="2" fill="#00ffff"/>
<rect x="706" y="187" width="1" height="2" fill="#00ffff"/>
<rect x="676" y="168" width="1" height="20" fill="#00ffff"/>
<rect x="676" y="168" width="9" height="1" fill="#00ffff"/>
<rect x="682" y="168" width="3" height="20" fill="#00ffff"/>
<rect x="678" y="174" width="3" height="3" fill="#00ffff"/>
<rect x="679" y="169" width="2" height="2" fill="#00ffff"/>
<rect x="677" y="170" width="1" height="8" fill="#ff0000"/>
<rect x="681" y="170" width="1" height="8" fill="#ff0000"/>
<rect x="675" y="187" width="16" height="1" fill="#00ffff"/>
<rect x="689" y="182" width="1" height="6" fill="#00ffff"/>
<rect x="671" y="164" width="1" height="4" fill="#ff0000"/>
<rect x="123" y="143" width="14" height="2" fill="#00ffff"/>
<rect x="134" y="145" width="1" height="2" fill="#00ffff"/>
<rect x="135" y="147" width="1" height="2" fill="#00ffff"/>
<rect x="136" y="149" width="1" height="2" fill="#00ffff"/>
<rect x="137" y="151" width="1" height="2" fill="#00ffff"/>
<rect x="138" y="153" width="1" height="2" fill="#00ffff"/>
<rect x="139" y="155" width="1" height="2" fill="#00ffff"/>
<rect x="140" y="157" width="1" height="1" fill="#00ffff"/>
<rect x="142" y="142" width="17" height="3" fill="#00ffff"/>
<rect x="157" y="145" width="1" height="2" fill="#00ffff"/>
<rect x="158" y="147" width="1" height="3" fill="#00ffff"/>
<rect x="159" y="150" width="1" height="2" fill="#00ffff"/>
<rect x="160" y="152" width="1" height="3" fill="#00ffff"/>
<rect x="161" y="155" width="1" height="2" fill="#00ffff"/>
<rect x="161" y="142" width="15" height="3" fill="#00ffff"/>
<rect x="173" y="145" width="1" height="2" fill="#00ffff"/>
<rect x="174" y="147" width="1" height="2" fill="#00ffff"/>
<rect x="175" y="149" width="1" height="2" fill="#00ffff"/>
<rect x="176" y="151" width="1" height="2" fill="#00ffff"/>
<rect x="177" y="153" width="1" height="2" fill="#00ffff"/>
<rect x="178" y="155" width="1" height="2" fill="#00ffff"/>
<rect x="194" y="141" width="8" height="3" fill="#00ffff"/>
<rect x="201" y="143" width="1" height="2" fill="#00ffff"/>
<rect x="202" y="145" width="1" height="3" fill="#00ffff"/>
<rect x="203" y="148" width="1" height="2" fill="#00ffff"/>
<rect x="204" y="150" width="1" height="3" fill="#00ffff"/>
<rect x="205" y="153" width="1" height="3" fill="#00ffff"/>
<rect x="206" y="156" width="1" height="2" fill="#00ffff"/>
<rect x="207" y="158" width="1" height="3" fill="#00ffff"/>
<rect x="208" y="161" width="1" height="2" fill="#00ffff"/>
<rect x="208" y="145" width="11" height="2" fill="#00ffff"/>
<rect x="218" y="146" width="1" height="2" fill="#00ffff"/>
<rect x="219" y="148" width="1" height="3" fill="#00ffff"/>
<rect x="220" y="151" width="1" height="4" fill="#00ffff"/>
<rect x="221" y="155" width="1" height="3" fill="#00ffff"/>
<rect x="222" y="158" width="1" height="2" fill="#00ffff"/>
<rect x="116" y="154" width="66" height="1" fill="#00ff00"/>
<rect x="142" y="151" width="15" height="3" fill="#00ff00"/>
<rect x="144" y="152" width="3" height="1" fill="#000"/>
<rect x="116" y="152" width="2" height="2" fill="#00ff00"/>
<rect x="184" y="156" width="44" height="1" fill="#00ff00"/>
<rect x="206" y="155" width="5" height="1" fill="#00ff00"/>
<rect x="114" y="156" width="47" height="1" fill="#ffffff"/>
<rect x="161" y="156" width="22" height="1" fill="#00ffff"/>
<rect x="114" y="161" width="39" height="1" fill="#ffffff"/>
<rect x="111" y="166" width="47" height="2" fill="#ffffff"/>
<rect x="111" y="169" width="47" height="1" fill="#ffffff"/>
<rect x="112" y="158" width="49" height="1" fill="#ff0000"/>
<rect x="158" y="156" width="1" height="1" fill="#ff0000"/>
<rect x="159" y="157" width="1" height="1" fill="#ff0000"/>
<rect x="160" y="158" width="1" height="1" fill="#ff0000"/>
<rect x="160" y="158" width="1" height="1" fill="#ff0000"/>
<rect x="159" y="159" width="1" height="1" fill="#ff0000"/>
<rect x="158" y="160" width="1" height="1" fill="#ff0000"/>
<rect x="110" y="166" width="1" height="10" fill="#00ffff"/>
<rect x="114" y="156" width="1" height="11" fill="#ffffff"/>
<rect x="152" y="156" width="1" height="11" fill="#ffffff"/>
<rect x="114" y="161" width="4" height="5" fill="#00ffff"/>
<rect x="150" y="161" width="5" height="5" fill="#00ffff"/>
<rect x="115" y="157" width="1" height="9" fill="#ff0000"/>
<rect x="151" y="157" width="1" height="12" fill="#ff0000"/>
<rect x="153" y="157" width="1" height="12" fill="#ff0000"/>
<rect x="113" y="164" width="1" height="4" fill="#ff00ff"/>
<rect x="116" y="164" width="1" height="4" fill="#ff00ff"/>
<rect x="125" y="167" width="1" height="1" fill="#ff00ff"/>
<rect x="143" y="167" width="1" height="1" fill="#ff00ff"/>
<rect x="157" y="166" width="16" height="5" fill="#ffffff"/>
<rect x="159" y="167" width="2" height="3" fill="#000"/>
<rect x="162" y="167" width="2" height="3" fill="#000"/>
<rect x="165" y="167" width="2" height="3" fill="#000"/>
<rect x="168" y="167" width="2" height="3" fill="#000"/>
<rect x="172" y="167" width="14" height="1" fill="#ffffff"/>
<rect x="172" y="170" width="21" height="1" fill="#00ffff"/>
<rect x="157" y="161" width="6" height="1" fill="#00ffff"/>
<rect x="157" y="166" width="6" height="1" fill="#00ffff"/>
<rect x="157" y="161" width="1" height="6" fill="#00ffff"/>
<rect x="162" y="161" width="1" height="6" fill="#00ffff"/>
<rect x="165" y="161" width="4" height="1" fill="#00ffff"/>
<rect x="165" y="166" width="4" height="1" fill="#00ffff"/>
<rect x="165" y="161" width="1" height="6" fill="#00ffff"/>
<rect x="168" y="161" width="1" height="6" fill="#00ffff"/>
<rect x="166" y="162" width="2" height="4" fill="#ffffff"/>
<rect x="170" y="161" width="3" height="5" fill="#ff00ff"/>
<rect x="178" y="151" width="1" height="13" fill="#ff0000"/>
<rect x="171" y="163" width="16" height="1" fill="#ff0000"/>
<rect x="179" y="156" width="4" height="1" fill="#00ffff"/>
<rect x="179" y="161" width="4" height="1" fill="#00ffff"/>
<rect x="179" y="156" width="1" height="6" fill="#00ffff"/>
<rect x="182" y="156" width="1" height="6" fill="#00ffff"/>
<rect x="183" y="162" width="2" height="1" fill="#ff00ff"/>
<rect x="184" y="156" width="1" height="10" fill="#ffff00"/>
<rect x="184" y="156" width="7" height="1" fill="#ffff00"/>
<rect x="185" y="160" width="23" height="1" fill="#ffff00"/>
<rect x="188" y="163" width="35" height="2" fill="#ffff00"/>
<rect x="189" y="167" width="30" height="1" fill="#ffff00"/>
<rect x="213" y="161" width="16" height="2" fill="#ffff00"/>
<rect x="215" y="162" width="2" height="1" fill="#ff0000"/>
<rect x="218" y="162" width="2" height="1" fill="#ff0000"/>
<rect x="221" y="162" width="2" height="1" fill="#ff0000"/>
<rect x="224" y="162" width="2" height="1" fill="#ff0000"/>
<rect x="227" y="162" width="2" height="1" fill="#ff0000"/>
<rect x="185" y="161" width="4" height="8" fill="#ffffff"/>
<rect x="186" y="163" width="1" height="2" fill="#ffff00"/>
<rect x="201" y="166" width="5" height="6" fill="#ffff00"/>
<rect x="203" y="166" width="1" height="2" fill="#000"/>
<rect x="203" y="170" width="1" height="2" fill="#000"/>
<rect x="218" y="166" width="4" height="6" fill="#ffff00"/>
<rect x="219" y="166" width="2" height="2" fill="#000"/>
<rect x="219" y="170" width="2" height="2" fill="#000"/>
<rect x="202" y="174" width="2" height="1" fill="#ffffff"/>
<rect x="204" y="173" width="2" height="1" fill="#ff0000"/>
<rect x="206" y="173" width="2" height="1" fill="#ffffff"/>
<rect x="208" y="172" width="2" height="1" fill="#ff0000"/>
<rect x="210" y="171" width="2" height="1" fill="#ffffff"/>
<rect x="213" y="170" width="2" height="1" fill="#ff0000"/>
<rect x="215" y="169" width="2" height="1" fill="#ffffff"/>
<rect x="217" y="168" width="2" height="1" fill="#ff0000"/>
<rect x="203" y="175" width="2" height="1" fill="#ffffff"/>
<rect x="205" y="174" width="2" height="1" fill="#ffffff"/>
<rect x="207" y="173" width="2" height="1" fill="#ffffff"/>
<rect x="209" y="172" width="2" height="1" fill="#ffffff"/>
<rect x="211" y="171" width="2" height="1" fill="#ffffff"/>
<rect x="213" y="170" width="2" height="1" fill="#ffffff"/>
<rect x="215" y="169" width="2" height="1" fill="#ffffff"/>
<rect x="217" y="168" width="2" height="1" fill="#ffffff"/>
<rect x="229" y="160" width="3" height="11" fill="#ffffff"/>
<rect x="192" y="170" width="1" height="8" fill="#00ffff"/>
<rect x="192" y="177" width="31" height="1" fill="#00ffff"/>
<rect x="197" y="172" width="1" height="6" fill="#00ffff"/>
<rect x="209" y="173" width="1" height="5" fill="#00ffff"/>
<rect x="213" y="173" width="1" height="5" fill="#00ffff"/>
<rect x="197" y="178" width="9" height="1" fill="#00ff00"/>
<rect x="197" y="183" width="9" height="1" fill="#00ff00"/>
<rect x="197" y="178" width="1" height="6" fill="#00ff00"/>
<rect x="205" y="178" width="1" height="6" fill="#00ff00"/>
<rect x="199" y="174" width="4" height="6" fill="#00ffff"/>
<rect x="200" y="180" width="4" height="2" fill="#00ff00"/>
<rect x="222" y="164" width="1" height="70" fill="#00ffff"/>
<path d="M357.5,279.5 H494.5 L499.5,284.5 V287.5 L500.5,288.5 V289.5 L499.5,290.5 V293.5 L494.5,298.5 H356.5 A10,10 0 0 1 357.5,279.5 Z" fill="none" stroke="#00ffff"/>
<rect x="296" y="252" width="27" height="2" fill="#00ffff"/>
<rect x="296" y="252" width="1" height="1" fill="#00ffff"/>
<rect x="294" y="253" width="2" height="1" fill="#00ffff"/>
<rect x="293" y="254" width="1" height="1" fill="#00ffff"/>
<rect x="291" y="255" width="2" height="1" fill="#00ffff"/>
<rect x="290" y="256" width="1" height="1" fill="#00ffff"/>
<rect x="288" y="257" width="2" height="1" fill="#00ffff"/>
<rect x="287" y="258" width="1" height="1" fill="#00ffff"/>
<rect x="285" y="259" width="2" height="1" fill="#00ffff"/>
<rect x="283" y="260" width="2" height="1" fill="#00ffff"/>
<rect x="282" y="261" width="1" height="1" fill="#00ffff"/>
<rect x="280" y="262" width="2" height="1" fill="#00ffff"/>
<rect x="279" y="263" width="1" height="1" fill="#00ffff"/>
<rect x="277" y="264" width="2" height="1" fill="#00ffff"/>
<rect x="276" y="265" width="1" height="1" fill="#00ffff"/>
<rect x="274" y="266" width="2" height="1" fill="#00ffff"/>
<rect x="273" y="267" width="1" height="1" fill="#00ffff"/>
<rect x="271" y="268" width="2" height="1" fill="#00ffff"/>
<rect x="270" y="269" width="1" height="1" fill="#00ffff"/>
<rect x="268" y="270" width="2" height="1" fill="#00ffff"/>
<rect x="267" y="271" width="1" height="1" fill="#00ffff"/>
<rect x="265" y="272" width="2" height="1" fill="#00ffff"/>
<rect x="264" y="273" width="1" height="1" fill="#00ffff"/>
<rect x="262" y="274" width="2" height="1" fill="#00ffff"/>
<rect x="260" y="275" width="2" height="1" fill="#00ffff"/>
<rect x="259" y="276" width="1" height="1" fill="#00ffff"/>
<rect x="257" y="277" width="2" height="1" fill="#00ffff"/>
<rect x="256" y="278" width="1" height="1" fill="#00ffff"/>
<rect x="254" y="279" width="2" height="1" fill="#00ffff"/>
<rect x="253" y="280" width="1" height="1" fill="#00ffff"/>
<rect x="251" y="281" width="2" height="1" fill="#00ffff"/>
<rect x="250" y="282" width="1" height="1" fill="#00ffff"/>
<rect x="248" y="283" width="2" height="1" fill="#00ffff"/>
<rect x="247" y="284" width="1" height="1" fill="#00ffff"/>
<rect x="245" y="285" width="2" height="1" fill="#00ffff"/>
<rect x="244" y="286" width="1" height="1" fill="#00ffff"/>
<rect x="242" y="287" width="2" height="1" fill="#00ffff"/>
<rect x="241" y="288" width="1" height="1" fill="#00ffff"/>
<rect x="239" y="289" width="2" height="1" fill="#00ffff"/>
<rect x="237" y="290" width="2" height="1" fill="#00ffff"/>
<rect x="236" y="291" width="1" height="1" fill="#00ffff"/>
<rect x="234" y="292" width="2" height="1" fill="#00ffff"/>
<rect x="233" y="293" width="1" height="1" fill="#00ffff"/>
<rect x="231" y="294" width="2" height="1" fill="#00ffff"/>
<rect x="230" y="295" width="1" height="1" fill="#00ffff"/>
<rect x="228" y="296" width="2" height="1" fill="#00ffff"/>
<rect x="227" y="297" width="1" height="1" fill="#00ffff"/>
<rect x="203" y="271" width="1" height="51" fill="#00ffff"/>
<rect x="203" y="468" width="1" height="53" fill="#00ffff"/>
<rect x="203" y="275" width="73" height="1" fill="#00ffff"/>
<rect x="203" y="279" width="70" height="1" fill="#00ffff"/>
<rect x="203" y="282" width="66" height="1" fill="#00ffff"/>
<rect x="275" y="275" width="1" height="53" fill="#00ffff"/>
<rect x="272" y="279" width="1" height="49" fill="#00ffff"/>
<rect x="272" y="327" width="7" height="1" fill="#00ffff"/>
<rect x="278" y="327" width="1" height="18" fill="#00ffff"/>
<rect x="274" y="327" width="1" height="23" fill="#00ffff"/>
<rect x="268" y="282" width="1" height="226" fill="#00ffff"/>
<rect x="203" y="311" width="38" height="1" fill="#00ffff"/>
<rect x="203" y="314" width="30" height="1" fill="#00ffff"/>
<rect x="203" y="318" width="30" height="1" fill="#00ffff"/>
<rect x="232" y="311" width="1" height="169" fill="#00ffff"/>
<rect x="240" y="311" width="1" height="169" fill="#00ffff"/>
<rect x="203" y="507" width="66" height="1" fill="#00ffff"/>
<rect x="203" y="511" width="70" height="1" fill="#00ffff"/>
<rect x="203" y="515" width="73" height="1" fill="#00ffff"/>
<rect x="272" y="463" width="1" height="49" fill="#00ffff"/>
<rect x="275" y="463" width="1" height="53" fill="#00ffff"/>
<rect x="274" y="436" width="1" height="28" fill="#00ffff"/>
<rect x="278" y="446" width="1" height="18" fill="#00ffff"/>
<rect x="272" y="463" width="7" height="1" fill="#00ffff"/>
<rect x="203" y="472" width="30" height="1" fill="#00ffff"/>
<rect x="203" y="475" width="30" height="1" fill="#00ffff"/>
<rect x="203" y="479" width="38" height="1" fill="#00ffff"/>
<rect x="228" y="327" width="5" height="6" fill="#00ffff"/>
<rect x="229" y="328" width="1" height="4" fill="#000"/>
<rect x="231" y="328" width="1" height="4" fill="#000"/>
<rect x="230" y="329" width="1" height="2" fill="#000"/>
<rect x="228" y="346" width="5" height="6" fill="#00ffff"/>
<rect x="229" y="347" width="1" height="4" fill="#000"/>
<rect x="231" y="347" width="1" height="4" fill="#000"/>
<rect x="230" y="348" width="1" height="2" fill="#000"/>
<rect x="228" y="439" width="5" height="6" fill="#00ffff"/>
<rect x="229" y="440" width="1" height="4" fill="#000"/>
<rect x="231" y="440" width="1" height="4" fill="#000"/>
<rect x="230" y="441" width="1" height="2" fill="#000"/>
<rect x="228" y="458" width="5" height="6" fill="#00ffff"/>
<rect x="229" y="459" width="1" height="4" fill="#000"/>
<rect x="231" y="459" width="1" height="4" fill="#000"/>
<rect x="230" y="460" width="1" height="2" fill="#000"/>
<rect x="201" y="294" width="1" height="1" fill="#00ffff"/>
<rect x="202" y="295" width="1" height="1" fill="#00ffff"/>
<rect x="203" y="296" width="1" height="1" fill="#00ffff"/>
<rect x="204" y="297" width="1" height="1" fill="#00ffff"/>
<rect x="204" y="297" width="1" height="1" fill="#00ffff"/>
<rect x="202" y="298" width="2" height="1" fill="#00ffff"/>
<rect x="201" y="299" width="1" height="1" fill="#00ffff"/>
<rect x="201" y="491" width="1" height="1" fill="#00ffff"/>
<rect x="202" y="492" width="1" height="1" fill="#00ffff"/>
<rect x="203" y="493" width="1" height="1" fill="#00ffff"/>
<rect x="204" y="494" width="1" height="1" fill="#00ffff"/>
<rect x="204" y="494" width="1" height="1" fill="#00ffff"/>
<rect x="202" y="495" width="2" height="1" fill="#00ffff"/>
<rect x="201" y="496" width="1" height="1" fill="#00ffff"/>
<line x1="202.5" y1="297.5" x2="254.5" y2="297.5" stroke="#ff0000" stroke-width="1" stroke-dasharray="9.5 2 2 2"/>
<line x1="254.5" y1="297.5" x2="254.5" y2="493.5" stroke="#ff0000" stroke-width="1" stroke-dasharray="9.5 2 2 2"/>
<line x1="199.5" y1="493.5" x2="254.5" y2="493.5" stroke="#ff0000" stroke-width="1" stroke-dasharray="9.5 2 2 2"/>
<line x1="232.5" y1="371.5" x2="268.5" y2="371.5" stroke="#ff0000" stroke-width="1" stroke-dasharray="9.5 2 2 2"/>
<rect x="232" y="395" width="37" height="1" fill="#ff0000"/>
<line x1="232.5" y1="420.5" x2="268.5" y2="420.5" stroke="#ff0000" stroke-width="1" stroke-dasharray="9.5 2 2 2"/>
<rect x="278" y="344" width="398" height="1" fill="#00ffff"/>
<rect x="274" y="349" width="402" height="1" fill="#00ffff"/>
<rect x="268" y="355" width="408" height="1" fill="#00ffff"/>
<rect x="268" y="436" width="408" height="1" fill="#00ffff"/>
<rect x="274" y="442" width="402" height="1" fill="#00ffff"/>
<rect x="278" y="446" width="398" height="1" fill="#00ffff"/>
<rect x="675" y="344" width="1" height="104" fill="#00ffff"/>
<rect x="335" y="355" width="1" height="82" fill="#00ffff"/>
<rect x="268" y="368" width="68" height="1" fill="#00ffff"/>
<rect x="268" y="374" width="68" height="1" fill="#00ffff"/>
<rect x="268" y="392" width="68" height="1" fill="#00ffff"/>
<rect x="268" y="398" width="68" height="1" fill="#00ffff"/>
<rect x="268" y="417" width="68" height="1" fill="#00ffff"/>
<rect x="268" y="423" width="68" height="1" fill="#00ffff"/>
<rect x="269" y="367" width="66" height="1" fill="#00ff00"/>
<rect x="270" y="365" width="5" height="2" fill="#00ff00"/>
<rect x="282" y="365" width="5" height="2" fill="#00ff00"/>
<rect x="298" y="365" width="6" height="2" fill="#00ff00"/>
<rect x="325" y="365" width="9" height="2" fill="#00ff00"/>
<rect x="315" y="365" width="5" height="1" fill="#00ff00"/>
<rect x="317" y="366" width="3" height="1" fill="#00ff00"/>
<rect x="329" y="365" width="1" height="1" fill="#000"/>
<rect x="255" y="370" width="433" height="1" fill="#ffffff"/>
<rect x="255" y="371" width="433" height="1" fill="#ff0000"/>
<rect x="255" y="372" width="433" height="1" fill="#ffffff"/>
<rect x="255" y="394" width="433" height="1" fill="#ffffff"/>
<rect x="255" y="395" width="433" height="1" fill="#ff0000"/>
<rect x="255" y="397" width="433" height="1" fill="#ffffff"/>
<rect x="255" y="418" width="433" height="1" fill="#ffffff"/>
<rect x="255" y="420" width="433" height="1" fill="#ff0000"/>
<rect x="255" y="421" width="433" height="1" fill="#ffffff"/>
<rect x="276" y="369" width="5" height="1" fill="#ffffff"/>
<rect x="276" y="373" width="5" height="1" fill="#ffffff"/>
<rect x="276" y="393" width="5" height="1" fill="#ffffff"/>
<rect x="276" y="422" width="5" height="1" fill="#ffffff"/>
<rect x="292" y="369" width="5" height="1" fill="#ffffff"/>
<rect x="292" y="373" width="5" height="1" fill="#ffffff"/>
<rect x="292" y="393" width="5" height="1" fill="#ffffff"/>
<rect x="292" y="422" width="5" height="1" fill="#ffffff"/>
<rect x="308" y="369" width="5" height="1" fill="#ffffff"/>
<rect x="308" y="373" width="5" height="1" fill="#ffffff"/>
<rect x="308" y="393" width="5" height="1" fill="#ffffff"/>
<rect x="308" y="422" width="5" height="1" fill="#ffffff"/>
<rect x="324" y="369" width="5" height="1" fill="#ffffff"/>
<rect x="324" y="373" width="5" height="1" fill="#ffffff"/>
<rect x="324" y="393" width="5" height="1" fill="#ffffff"/>
<rect x="324" y="422" width="5" height="1" fill="#ffffff"/>
<rect x="262" y="371" width="1" height="1" fill="#000"/>
<rect x="266" y="371" width="1" height="1" fill="#000"/>
<rect x="279" y="371" width="1" height="1" fill="#000"/>
<rect x="283" y="371" width="1" height="1" fill="#000"/>
<rect x="296" y="371" width="1" height="1" fill="#000"/>
<rect x="300" y="371" width="1" height="1" fill="#000"/>
<rect x="313" y="371" width="1" height="1" fill="#000"/>
<rect x="317" y="371" width="1" height="1" fill="#000"/>
<rect x="330" y="371" width="1" height="1" fill="#000"/>
<rect x="334" y="371" width="1" height="1" fill="#000"/>
<rect x="347" y="371" width="1" height="1" fill="#000"/>
<rect x="351" y="371" width="1" height="1" fill="#000"/>
<rect x="364" y="371" width="1" height="1" fill="#000"/>
<rect x="368" y="371" width="1" height="1" fill="#000"/>
<rect x="381" y="371" width="1" height="1" fill="#000"/>
<rect x="385" y="371" width="1" height="1" fill="#000"/>
<rect x="398" y="371" width="1" height="1" fill="#000"/>
<rect x="402" y="371" width="1" height="1" fill="#000"/>
<rect x="415" y="371" width="1" height="1" fill="#000"/>
<rect x="419" y="371" width="1" height="1" fill="#000"/>
<rect x="432" y="371" width="1" height="1" fill="#000"/>
<rect x="436" y="371" width="1" height="1" fill="#000"/>
<rect x="449" y="371" width="1" height="1" fill="#000"/>
<rect x="453" y="371" width="1" height="1" fill="#000"/>
<rect x="466" y="371" width="1" height="1" fill="#000"/>
<rect x="470" y="371" width="1" height="1" fill="#000"/>
<rect x="483" y="371" width="1" height="1" fill="#000"/>
<rect x="487" y="371" width="1" height="1" fill="#000"/>
<rect x="500" y="371" width="1" height="1" fill="#000"/>
<rect x="504" y="371" width="1" height="1" fill="#000"/>
<rect x="517" y="371" width="1" height="1" fill="#000"/>
<rect x="521" y="371" width="1" height="1" fill="#000"/>
<rect x="534" y="371" width="1" height="1" fill="#000"/>
<rect x="538" y="371" width="1" height="1" fill="#000"/>
<rect x="551" y="371" width="1" height="1" fill="#000"/>
<rect x="555" y="371" width="1" height="1" fill="#000"/>
<rect x="568" y="371" width="1" height="1" fill="#000"/>
<rect x="572" y="371" width="1" height="1" fill="#000"/>
<rect x="585" y="371" width="1" height="1" fill="#000"/>
<rect x="589" y="371" width="1" height="1" fill="#000"/>
<rect x="602" y="371" width="1" height="1" fill="#000"/>
<rect x="606" y="371" width="1" height="1" fill="#000"/>
<rect x="619" y="371" width="1" height="1" fill="#000"/>
<rect x="623" y="371" width="1" height="1" fill="#000"/>
<rect x="636" y="371" width="1" height="1" fill="#000"/>
<rect x="640" y="371" width="1" height="1" fill="#000"/>
<rect x="653" y="371" width="1" height="1" fill="#000"/>
<rect x="657" y="371" width="1" height="1" fill="#000"/>
<rect x="670" y="371" width="1" height="1" fill="#000"/>
<rect x="674" y="371" width="1" height="1" fill="#000"/>
<rect x="262" y="420" width="1" height="1" fill="#000"/>
<rect x="266" y="420" width="1" height="1" fill="#000"/>
<rect x="279" y="420" width="1" height="1" fill="#000"/>
<rect x="283" y="420" width="1" height="1" fill="#000"/>
<rect x="296" y="420" width="1" height="1" fill="#000"/>
<rect x="300" y="420" width="1" height="1" fill="#000"/>
<rect x="313" y="420" width="1" height="1" fill="#000"/>
<rect x="317" y="420" width="1" height="1" fill="#000"/>
<rect x="330" y="420" width="1" height="1" fill="#000"/>
<rect x="334" y="420" width="1" height="1" fill="#000"/>
<rect x="347" y="420" width="1" height="1" fill="#000"/>
<rect x="351" y="420" width="1" height="1" fill="#000"/>
<rect x="364" y="420" width="1" height="1" fill="#000"/>
<rect x="368" y="420" width="1" height="1" fill="#000"/>
<rect x="381" y="420" width="1" height="1" fill="#000"/>
<rect x="385" y="420" width="1" height="1" fill="#000"/>
<rect x="398" y="420" width="1" height="1" fill="#000"/>
<rect x="402" y="420" width="1" height="1" fill="#000"/>
<rect x="415" y="420" width="1" height="1" fill="#000"/>
<rect x="419" y="420" width="1" height="1" fill="#000"/>
<rect x="432" y="420" width="1" height="1" fill="#000"/>
<rect x="436" y="420" width="1" height="1" fill="#000"/>
<rect x="449" y="420" width="1" height="1" fill="#000"/>
<rect x="453" y="420" width="1" height="1" fill="#000"/>
<rect x="466" y="420" width="1" height="1" fill="#000"/>
<rect x="470" y="420" width="1" height="1" fill="#000"/>
<rect x="483" y="420" width="1" height="1" fill="#000"/>
<rect x="487" y="420" width="1" height="1" fill="#000"/>
<rect x="500" y="420" width="1" height="1" fill="#000"/>
<rect x="504" y="420" width="1" height="1" fill="#000"/>
<rect x="517" y="420" width="1" height="1" fill="#000"/>
<rect x="521" y="420" width="1" height="1" fill="#000"/>
<rect x="534" y="420" width="1" height="1" fill="#000"/>
<rect x="538" y="420" width="1" height="1" fill="#000"/>
<rect x="551" y="420" width="1" height="1" fill="#000"/>
<rect x="555" y="420" width="1" height="1" fill="#000"/>
<rect x="568" y="420" width="1" height="1" fill="#000"/>
<rect x="572" y="420" width="1" height="1" fill="#000"/>
<rect x="585" y="420" width="1" height="1" fill="#000"/>
<rect x="589" y="420" width="1" height="1" fill="#000"/>
<rect x="602" y="420" width="1" height="1" fill="#000"/>
<rect x="606" y="420" width="1" height="1" fill="#000"/>
<rect x="619" y="420" width="1" height="1" fill="#000"/>
<rect x="623" y="420" width="1" height="1" fill="#000"/>
<rect x="636" y="420" width="1" height="1" fill="#000"/>
<rect x="640" y="420" width="1" height="1" fill="#000"/>
<rect x="653" y="420" width="1" height="1" fill="#000"/>
<rect x="657" y="420" width="1" height="1" fill="#000"/>
<rect x="670" y="420" width="1" height="1" fill="#000"/>
<rect x="674" y="420" width="1" height="1" fill="#000"/>
<rect x="278" y="395" width="1" height="1" fill="#000"/>
<rect x="345" y="395" width="1" height="1" fill="#000"/>
<rect x="440" y="395" width="1" height="1" fill="#000"/>
<rect x="520" y="395" width="1" height="1" fill="#000"/>
<rect x="600" y="395" width="1" height="1" fill="#000"/>
<rect x="370" y="337" width="1" height="117" fill="#ffffff"/>
<rect x="372" y="337" width="1" height="117" fill="#ffffff"/>
<rect x="407" y="337" width="1" height="117" fill="#ffffff"/>
<rect x="409" y="337" width="1" height="117" fill="#ffffff"/>
<rect x="445" y="337" width="1" height="117" fill="#ffffff"/>
<rect x="447" y="337" width="1" height="117" fill="#ffffff"/>
<rect x="483" y="337" width="1" height="117" fill="#ffffff"/>
<rect x="485" y="337" width="1" height="117" fill="#ffffff"/>
<rect x="517" y="337" width="1" height="117" fill="#ffffff"/>
<rect x="519" y="337" width="1" height="117" fill="#ffffff"/>
<rect x="558" y="337" width="1" height="117" fill="#ffffff"/>
<rect x="560" y="337" width="1" height="117" fill="#ffffff"/>
<rect x="596" y="337" width="1" height="117" fill="#ffffff"/>
<rect x="598" y="337" width="1" height="117" fill="#ffffff"/>
<rect x="635" y="337" width="1" height="117" fill="#ffffff"/>
<rect x="637" y="337" width="1" height="117" fill="#ffffff"/>
<rect x="597" y="454" width="40" height="2" fill="#ffffff"/>
<rect x="596" y="453" width="1" height="2" fill="#ffffff"/>
<rect x="598" y="453" width="1" height="2" fill="#ffffff"/>
<rect x="635" y="453" width="1" height="2" fill="#ffffff"/>
<rect x="637" y="453" width="1" height="2" fill="#ffffff"/>
<rect x="293" y="340" width="1" height="4" fill="#00ffff"/>
<rect x="298" y="340" width="1" height="4" fill="#00ffff"/>
<rect x="293" y="340" width="3" height="1" fill="#00ffff"/>
<rect x="297" y="340" width="2" height="1" fill="#00ffff"/>
<rect x="294" y="342" width="2" height="1" fill="#00ffff"/>
<rect x="297" y="342" width="1" height="1" fill="#00ffff"/>
<rect x="293" y="447" width="1" height="4" fill="#00ffff"/>
<rect x="298" y="447" width="1" height="4" fill="#00ffff"/>
<rect x="293" y="450" width="6" height="1" fill="#00ffff"/>
<rect x="294" y="448" width="1" height="1" fill="#00ffff"/>
<rect x="296" y="448" width="2" height="1" fill="#00ffff"/>
<rect x="312" y="340" width="1" height="4" fill="#00ffff"/>
<rect x="317" y="340" width="1" height="4" fill="#00ffff"/>
<rect x="312" y="340" width="3" height="1" fill="#00ffff"/>
<rect x="316" y="340" width="2" height="1" fill="#00ffff"/>
<rect x="313" y="342" width="2" height="1" fill="#00ffff"/>
<rect x="316" y="342" width="1" height="1" fill="#00ffff"/>
<rect x="312" y="447" width="1" height="4" fill="#00ffff"/>
<rect x="317" y="447" width="1" height="4" fill="#00ffff"/>
<rect x="312" y="450" width="6" height="1" fill="#00ffff"/>
<rect x="313" y="448" width="1" height="1" fill="#00ffff"/>
<rect x="315" y="448" width="2" height="1" fill="#00ffff"/>
<rect x="331" y="340" width="1" height="4" fill="#00ffff"/>
<rect x="336" y="340" width="1" height="4" fill="#00ffff"/>
<rect x="331" y="340" width="3" height="1" fill="#00ffff"/>
<rect x="335" y="340" width="2" height="1" fill="#00ffff"/>
<rect x="332" y="342" width="2" height="1" fill="#00ffff"/>
<rect x="335" y="342" width="1" height="1" fill="#00ffff"/>
<rect x="331" y="447" width="1" height="4" fill="#00ffff"/>
<rect x="336" y="447" width="1" height="4" fill="#00ffff"/>
<rect x="331" y="450" width="6" height="1" fill="#00ffff"/>
<rect x="332" y="448" width="1" height="1" fill="#00ffff"/>
<rect x="334" y="448" width="2" height="1" fill="#00ffff"/>
<rect x="349" y="340" width="1" height="4" fill="#00ffff"/>
<rect x="354" y="340" width="1" height="4" fill="#00ffff"/>
<rect x="349" y="340" width="3" height="1" fill="#00ffff"/>
<rect x="353" y="340" width="2" height="1" fill="#00ffff"/>
<rect x="350" y="342" width="2" height="1" fill="#00ffff"/>
<rect x="353" y="342" width="1" height="1" fill="#00ffff"/>
<rect x="349" y="447" width="1" height="4" fill="#00ffff"/>
<rect x="354" y="447" width="1" height="4" fill="#00ffff"/>
<rect x="349" y="450" width="6" height="1" fill="#00ffff"/>
<rect x="350" y="448" width="1" height="1" fill="#00ffff"/>
<rect x="352" y="448" width="2" height="1" fill="#00ffff"/>
<rect x="368" y="340" width="1" height="4" fill="#00ffff"/>
<rect x="373" y="340" width="1" height="4" fill="#00ffff"/>
<rect x="368" y="340" width="3" height="1" fill="#00ffff"/>
<rect x="372" y="340" width="2" height="1" fill="#00ffff"/>
<rect x="369" y="342" width="2" height="1" fill="#00ffff"/>
<rect x="372" y="342" width="1" height="1" fill="#00ffff"/>
<rect x="368" y="447" width="1" height="4" fill="#00ffff"/>
<rect x="373" y="447" width="1" height="4" fill="#00ffff"/>
<rect x="368" y="450" width="6" height="1" fill="#00ffff"/>
<rect x="369" y="448" width="1" height="1" fill="#00ffff"/>
<rect x="371" y="448" width="2" height="1" fill="#00ffff"/>
<rect x="387" y="340" width="1" height="4" fill="#00ffff"/>
<rect x="392" y="340" width="1" height="4" fill="#00ffff"/>
<rect x="387" y="340" width="3" height="1" fill="#00ffff"/>
<rect x="391" y="340" width="2" height="1" fill="#00ffff"/>
<rect x="388" y="342" width="2" height="1" fill="#00ffff"/>
<rect x="391" y="342" width="1" height="1" fill="#00ffff"/>
<rect x="387" y="447" width="1" height="4" fill="#00ffff"/>
<rect x="392" y="447" width="1" height="4" fill="#00ffff"/>
<rect x="387" y="450" width="6" height="1" fill="#00ffff"/>
<rect x="388" y="448" width="1" height="1" fill="#00ffff"/>
<rect x="390" y="448" width="2" height="1" fill="#00ffff"/>
<rect x="406" y="340" width="1" height="4" fill="#00ffff"/>
<rect x="411" y="340" width="1" height="4" fill="#00ffff"/>
<rect x="406" y="340" width="3" height="1" fill="#00ffff"/>
<rect x="410" y="340" width="2" height="1" fill="#00ffff"/>
<rect x="407" y="342" width="2" height="1" fill="#00ffff"/>
<rect x="410" y="342" width="1" height="1" fill="#00ffff"/>
<rect x="406" y="447" width="1" height="4" fill="#00ffff"/>
<rect x="411" y="447" width="1" height="4" fill="#00ffff"/>
<rect x="406" y="450" width="6" height="1" fill="#00ffff"/>
<rect x="407" y="448" width="1" height="1" fill="#00ffff"/>
<rect x="409" y="448" width="2" height="1" fill="#00ffff"/>
<rect x="425" y="340" width="1" height="4" fill="#00ffff"/>
<rect x="430" y="340" width="1" height="4" fill="#00ffff"/>
<rect x="425" y="340" width="3" height="1" fill="#00ffff"/>
<rect x="429" y="340" width="2" height="1" fill="#00ffff"/>
<rect x="426" y="342" width="2" height="1" fill="#00ffff"/>
<rect x="429" y="342" width="1" height="1" fill="#00ffff"/>
<rect x="425" y="447" width="1" height="4" fill="#00ffff"/>
<rect x="430" y="447" width="1" height="4" fill="#00ffff"/>
<rect x="425" y="450" width="6" height="1" fill="#00ffff"/>
<rect x="426" y="448" width="1" height="1" fill="#00ffff"/>
<rect x="428" y="448" width="2" height="1" fill="#00ffff"/>
<rect x="443" y="340" width="1" height="4" fill="#00ffff"/>
<rect x="448" y="340" width="1" height="4" fill="#00ffff"/>
<rect x="443" y="340" width="3" height="1" fill="#00ffff"/>
<rect x="447" y="340" width="2" height="1" fill="#00ffff"/>
<rect x="444" y="342" width="2" height="1" fill="#00ffff"/>
<rect x="447" y="342" width="1" height="1" fill="#00ffff"/>
<rect x="443" y="447" width="1" height="4" fill="#00ffff"/>
<rect x="448" y="447" width="1" height="4" fill="#00ffff"/>
<rect x="443" y="450" width="6" height="1" fill="#00ffff"/>
<rect x="444" y="448" width="1" height="1" fill="#00ffff"/>
<rect x="446" y="448" width="2" height="1" fill="#00ffff"/>
<rect x="462" y="340" width="1" height="4" fill="#00ffff"/>
<rect x="467" y="340" width="1" height="4" fill="#00ffff"/>
<rect x="462" y="340" width="3" height="1" fill="#00ffff"/>
<rect x="466" y="340" width="2" height="1" fill="#00ffff"/>
<rect x="463" y="342" width="2" height="1" fill="#00ffff"/>
<rect x="466" y="342" width="1" height="1" fill="#00ffff"/>
<rect x="462" y="447" width="1" height="4" fill="#00ffff"/>
<rect x="467" y="447" width="1" height="4" fill="#00ffff"/>
<rect x="462" y="450" width="6" height="1" fill="#00ffff"/>
<rect x="463" y="448" width="1" height="1" fill="#00ffff"/>
<rect x="465" y="448" width="2" height="1" fill="#00ffff"/>
<rect x="481" y="340" width="1" height="4" fill="#00ffff"/>
<rect x="486" y="340" width="1" height="4" fill="#00ffff"/>
<rect x="481" y="340" width="3" height="1" fill="#00ffff"/>
<rect x="485" y="340" width="2" height="1" fill="#00ffff"/>
<rect x="482" y="342" width="2" height="1" fill="#00ffff"/>
<rect x="485" y="342" width="1" height="1" fill="#00ffff"/>
<rect x="481" y="447" width="1" height="4" fill="#00ffff"/>
<rect x="486" y="447" width="1" height="4" fill="#00ffff"/>
<rect x="481" y="450" width="6" height="1" fill="#00ffff"/>
<rect x="482" y="448" width="1" height="1" fill="#00ffff"/>
<rect x="484" y="448" width="2" height="1" fill="#00ffff"/>
<rect x="500" y="340" width="1" height="4" fill="#00ffff"/>
<rect x="505" y="340" width="1" height="4" fill="#00ffff"/>
<rect x="500" y="340" width="3" height="1" fill="#00ffff"/>
<rect x="504" y="340" width="2" height="1" fill="#00ffff"/>
<rect x="501" y="342" width="2" height="1" fill="#00ffff"/>
<rect x="504" y="342" width="1" height="1" fill="#00ffff"/>
<rect x="500" y="447" width="1" height="4" fill="#00ffff"/>
<rect x="505" y="447" width="1" height="4" fill="#00ffff"/>
<rect x="500" y="450" width="6" height="1" fill="#00ffff"/>
<rect x="501" y="448" width="1" height="1" fill="#00ffff"/>
<rect x="503" y="448" width="2" height="1" fill="#00ffff"/>
<rect x="519" y="340" width="1" height="4" fill="#00ffff"/>
<rect x="524" y="340" width="1" height="4" fill="#00ffff"/>
<rect x="519" y="340" width="3" height="1" fill="#00ffff"/>
<rect x="523" y="340" width="2" height="1" fill="#00ffff"/>
<rect x="520" y="342" width="2" height="1" fill="#00ffff"/>
<rect x="523" y="342" width="1" height="1" fill="#00ffff"/>
<rect x="519" y="447" width="1" height="4" fill="#00ffff"/>
<rect x="524" y="447" width="1" height="4" fill="#00ffff"/>
<rect x="519" y="450" width="6" height="1" fill="#00ffff"/>
<rect x="520" y="448" width="1" height="1" fill="#00ffff"/>
<rect x="522" y="448" width="2" height="1" fill="#00ffff"/>
<rect x="537" y="340" width="1" height="4" fill="#00ffff"/>
<rect x="542" y="340" width="1" height="4" fill="#00ffff"/>
<rect x="537" y="340" width="3" height="1" fill="#00ffff"/>
<rect x="541" y="340" width="2" height="1" fill="#00ffff"/>
<rect x="538" y="342" width="2" height="1" fill="#00ffff"/>
<rect x="541" y="342" width="1" height="1" fill="#00ffff"/>
<rect x="537" y="447" width="1" height="4" fill="#00ffff"/>
<rect x="542" y="447" width="1" height="4" fill="#00ffff"/>
<rect x="537" y="450" width="6" height="1" fill="#00ffff"/>
<rect x="538" y="448" width="1" height="1" fill="#00ffff"/>
<rect x="540" y="448" width="2" height="1" fill="#00ffff"/>
<rect x="556" y="340" width="1" height="4" fill="#00ffff"/>
<rect x="561" y="340" width="1" height="4" fill="#00ffff"/>
<rect x="556" y="340" width="3" height="1" fill="#00ffff"/>
<rect x="560" y="340" width="2" height="1" fill="#00ffff"/>
<rect x="557" y="342" width="2" height="1" fill="#00ffff"/>
<rect x="560" y="342" width="1" height="1" fill="#00ffff"/>
<rect x="556" y="447" width="1" height="4" fill="#00ffff"/>
<rect x="561" y="447" width="1" height="4" fill="#00ffff"/>
<rect x="556" y="450" width="6" height="1" fill="#00ffff"/>
<rect x="557" y="448" width="1" height="1" fill="#00ffff"/>
<rect x="559" y="448" width="2" height="1" fill="#00ffff"/>
<rect x="575" y="340" width="1" height="4" fill="#00ffff"/>
<rect x="580" y="340" width="1" height="4" fill="#00ffff"/>
<rect x="575" y="340" width="3" height="1" fill="#00ffff"/>
<rect x="579" y="340" width="2" height="1" fill="#00ffff"/>
<rect x="576" y="342" width="2" height="1" fill="#00ffff"/>
<rect x="579" y="342" width="1" height="1" fill="#00ffff"/>
<rect x="575" y="447" width="1" height="4" fill="#00ffff"/>
<rect x="580" y="447" width="1" height="4" fill="#00ffff"/>
<rect x="575" y="450" width="6" height="1" fill="#00ffff"/>
<rect x="576" y="448" width="1" height="1" fill="#00ffff"/>
<rect x="578" y="448" width="2" height="1" fill="#00ffff"/>
<rect x="594" y="340" width="1" height="4" fill="#00ffff"/>
<rect x="599" y="340" width="1" height="4" fill="#00ffff"/>
<rect x="594" y="340" width="3" height="1" fill="#00ffff"/>
<rect x="598" y="340" width="2" height="1" fill="#00ffff"/>
<rect x="595" y="342" width="2" height="1" fill="#00ffff"/>
<rect x="598" y="342" width="1" height="1" fill="#00ffff"/>
<rect x="594" y="447" width="1" height="4" fill="#00ffff"/>
<rect x="599" y="447" width="1" height="4" fill="#00ffff"/>
<rect x="594" y="450" width="6" height="1" fill="#00ffff"/>
<rect x="595" y="448" width="1" height="1" fill="#00ffff"/>
<rect x="597" y="448" width="2" height="1" fill="#00ffff"/>
<rect x="613" y="340" width="1" height="4" fill="#00ffff"/>
<rect x="618" y="340" width="1" height="4" fill="#00ffff"/>
<rect x="613" y="340" width="3" height="1" fill="#00ffff"/>
<rect x="617" y="340" width="2" height="1" fill="#00ffff"/>
<rect x="614" y="342" width="2" height="1" fill="#00ffff"/>
<rect x="617" y="342" width="1" height="1" fill="#00ffff"/>
<rect x="613" y="447" width="1" height="4" fill="#00ffff"/>
<rect x="618" y="447" width="1" height="4" fill="#00ffff"/>
<rect x="613" y="450" width="6" height="1" fill="#00ffff"/>
<rect x="614" y="448" width="1" height="1" fill="#00ffff"/>
<rect x="616" y="448" width="2" height="1" fill="#00ffff"/>
<rect x="631" y="340" width="1" height="4" fill="#00ffff"/>
<rect x="636" y="340" width="1" height="4" fill="#00ffff"/>
<rect x="631" y="340" width="3" height="1" fill="#00ffff"/>
<rect x="635" y="340" width="2" height="1" fill="#00ffff"/>
<rect x="632" y="342" width="2" height="1" fill="#00ffff"/>
<rect x="635" y="342" width="1" height="1" fill="#00ffff"/>
<rect x="631" y="447" width="1" height="4" fill="#00ffff"/>
<rect x="636" y="447" width="1" height="4" fill="#00ffff"/>
<rect x="631" y="450" width="6" height="1" fill="#00ffff"/>
<rect x="632" y="448" width="1" height="1" fill="#00ffff"/>
<rect x="634" y="448" width="2" height="1" fill="#00ffff"/>
<rect x="650" y="340" width="1" height="4" fill="#00ffff"/>
<rect x="655" y="340" width="1" height="4" fill="#00ffff"/>
<rect x="650" y="340" width="3" height="1" fill="#00ffff"/>
<rect x="654" y="340" width="2" height="1" fill="#00ffff"/>
<rect x="651" y="342" width="2" height="1" fill="#00ffff"/>
<rect x="654" y="342" width="1" height="1" fill="#00ffff"/>
<rect x="650" y="447" width="1" height="4" fill="#00ffff"/>
<rect x="655" y="447" width="1" height="4" fill="#00ffff"/>
<rect x="650" y="450" width="6" height="1" fill="#00ffff"/>
<rect x="651" y="448" width="1" height="1" fill="#00ffff"/>
<rect x="653" y="448" width="2" height="1" fill="#00ffff"/>
<rect x="669" y="340" width="1" height="4" fill="#00ffff"/>
<rect x="674" y="340" width="1" height="4" fill="#00ffff"/>
<rect x="669" y="340" width="3" height="1" fill="#00ffff"/>
<rect x="673" y="340" width="2" height="1" fill="#00ffff"/>
<rect x="670" y="342" width="2" height="1" fill="#00ffff"/>
<rect x="673" y="342" width="1" height="1" fill="#00ffff"/>
<rect x="669" y="447" width="1" height="4" fill="#00ffff"/>
<rect x="674" y="447" width="1" height="4" fill="#00ffff"/>
<rect x="669" y="450" width="6" height="1" fill="#00ffff"/>
<rect x="670" y="448" width="1" height="1" fill="#00ffff"/>
<rect x="672" y="448" width="2" height="1" fill="#00ffff"/>
<rect x="278" y="340" width="4" height="1" fill="#00ffff"/>
<rect x="279" y="342" width="2" height="1" fill="#00ffff"/>
<rect x="283" y="340" width="1" height="1" fill="#00ffff"/>
<rect x="283" y="340" width="1" height="4" fill="#00ffff"/>
<rect x="278" y="450" width="7" height="1" fill="#00ffff"/>
<rect x="284" y="447" width="1" height="4" fill="#00ffff"/>
<rect x="279" y="448" width="2" height="1" fill="#00ffff"/>
<rect x="282" y="448" width="2" height="1" fill="#00ffff"/>
<rect x="659" y="355" width="1" height="82" fill="#00ff00"/>
<rect x="670" y="355" width="1" height="82" fill="#00ff00"/>
<rect x="659" y="355" width="12" height="1" fill="#00ff00"/>
<rect x="659" y="436" width="12" height="1" fill="#00ff00"/>
<rect x="664" y="355" width="1" height="82" fill="#00ffff"/>
<rect x="658" y="372" width="2" height="7" fill="#00ff00"/>
<rect x="658" y="412" width="2" height="7" fill="#00ff00"/>
<rect x="669" y="392" width="3" height="7" fill="#00ff00"/>
<rect x="684" y="344" width="1" height="84" fill="#00ffff"/>
<rect x="688" y="344" width="1" height="84" fill="#00ffff"/>
<rect x="684" y="344" width="5" height="1" fill="#00ffff"/>
<rect x="685" y="428" width="1" height="14" fill="#00ffff"/>
<rect x="687" y="428" width="1" height="14" fill="#00ffff"/>
<rect x="685" y="440" width="3" height="2" fill="#00ffff"/>
<rect x="686" y="343" width="1" height="102" fill="#ff0000"/>
<rect x="685" y="442" width="3" height="3" fill="#ff0000"/>
<rect x="676" y="367" width="9" height="1" fill="#00ffff"/>
<rect x="676" y="375" width="9" height="1" fill="#00ffff"/>
<rect x="678" y="368" width="2" height="1" fill="#ff0000"/>
<rect x="681" y="368" width="2" height="1" fill="#ff0000"/>
<rect x="678" y="374" width="2" height="1" fill="#ff0000"/>
<rect x="681" y="374" width="2" height="1" fill="#ff0000"/>
<rect x="676" y="391" width="9" height="1" fill="#00ffff"/>
<rect x="676" y="399" width="9" height="1" fill="#00ffff"/>
<rect x="678" y="392" width="2" height="1" fill="#ff0000"/>
<rect x="681" y="392" width="2" height="1" fill="#ff0000"/>
<rect x="678" y="398" width="2" height="1" fill="#ff0000"/>
<rect x="681" y="398" width="2" height="1" fill="#ff0000"/>
<rect x="676" y="415" width="9" height="1" fill="#00ffff"/>
<rect x="676" y="423" width="9" height="1" fill="#00ffff"/>
<rect x="678" y="416" width="2" height="1" fill="#ff0000"/>
<rect x="681" y="416" width="2" height="1" fill="#ff0000"/>
<rect x="678" y="422" width="2" height="1" fill="#ff0000"/>
<rect x="681" y="422" width="2" height="1" fill="#ff0000"/>
<rect x="676" y="346" width="1" height="6" fill="#00ffff"/>
<rect x="679" y="346" width="1" height="6" fill="#00ffff"/>
<rect x="676" y="348" width="4" height="1" fill="#00ffff"/>
<rect x="676" y="349" width="4" height="1" fill="#00ffff"/>
<rect x="676" y="439" width="1" height="6" fill="#00ffff"/>
<rect x="679" y="439" width="1" height="6" fill="#00ffff"/>
<rect x="676" y="441" width="4" height="1" fill="#00ffff"/>
<rect x="676" y="442" width="4" height="1" fill="#00ffff"/>
<rect x="670" y="442" width="7" height="1" fill="#00ffff"/>
<rect x="670" y="447" width="6" height="1" fill="#00ffff"/>
<rect x="670" y="450" width="6" height="1" fill="#00ffff"/>
<rect x="670" y="447" width="1" height="4" fill="#00ffff"/>
<rect x="675" y="447" width="1" height="4" fill="#00ffff"/>
<rect x="677" y="334" width="20" height="2" fill="#00ffff"/>
<rect x="686" y="336" width="2" height="7" fill="#00ffff"/>
<rect x="685" y="337" width="1" height="1" fill="#00ffff"/>
<rect x="691" y="328" width="13" height="2" fill="#00ffff"/>
<rect x="690" y="330" width="11" height="1" fill="#00ffff"/>
<rect x="700" y="331" width="1" height="1" fill="#00ffff"/>
<rect x="701" y="332" width="1" height="2" fill="#00ffff"/>
<rect x="702" y="334" width="1" height="2" fill="#00ffff"/>
<rect x="703" y="336" width="1" height="2" fill="#00ffff"/>
<rect x="704" y="338" width="1" height="2" fill="#00ffff"/>
<rect x="705" y="340" width="1" height="2" fill="#00ffff"/>
<rect x="706" y="342" width="1" height="2" fill="#00ffff"/>
<rect x="707" y="344" width="1" height="2" fill="#00ffff"/>
<rect x="708" y="346" width="1" height="2" fill="#00ffff"/>
<rect x="709" y="348" width="1" height="2" fill="#00ffff"/>
<rect x="710" y="350" width="1" height="2" fill="#00ffff"/>
<rect x="711" y="352" width="1" height="2" fill="#00ffff"/>
<rect x="712" y="354" width="1" height="2" fill="#00ffff"/>
<rect x="713" y="356" width="1" height="1" fill="#00ffff"/>
<rect x="689" y="352" width="51" height="1" fill="#ffffff"/>
<rect x="689" y="439" width="51" height="1" fill="#ffffff"/>
<rect x="689" y="352" width="1" height="88" fill="#ffffff"/>
<rect x="739" y="352" width="1" height="88" fill="#ffffff"/>
<rect x="696" y="352" width="1" height="88" fill="#ffffff"/>
<rect x="725" y="352" width="1" height="88" fill="#ffffff"/>
<rect x="697" y="355" width="25" height="1" fill="#ffffff"/>
<rect x="697" y="362" width="25" height="1" fill="#ffffff"/>
<rect x="722" y="356" width="1" height="6" fill="#ffffff"/>
<rect x="696" y="355" width="1" height="8" fill="#ffffff"/>
<rect x="690" y="354" width="6" height="10" fill="#ffffff"/>
<rect x="690" y="356" width="2" height="1" fill="#000"/>
<rect x="690" y="361" width="2" height="1" fill="#000"/>
<rect x="694" y="356" width="2" height="1" fill="#000"/>
<rect x="694" y="361" width="2" height="1" fill="#000"/>
<rect x="692" y="354" width="1" height="10" fill="#ff0000"/>
<rect x="691" y="359" width="48" height="1" fill="#ff0000"/>
<rect x="697" y="380" width="25" height="1" fill="#ffffff"/>
<rect x="697" y="386" width="25" height="1" fill="#ffffff"/>
<rect x="722" y="381" width="1" height="5" fill="#ffffff"/>
<rect x="696" y="380" width="1" height="7" fill="#ffffff"/>
<rect x="690" y="379" width="6" height="9" fill="#ffffff"/>
<rect x="690" y="381" width="2" height="1" fill="#000"/>
<rect x="690" y="385" width="2" height="1" fill="#000"/>
<rect x="694" y="381" width="2" height="1" fill="#000"/>
<rect x="694" y="385" width="2" height="1" fill="#000"/>
<rect x="692" y="379" width="1" height="9" fill="#ff0000"/>
<rect x="691" y="383" width="48" height="1" fill="#ff0000"/>
<rect x="697" y="404" width="25" height="1" fill="#ffffff"/>
<rect x="697" y="411" width="25" height="1" fill="#ffffff"/>
<rect x="722" y="405" width="1" height="6" fill="#ffffff"/>
<rect x="696" y="404" width="1" height="8" fill="#ffffff"/>
<rect x="690" y="403" width="6" height="10" fill="#ffffff"/>
<rect x="690" y="405" width="2" height="1" fill="#000"/>
<rect x="690" y="410" width="2" height="1" fill="#000"/>
<rect x="694" y="405" width="2" height="1" fill="#000"/>
<rect x="694" y="410" width="2" height="1" fill="#000"/>
<rect x="692" y="403" width="1" height="10" fill="#ff0000"/>
<rect x="691" y="408" width="48" height="1" fill="#ff0000"/>
<rect x="697" y="429" width="25" height="1" fill="#ffffff"/>
<rect x="697" y="436" width="25" height="1" fill="#ffffff"/>
<rect x="722" y="430" width="1" height="6" fill="#ffffff"/>
<rect x="696" y="429" width="1" height="8" fill="#ffffff"/>
<rect x="690" y="428" width="6" height="10" fill="#ffffff"/>
<rect x="690" y="430" width="2" height="1" fill="#000"/>
<rect x="690" y="435" width="2" height="1" fill="#000"/>
<rect x="694" y="430" width="2" height="1" fill="#000"/>
<rect x="694" y="435" width="2" height="1" fill="#000"/>
<rect x="692" y="428" width="1" height="10" fill="#ff0000"/>
<rect x="691" y="432" width="48" height="1" fill="#ff0000"/>
<rect x="725" y="352" width="15" height="14" fill="#ffffff"/>
<rect x="727" y="354" width="2" height="2" fill="#000"/>
<rect x="736" y="354" width="2" height="2" fill="#000"/>
<rect x="727" y="362" width="2" height="2" fill="#000"/>
<rect x="736" y="362" width="2" height="2" fill="#000"/>
<rect x="730" y="354" width="2" height="1" fill="#ff0000"/>
<rect x="735" y="354" width="2" height="1" fill="#ff0000"/>
<rect x="725" y="378" width="15" height="12" fill="#ffffff"/>
<rect x="727" y="380" width="2" height="2" fill="#000"/>
<rect x="736" y="380" width="2" height="2" fill="#000"/>
<rect x="727" y="386" width="2" height="2" fill="#000"/>
<rect x="736" y="386" width="2" height="2" fill="#000"/>
<rect x="730" y="380" width="2" height="1" fill="#ff0000"/>
<rect x="735" y="380" width="2" height="1" fill="#ff0000"/>
<rect x="725" y="402" width="15" height="11" fill="#ffffff"/>
<rect x="727" y="404" width="2" height="2" fill="#000"/>
<rect x="736" y="404" width="2" height="2" fill="#000"/>
<rect x="727" y="409" width="2" height="2" fill="#000"/>
<rect x="736" y="409" width="2" height="2" fill="#000"/>
<rect x="730" y="404" width="2" height="1" fill="#ff0000"/>
<rect x="735" y="404" width="2" height="1" fill="#ff0000"/>
<rect x="725" y="428" width="15" height="12" fill="#ffffff"/>
<rect x="727" y="430" width="2" height="2" fill="#000"/>
<rect x="736" y="430" width="2" height="2" fill="#000"/>
<rect x="727" y="436" width="2" height="2" fill="#000"/>
<rect x="736" y="436" width="2" height="2" fill="#000"/>
<rect x="730" y="430" width="2" height="1" fill="#ff0000"/>
<rect x="735" y="430" width="2" height="1" fill="#ff0000"/>
<rect x="731" y="366" width="5" height="12" fill="#ffffff"/>
<rect x="732" y="368" width="3" height="2" fill="#00ffff"/>
<rect x="731" y="390" width="5" height="12" fill="#ffffff"/>
<rect x="732" y="392" width="3" height="2" fill="#00ffff"/>
<rect x="731" y="413" width="5" height="15" fill="#ffffff"/>
<rect x="732" y="415" width="3" height="2" fill="#00ffff"/>
<rect x="724" y="359" width="17" height="1" fill="#ff0000"/>
<rect x="724" y="383" width="17" height="1" fill="#ff0000"/>
<rect x="724" y="408" width="17" height="1" fill="#ff0000"/>
<rect x="724" y="432" width="17" height="1" fill="#ff0000"/>
<rect x="670" y="395" width="76" height="1" fill="#ff0000"/>
<rect x="731" y="430" width="5" height="6" fill="#ff0000"/>
<rect x="738" y="427" width="1" height="12" fill="#ff0000"/>
<rect x="733" y="348" width="1" height="97" fill="#ff0000"/>
<rect x="710" y="374" width="14" height="1" fill="#ff0000"/>
<rect x="710" y="417" width="16" height="1" fill="#ff0000"/>
<line x1="699.5" y1="349.5" x2="718.5" y2="349.5" stroke="#00ffff" stroke-width="1" stroke-dasharray="4 2"/>
<line x1="699.5" y1="349.5" x2="699.5" y2="484.5" stroke="#00ffff" stroke-width="1" stroke-dasharray="5.6 1.4"/>
<line x1="718.5" y1="349.5" x2="718.5" y2="484.5" stroke="#00ffff" stroke-width="1" stroke-dasharray="5.6 1.4"/>
<rect x="696" y="484" width="26" height="1" fill="#00ffff"/>
<rect x="708" y="484" width="2" height="3" fill="#00ffff"/>
<rect x="715" y="360" width="1" height="21" fill="#00ffff"/>
<rect x="722" y="360" width="1" height="21" fill="#00ffff"/>
<rect x="715" y="362" width="8" height="1" fill="#00ffff"/>
<rect x="714" y="400" width="1" height="36" fill="#00ffff"/>
<rect x="722" y="406" width="1" height="23" fill="#00ffff"/>
<rect x="714" y="406" width="9" height="1" fill="#00ffff"/>
<rect x="706" y="357" width="1" height="35" fill="#00ff00"/>
<rect x="706" y="357" width="8" height="1" fill="#00ff00"/>
<rect x="709" y="374" width="1" height="44" fill="#00ff00"/>
<rect x="709" y="374" width="4" height="1" fill="#00ff00"/>
<rect x="706" y="391" width="8" height="1" fill="#00ff00"/>
<rect x="705" y="372" width="2" height="7" fill="#00ff00"/>
<rect x="708" y="393" width="3" height="7" fill="#00ff00"/>
<rect x="725" y="333" width="30" height="1" fill="#ffffff"/>
<rect x="725" y="348" width="30" height="1" fill="#ffffff"/>
<rect x="725" y="333" width="1" height="16" fill="#ffffff"/>
<rect x="754" y="333" width="1" height="16" fill="#ffffff"/>
<rect x="727" y="335" width="25" height="1" fill="#ffffff"/>
<rect x="727" y="346" width="25" height="1" fill="#ffffff"/>
<rect x="727" y="335" width="1" height="12" fill="#ffffff"/>
<rect x="751" y="335" width="1" height="12" fill="#ffffff"/>
<rect x="728" y="335" width="23" height="1" fill="#ffff00"/>
<rect x="728" y="346" width="23" height="1" fill="#ffff00"/>
<rect x="724" y="340" width="31" height="1" fill="#ff0000"/>
<rect x="728" y="336" width="1" height="10" fill="#ff0000"/>
<rect x="733" y="336" width="1" height="10" fill="#ff0000"/>
<rect x="734" y="336" width="1" height="10" fill="#ff0000"/>
<rect x="738" y="336" width="1" height="10" fill="#ff0000"/>
<rect x="741" y="336" width="1" height="10" fill="#ff0000"/>
<rect x="744" y="336" width="1" height="10" fill="#ff0000"/>
<rect x="748" y="336" width="1" height="10" fill="#ff0000"/>
<rect x="753" y="336" width="1" height="10" fill="#ff0000"/>
<rect x="731" y="339" width="7" height="1" fill="#ffffff"/>
<rect x="731" y="342" width="7" height="1" fill="#ffffff"/>
<rect x="731" y="339" width="1" height="4" fill="#ffffff"/>
<rect x="737" y="339" width="1" height="4" fill="#ffffff"/>
<rect x="732" y="340" width="5" height="2" fill="#ffffff"/>
<rect x="745" y="339" width="4" height="1" fill="#ffffff"/>
<rect x="745" y="342" width="4" height="1" fill="#ffffff"/>
<rect x="745" y="339" width="1" height="4" fill="#ffffff"/>
<rect x="748" y="339" width="1" height="4" fill="#ffffff"/>
<rect x="732" y="348" width="4" height="5" fill="#ffffff"/>
<rect x="741" y="349" width="14" height="20" fill="#ffffff"/>
<rect x="742" y="349" width="4" height="4" fill="#000"/>
<rect x="749" y="349" width="5" height="4" fill="#000"/>
<rect x="742" y="354" width="12" height="1" fill="#000"/>
<rect x="741" y="357" width="14" height="1" fill="#ff0000"/>
<rect x="741" y="365" width="14" height="1" fill="#ff0000"/>
<rect x="743" y="369" width="9" height="1" fill="#ffffff"/>
<rect x="743" y="374" width="9" height="1" fill="#ffffff"/>
<rect x="743" y="369" width="1" height="6" fill="#ffffff"/>
<rect x="751" y="369" width="1" height="6" fill="#ffffff"/>
<rect x="746" y="375" width="3" height="1" fill="#ffffff"/>
<rect x="746" y="380" width="3" height="1" fill="#ffffff"/>
<rect x="746" y="375" width="1" height="6" fill="#ffffff"/>
<rect x="748" y="375" width="1" height="6" fill="#ffffff"/>
<rect x="747" y="349" width="1" height="34" fill="#ff0000"/>
</svg>
</body></html>
